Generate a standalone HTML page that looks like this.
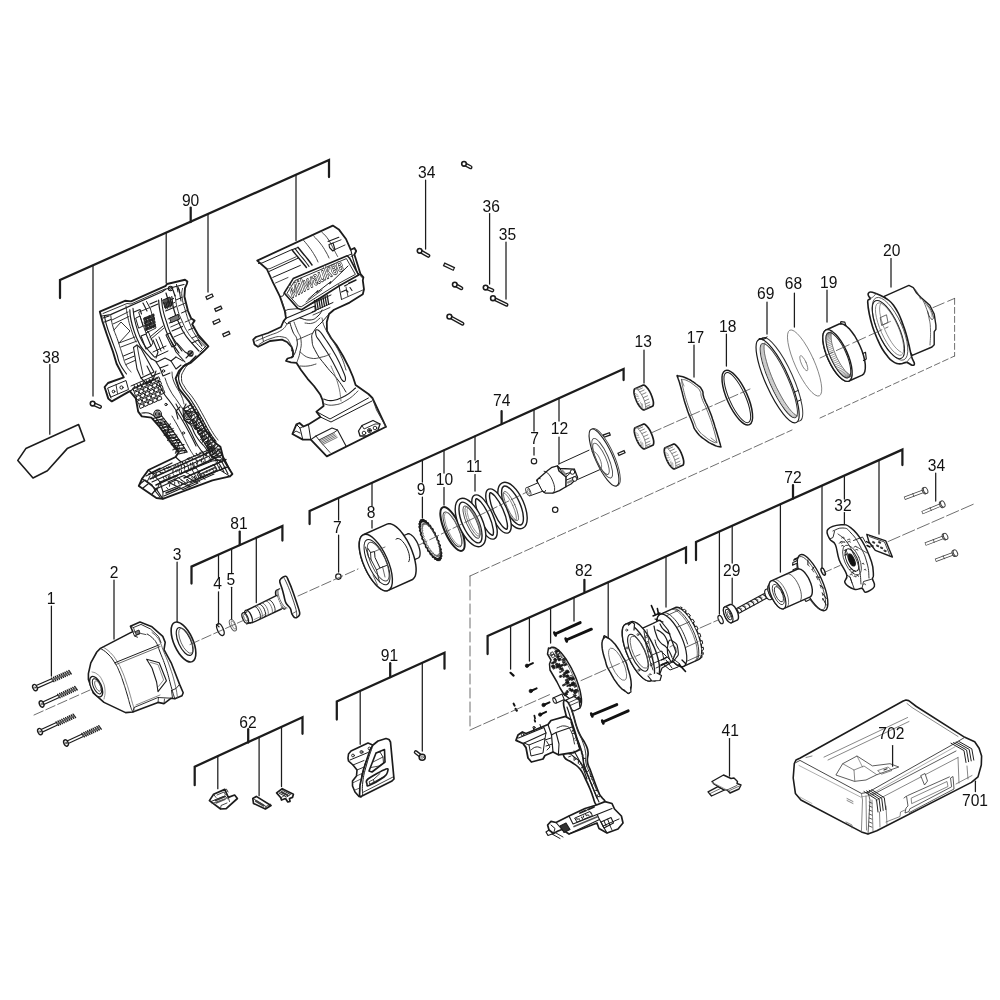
<!DOCTYPE html>
<html><head><meta charset="utf-8"><title>Exploded view</title>
<style>
html,body{margin:0;padding:0;background:#fff;}
svg{display:block;opacity:0.999;}
text{font-family:"Liberation Sans",sans-serif;fill:#111;}
</style></head><body>
<svg width="1000" height="1000" viewBox="0 0 1000 1000" stroke-linecap="round" stroke-linejoin="round">
<rect x="0" y="0" width="1000" height="1000" fill="#fff"/>
<g id="brackets">
<path d="M60 298 L60 280 L329 160 L329 177" fill="none" stroke="#1c1c1c" stroke-width="2.25" stroke-linejoin="miter"/>
<line x1="190.7" y1="207.5" x2="190.7" y2="222" stroke="#1c1c1c" stroke-width="2.25" />
<line x1="93" y1="265.3" x2="93" y2="396" stroke="#1c1c1c" stroke-width="1.25" />
<line x1="166.2" y1="232.6" x2="166.2" y2="283" stroke="#1c1c1c" stroke-width="1.25" />
<line x1="208" y1="214" x2="208" y2="292" stroke="#1c1c1c" stroke-width="1.25" />
<line x1="296" y1="174.7" x2="296" y2="240.5" stroke="#1c1c1c" stroke-width="1.25" />
<path d="M309.6 524 L309.6 511 L623.6 369 L623.6 380" fill="none" stroke="#1c1c1c" stroke-width="2.25" stroke-linejoin="miter"/>
<line x1="501.6" y1="411" x2="501.6" y2="424" stroke="#1c1c1c" stroke-width="2.25" />
<path d="M191.5 583.6 L191.5 566.6 L282.4 526.1 L282.4 540.6" fill="none" stroke="#1c1c1c" stroke-width="2.25" stroke-linejoin="miter"/>
<line x1="239.7" y1="531.5" x2="239.7" y2="545" stroke="#1c1c1c" stroke-width="2.25" />
<path d="M696 560 L696 542 L902.4 449.6 L902.4 465.1" fill="none" stroke="#1c1c1c" stroke-width="2.25" stroke-linejoin="miter"/>
<line x1="793" y1="485" x2="793" y2="498.5" stroke="#1c1c1c" stroke-width="2.25" />
<path d="M487.6 654 L487.6 636 L686 547.5 L686 563" fill="none" stroke="#1c1c1c" stroke-width="2.25" stroke-linejoin="miter"/>
<line x1="584.4" y1="579.8" x2="584.4" y2="591.5" stroke="#1c1c1c" stroke-width="2.25" />
<path d="M336.8 719.5 L336.8 701.5 L444.5 652.7 L444.5 668.7" fill="none" stroke="#1c1c1c" stroke-width="2.25" stroke-linejoin="miter"/>
<line x1="390.2" y1="663.2" x2="390.2" y2="677" stroke="#1c1c1c" stroke-width="2.25" />
<path d="M194.7 785.2 L194.7 766.7 L302.5 717.3 L302.5 733.8" fill="none" stroke="#1c1c1c" stroke-width="2.25" stroke-linejoin="miter"/>
<line x1="248.2" y1="729.2" x2="248.2" y2="742.5" stroke="#1c1c1c" stroke-width="2.25" />
</g>
<g id="leaders">
<line x1="49.8" y1="364.5" x2="49.8" y2="434.2" stroke="#1c1c1c" stroke-width="1.25" />
<line x1="425.6" y1="180" x2="425.6" y2="249" stroke="#1c1c1c" stroke-width="1.25" />
<line x1="489.6" y1="213.6" x2="489.6" y2="284" stroke="#1c1c1c" stroke-width="1.25" />
<line x1="506" y1="242" x2="506" y2="299" stroke="#1c1c1c" stroke-width="1.25" />
<line x1="644" y1="350" x2="644" y2="383" stroke="#1c1c1c" stroke-width="1.25" />
<line x1="694" y1="345" x2="694" y2="377" stroke="#1c1c1c" stroke-width="1.25" />
<line x1="726.4" y1="334" x2="726.4" y2="366" stroke="#1c1c1c" stroke-width="1.25" />
<line x1="767" y1="302" x2="767" y2="334" stroke="#1c1c1c" stroke-width="1.25" />
<line x1="794.4" y1="293" x2="794.4" y2="327" stroke="#1c1c1c" stroke-width="1.25" />
<line x1="827" y1="290" x2="827" y2="322" stroke="#1c1c1c" stroke-width="1.25" />
<line x1="891" y1="258.5" x2="891" y2="287" stroke="#1c1c1c" stroke-width="1.25" />
<line x1="935.7" y1="473" x2="935.7" y2="501" stroke="#1c1c1c" stroke-width="1.25" />
<line x1="51.4" y1="606" x2="51.4" y2="676" stroke="#1c1c1c" stroke-width="1.25" />
<line x1="114" y1="580" x2="114" y2="639" stroke="#1c1c1c" stroke-width="1.25" />
<line x1="177.1" y1="562" x2="177.1" y2="621.5" stroke="#1c1c1c" stroke-width="1.25" />
<line x1="729.5" y1="738.5" x2="729.5" y2="776" stroke="#1c1c1c" stroke-width="1.25" />
<line x1="975.4" y1="781.2" x2="975.4" y2="791.5" stroke="#1c1c1c" stroke-width="1.25" />
<line x1="338.6" y1="497.9" x2="338.6" y2="520" stroke="#1c1c1c" stroke-width="1.25" />
<line x1="338.6" y1="535" x2="338.6" y2="572" stroke="#1c1c1c" stroke-width="1.25" />
<line x1="372" y1="482.8" x2="372" y2="506" stroke="#1c1c1c" stroke-width="1.25" />
<line x1="372" y1="520.5" x2="372" y2="528" stroke="#1c1c1c" stroke-width="1.25" />
<line x1="422.4" y1="460" x2="422.4" y2="482" stroke="#1c1c1c" stroke-width="1.25" />
<line x1="422.4" y1="497" x2="422.4" y2="518" stroke="#1c1c1c" stroke-width="1.25" />
<line x1="444" y1="450.2" x2="444" y2="473" stroke="#1c1c1c" stroke-width="1.25" />
<line x1="444" y1="487.5" x2="444" y2="505" stroke="#1c1c1c" stroke-width="1.25" />
<line x1="475" y1="436.2" x2="475" y2="460" stroke="#1c1c1c" stroke-width="1.25" />
<line x1="475" y1="474.5" x2="475" y2="491" stroke="#1c1c1c" stroke-width="1.25" />
<line x1="534" y1="409.5" x2="534" y2="431" stroke="#1c1c1c" stroke-width="1.25" />
<line x1="534" y1="447.5" x2="534" y2="455" stroke="#1c1c1c" stroke-width="1.25" />
<line x1="559" y1="398.2" x2="559" y2="421" stroke="#1c1c1c" stroke-width="1.25" />
<line x1="559" y1="437" x2="559" y2="464" stroke="#1c1c1c" stroke-width="1.25" />
<line x1="218.5" y1="554.6" x2="218.5" y2="577.4" stroke="#1c1c1c" stroke-width="1.25" />
<line x1="218.5" y1="591.8" x2="218.5" y2="624" stroke="#1c1c1c" stroke-width="1.25" />
<line x1="231.6" y1="548.7" x2="231.6" y2="573" stroke="#1c1c1c" stroke-width="1.25" />
<line x1="231.6" y1="587.3" x2="231.6" y2="619.5" stroke="#1c1c1c" stroke-width="1.25" />
<line x1="256.3" y1="537.7" x2="256.3" y2="602.6" stroke="#1c1c1c" stroke-width="1.25" />
<line x1="719.4" y1="531.5" x2="719.4" y2="614" stroke="#1c1c1c" stroke-width="1.25" />
<line x1="732.2" y1="525.8" x2="732.2" y2="563" stroke="#1c1c1c" stroke-width="1.25" />
<line x1="732.2" y1="578" x2="732.2" y2="603.5" stroke="#1c1c1c" stroke-width="1.25" />
<line x1="780.4" y1="504.2" x2="780.4" y2="572" stroke="#1c1c1c" stroke-width="1.25" />
<line x1="822" y1="485.6" x2="822" y2="568" stroke="#1c1c1c" stroke-width="1.25" />
<line x1="844.4" y1="475.6" x2="844.4" y2="499" stroke="#1c1c1c" stroke-width="1.25" />
<line x1="844.4" y1="512.6" x2="844.4" y2="524" stroke="#1c1c1c" stroke-width="1.25" />
<line x1="879" y1="460.1" x2="879" y2="534" stroke="#1c1c1c" stroke-width="1.25" />
<line x1="510.6" y1="625.7" x2="510.6" y2="669" stroke="#1c1c1c" stroke-width="1.25" />
<line x1="529.4" y1="617.4" x2="529.4" y2="661" stroke="#1c1c1c" stroke-width="1.25" />
<line x1="550.6" y1="607.9" x2="550.6" y2="643" stroke="#1c1c1c" stroke-width="1.25" />
<line x1="574" y1="597.5" x2="574" y2="621" stroke="#1c1c1c" stroke-width="1.25" />
<line x1="608.2" y1="582.2" x2="608.2" y2="638" stroke="#1c1c1c" stroke-width="1.25" />
<line x1="666" y1="556.4" x2="666" y2="607" stroke="#1c1c1c" stroke-width="1.25" />
<line x1="360.2" y1="690.9" x2="360.2" y2="744.2" stroke="#1c1c1c" stroke-width="1.25" />
<line x1="422.3" y1="662.8" x2="422.3" y2="751" stroke="#1c1c1c" stroke-width="1.25" />
<line x1="217.8" y1="756.1" x2="217.8" y2="788.7" stroke="#1c1c1c" stroke-width="1.25" />
<line x1="259.1" y1="737.2" x2="259.1" y2="795.7" stroke="#1c1c1c" stroke-width="1.25" />
<line x1="281.5" y1="726.9" x2="281.5" y2="786.6" stroke="#1c1c1c" stroke-width="1.25" />
</g>
<g id="p38">
<path d="M25.8 448.6 L78.6 424.6 L84.6 440.8 L67.2 448.6 L47.4 470.8 L33 478 L17.8 460.4Z" fill="#fff" stroke="#1c1c1c" stroke-width="1.6" />
</g>
<g id="screws_top">
<line x1="464" y1="163.8" x2="470.5" y2="167.2" stroke="#1c1c1c" stroke-width="4.1" />
<line x1="464" y1="163.8" x2="470.5" y2="167.2" stroke="#fff" stroke-width="1.3" />
<circle cx="464" cy="163.8" r="2.3" fill="#fff" stroke="#1c1c1c" stroke-width="1.6"/>
<line x1="419.6" y1="250.8" x2="428.3" y2="255.8" stroke="#1c1c1c" stroke-width="4.1" />
<line x1="419.6" y1="250.8" x2="428.3" y2="255.8" stroke="#fff" stroke-width="1.3" />
<circle cx="419.6" cy="250.8" r="2.3" fill="#fff" stroke="#1c1c1c" stroke-width="1.6"/>
<line x1="443.6" y1="264.1" x2="454.4" y2="269.2" stroke="#1c1c1c" stroke-width="4.1000000000000005" stroke-linecap="butt"/>
<line x1="444.7" y1="264.6" x2="453.3" y2="268.7" stroke="#fff" stroke-width="1.5000000000000002" stroke-linecap="butt"/>
<line x1="454.8" y1="284.6" x2="461.3" y2="288.2" stroke="#1c1c1c" stroke-width="4.1" />
<line x1="454.8" y1="284.6" x2="461.3" y2="288.2" stroke="#fff" stroke-width="1.3" />
<circle cx="454.8" cy="284.6" r="2.3" fill="#fff" stroke="#1c1c1c" stroke-width="1.6"/>
<line x1="485.6" y1="287.6" x2="492.3" y2="290.3" stroke="#1c1c1c" stroke-width="4.1" />
<line x1="485.6" y1="287.6" x2="492.3" y2="290.3" stroke="#fff" stroke-width="1.3" />
<circle cx="485.6" cy="287.6" r="2.3" fill="#fff" stroke="#1c1c1c" stroke-width="1.6"/>
<line x1="493" y1="298.2" x2="506.5" y2="304.8" stroke="#1c1c1c" stroke-width="3.9" />
<line x1="493" y1="298.2" x2="506.5" y2="304.8" stroke="#fff" stroke-width="1.0999999999999999" />
<circle cx="493" cy="298.2" r="2.4" fill="#fff" stroke="#1c1c1c" stroke-width="1.6"/>
<line x1="449.4" y1="316.6" x2="462.5" y2="323.7" stroke="#1c1c1c" stroke-width="3.9" />
<line x1="449.4" y1="316.6" x2="462.5" y2="323.7" stroke="#fff" stroke-width="1.0999999999999999" />
<circle cx="449.4" cy="316.6" r="2.4" fill="#fff" stroke="#1c1c1c" stroke-width="1.6"/>
<line x1="92.6" y1="403.6" x2="100" y2="406.8" stroke="#1c1c1c" stroke-width="4.1" />
<line x1="92.6" y1="403.6" x2="100" y2="406.8" stroke="#fff" stroke-width="1.3" />
<circle cx="92.6" cy="403.6" r="2.3" fill="#fff" stroke="#1c1c1c" stroke-width="1.6"/>
<line x1="205.9" y1="298.3" x2="213.1" y2="295" stroke="#1c1c1c" stroke-width="4.1000000000000005" stroke-linecap="butt"/>
<line x1="207" y1="297.8" x2="212" y2="295.5" stroke="#fff" stroke-width="1.5000000000000002" stroke-linecap="butt"/>
<line x1="214.7" y1="310.4" x2="221.9" y2="307.1" stroke="#1c1c1c" stroke-width="4.1000000000000005" stroke-linecap="butt"/>
<line x1="215.8" y1="309.9" x2="220.8" y2="307.6" stroke="#fff" stroke-width="1.5000000000000002" stroke-linecap="butt"/>
<line x1="212.9" y1="323.3" x2="220.1" y2="320" stroke="#1c1c1c" stroke-width="4.1000000000000005" stroke-linecap="butt"/>
<line x1="214" y1="322.8" x2="219" y2="320.5" stroke="#fff" stroke-width="1.5000000000000002" stroke-linecap="butt"/>
<line x1="222.7" y1="335.7" x2="229.9" y2="332.4" stroke="#1c1c1c" stroke-width="4.1000000000000005" stroke-linecap="butt"/>
<line x1="223.8" y1="335.2" x2="228.8" y2="332.9" stroke="#fff" stroke-width="1.5000000000000002" stroke-linecap="butt"/>
</g>
<g id="p1">
<line x1="35" y1="687.6" x2="52.3" y2="680" stroke="#1c1c1c" stroke-width="4.0" stroke-linecap="butt"/>
<line x1="34.5" y1="687.8" x2="52.3" y2="680" stroke="#fff" stroke-width="1.6" stroke-linecap="butt"/>
<line x1="51.5" y1="678.1" x2="53.9" y2="681.6" stroke="#1c1c1c" stroke-width="1.35" />
<line x1="53.4" y1="677.2" x2="55.8" y2="680.8" stroke="#1c1c1c" stroke-width="1.35" />
<line x1="55.3" y1="676.4" x2="57.7" y2="679.9" stroke="#1c1c1c" stroke-width="1.35" />
<line x1="57.2" y1="675.5" x2="59.6" y2="679.1" stroke="#1c1c1c" stroke-width="1.35" />
<line x1="59.1" y1="674.7" x2="61.6" y2="678.2" stroke="#1c1c1c" stroke-width="1.35" />
<line x1="61.1" y1="673.9" x2="63.5" y2="677.4" stroke="#1c1c1c" stroke-width="1.35" />
<line x1="63" y1="673" x2="65.4" y2="676.5" stroke="#1c1c1c" stroke-width="1.35" />
<line x1="64.9" y1="672.2" x2="67.3" y2="675.7" stroke="#1c1c1c" stroke-width="1.35" />
<line x1="66.8" y1="671.3" x2="69.3" y2="674.8" stroke="#1c1c1c" stroke-width="1.35" />
<line x1="68.8" y1="670.5" x2="71.2" y2="674" stroke="#1c1c1c" stroke-width="1.35" />
<line x1="52.3" y1="680" x2="69.6" y2="672.4" stroke="#666" stroke-width="1.6" />
<ellipse cx="35" cy="687.6" rx="2.1" ry="3.3" transform="rotate(-24.2 35 687.6)" fill="#fff" stroke="#1c1c1c" stroke-width="1.4" />
<circle cx="35" cy="687.6" r="0.8" fill="none" stroke="#1c1c1c" stroke-width="0.6"/>
<line x1="41.6" y1="704" x2="58.6" y2="696.2" stroke="#1c1c1c" stroke-width="4.0" stroke-linecap="butt"/>
<line x1="41.1" y1="704.2" x2="58.6" y2="696.2" stroke="#fff" stroke-width="1.6" stroke-linecap="butt"/>
<line x1="57.7" y1="694.3" x2="60.2" y2="697.8" stroke="#1c1c1c" stroke-width="1.35" />
<line x1="59.6" y1="693.4" x2="62.1" y2="696.9" stroke="#1c1c1c" stroke-width="1.35" />
<line x1="61.5" y1="692.6" x2="64" y2="696" stroke="#1c1c1c" stroke-width="1.35" />
<line x1="63.4" y1="691.7" x2="65.9" y2="695.2" stroke="#1c1c1c" stroke-width="1.35" />
<line x1="65.3" y1="690.8" x2="67.8" y2="694.3" stroke="#1c1c1c" stroke-width="1.35" />
<line x1="67.2" y1="690" x2="69.6" y2="693.4" stroke="#1c1c1c" stroke-width="1.35" />
<line x1="69.1" y1="689.1" x2="71.5" y2="692.6" stroke="#1c1c1c" stroke-width="1.35" />
<line x1="70.9" y1="688.2" x2="73.4" y2="691.7" stroke="#1c1c1c" stroke-width="1.35" />
<line x1="72.8" y1="687.4" x2="75.3" y2="690.8" stroke="#1c1c1c" stroke-width="1.35" />
<line x1="74.7" y1="686.5" x2="77.2" y2="690" stroke="#1c1c1c" stroke-width="1.35" />
<line x1="58.6" y1="696.2" x2="75.6" y2="688.4" stroke="#666" stroke-width="1.6" />
<ellipse cx="41.6" cy="704" rx="2.1" ry="3.3" transform="rotate(-24.2 41.6 704)" fill="#fff" stroke="#1c1c1c" stroke-width="1.4" />
<circle cx="41.6" cy="704" r="0.8" fill="none" stroke="#1c1c1c" stroke-width="0.6"/>
<line x1="40" y1="731.6" x2="57" y2="723.8" stroke="#1c1c1c" stroke-width="4.0" stroke-linecap="butt"/>
<line x1="39.5" y1="731.8" x2="57" y2="723.8" stroke="#fff" stroke-width="1.6" stroke-linecap="butt"/>
<line x1="56.1" y1="721.9" x2="58.6" y2="725.4" stroke="#1c1c1c" stroke-width="1.35" />
<line x1="58" y1="721" x2="60.5" y2="724.5" stroke="#1c1c1c" stroke-width="1.35" />
<line x1="59.9" y1="720.2" x2="62.4" y2="723.6" stroke="#1c1c1c" stroke-width="1.35" />
<line x1="61.8" y1="719.3" x2="64.3" y2="722.8" stroke="#1c1c1c" stroke-width="1.35" />
<line x1="63.7" y1="718.4" x2="66.2" y2="721.9" stroke="#1c1c1c" stroke-width="1.35" />
<line x1="65.6" y1="717.6" x2="68" y2="721" stroke="#1c1c1c" stroke-width="1.35" />
<line x1="67.5" y1="716.7" x2="69.9" y2="720.2" stroke="#1c1c1c" stroke-width="1.35" />
<line x1="69.3" y1="715.8" x2="71.8" y2="719.3" stroke="#1c1c1c" stroke-width="1.35" />
<line x1="71.2" y1="715" x2="73.7" y2="718.4" stroke="#1c1c1c" stroke-width="1.35" />
<line x1="73.1" y1="714.1" x2="75.6" y2="717.6" stroke="#1c1c1c" stroke-width="1.35" />
<line x1="57" y1="723.8" x2="74" y2="716" stroke="#666" stroke-width="1.6" />
<ellipse cx="40" cy="731.6" rx="2.1" ry="3.3" transform="rotate(-24.2 40 731.6)" fill="#fff" stroke="#1c1c1c" stroke-width="1.4" />
<circle cx="40" cy="731.6" r="0.8" fill="none" stroke="#1c1c1c" stroke-width="0.6"/>
<line x1="66" y1="743" x2="82.8" y2="735.3" stroke="#1c1c1c" stroke-width="4.0" stroke-linecap="butt"/>
<line x1="65.5" y1="743.2" x2="82.8" y2="735.3" stroke="#fff" stroke-width="1.6" stroke-linecap="butt"/>
<line x1="81.9" y1="733.4" x2="84.4" y2="736.9" stroke="#1c1c1c" stroke-width="1.35" />
<line x1="83.8" y1="732.5" x2="86.3" y2="736" stroke="#1c1c1c" stroke-width="1.35" />
<line x1="85.7" y1="731.7" x2="88.1" y2="735.2" stroke="#1c1c1c" stroke-width="1.35" />
<line x1="87.5" y1="730.8" x2="90" y2="734.3" stroke="#1c1c1c" stroke-width="1.35" />
<line x1="89.4" y1="730" x2="91.9" y2="733.5" stroke="#1c1c1c" stroke-width="1.35" />
<line x1="91.3" y1="729.1" x2="93.7" y2="732.6" stroke="#1c1c1c" stroke-width="1.35" />
<line x1="93.1" y1="728.3" x2="95.6" y2="731.7" stroke="#1c1c1c" stroke-width="1.35" />
<line x1="95" y1="727.4" x2="97.5" y2="730.9" stroke="#1c1c1c" stroke-width="1.35" />
<line x1="96.9" y1="726.5" x2="99.3" y2="730" stroke="#1c1c1c" stroke-width="1.35" />
<line x1="98.7" y1="725.7" x2="101.2" y2="729.2" stroke="#1c1c1c" stroke-width="1.35" />
<line x1="82.8" y1="735.3" x2="99.6" y2="727.6" stroke="#666" stroke-width="1.6" />
<ellipse cx="66" cy="743" rx="2.1" ry="3.3" transform="rotate(-24.2 66 743)" fill="#fff" stroke="#1c1c1c" stroke-width="1.4" />
<circle cx="66" cy="743" r="0.8" fill="none" stroke="#1c1c1c" stroke-width="0.6"/>
</g>
<g id="p34r">
<line x1="904.4" y1="498.3" x2="923.7" y2="491.1" stroke="#444" stroke-width="3.4" stroke-linecap="butt"/>
<line x1="905" y1="498.1" x2="923.7" y2="491.1" stroke="#fff" stroke-width="1.9" stroke-linecap="butt"/>
<line x1="912.7" y1="493.5" x2="913.9" y2="496.5" stroke="#444" stroke-width="0.8" />
<ellipse cx="924.5" cy="490.8" rx="2" ry="3.3" transform="rotate(-24.2 924.5 490.8)" fill="#fff" stroke="#444" stroke-width="1.0" />
<ellipse cx="925.6" cy="490.4" rx="2" ry="3.3" transform="rotate(-24.2 925.6 490.4)" fill="#fff" stroke="#444" stroke-width="1.0" />
<line x1="922" y1="512.7" x2="941" y2="504.8" stroke="#444" stroke-width="3.4" stroke-linecap="butt"/>
<line x1="922.6" y1="512.5" x2="941" y2="504.8" stroke="#fff" stroke-width="1.9" stroke-linecap="butt"/>
<line x1="930.1" y1="507.6" x2="931.4" y2="510.5" stroke="#444" stroke-width="0.8" />
<ellipse cx="941.7" cy="504.5" rx="2" ry="3.3" transform="rotate(-24.2 941.7 504.5)" fill="#fff" stroke="#444" stroke-width="1.0" />
<ellipse cx="942.8" cy="504" rx="2" ry="3.3" transform="rotate(-24.2 942.8 504)" fill="#fff" stroke="#444" stroke-width="1.0" />
<line x1="925.2" y1="544.2" x2="943.7" y2="537.1" stroke="#444" stroke-width="3.4" stroke-linecap="butt"/>
<line x1="925.8" y1="544" x2="943.7" y2="537.1" stroke="#fff" stroke-width="1.9" stroke-linecap="butt"/>
<line x1="933.2" y1="539.4" x2="934.3" y2="542.4" stroke="#444" stroke-width="0.8" />
<ellipse cx="944.5" cy="536.8" rx="2" ry="3.3" transform="rotate(-24.2 944.5 536.8)" fill="#fff" stroke="#444" stroke-width="1.0" />
<ellipse cx="945.6" cy="536.4" rx="2" ry="3.3" transform="rotate(-24.2 945.6 536.4)" fill="#fff" stroke="#444" stroke-width="1.0" />
<line x1="935.4" y1="560.4" x2="953.5" y2="553.7" stroke="#444" stroke-width="3.4" stroke-linecap="butt"/>
<line x1="936" y1="560.2" x2="953.5" y2="553.7" stroke="#fff" stroke-width="1.9" stroke-linecap="butt"/>
<line x1="943.2" y1="555.8" x2="944.4" y2="558.8" stroke="#444" stroke-width="0.8" />
<ellipse cx="954.3" cy="553.4" rx="2" ry="3.3" transform="rotate(-24.2 954.3 553.4)" fill="#fff" stroke="#444" stroke-width="1.0" />
<ellipse cx="955.4" cy="553" rx="2" ry="3.3" transform="rotate(-24.2 955.4 553)" fill="#fff" stroke="#444" stroke-width="1.0" />
</g>
<g id="p2">
<path d="M88.4 673.6 L90.8 662.8 L96.8 652 L100.4 648.4 L129.2 633.4 L132.8 631.6 L130.4 626.2 L140 622 L152 626.8 L162.8 636.4 L165.2 642.4 L164 649.6 L171.2 662.8 L179.6 684.4 L183.2 692.8 L182 695.8 L174.8 698.8 L171.2 698.2 L164 703.6 L158 702.4 L132.8 712 L125.6 712.6 L104 702.4 L93.2 692.8 L88.4 679.6Z" fill="#fff" stroke="#1c1c1c" stroke-width="1.6" />
<path d="M100.4 648.4 C102.4 649.9 104.2 650.2 108 654 C111.8 657.8 111.7 658 114.8 662.8 C117.9 667.6 117.3 666.9 119.5 672 C121.7 677.1 121.2 676.1 123.2 682 C125.2 687.9 125.1 687.6 127 694 C128.9 700.4 128.9 701.2 130.4 706 C131.9 710.8 132.2 710.4 132.8 712" fill="none" stroke="#1c1c1c" stroke-width="1.0" />
<path d="M103 647 C105 648.5 106.7 648.9 110.5 652.8 C114.3 656.7 114.1 656.7 117.2 661.6 C120.3 666.5 119.7 665.8 122 671 C124.3 676.2 123.8 675.1 125.8 681 C127.8 686.9 127.7 686.6 129.6 693 C131.5 699.4 131.5 700.2 133 705 C134.5 709.8 134.8 709.4 135.4 711" fill="none" stroke="#555" stroke-width="0.7" />
<path d="M114.8 662.8 L159.2 644.8" fill="none" stroke="#1c1c1c" stroke-width="1.0" />
<path d="M115.8 664.6 L160 646.6" fill="none" stroke="#444" stroke-width="0.8" />
<path d="M132.8 631.6 L134.5 636 L137.5 637.2" fill="none" stroke="#1c1c1c" stroke-width="1.0" />
<path d="M130.4 626.2 L133.5 627.5 L141 624.4 L150.5 629 L158.5 636.5 L161 642.5" fill="none" stroke="#1c1c1c" stroke-width="0.9" />
<path d="M133.5 627.5 L135 632.5" fill="none" stroke="#1c1c1c" stroke-width="0.8" />
<path d="M135.5 631.5 L139 630 L140 633.5 L136.6 635Z" fill="#777" stroke="#1c1c1c" stroke-width="0.9" />
<path d="M134.5 636 L140.5 633.4 L146 634.6" fill="none" stroke="#1c1c1c" stroke-width="0.8" />
<path d="M147.2 634 C148.6 635.1 149.9 635.4 152.5 638 C155.1 640.6 154.8 639.9 156.8 643.6 C158.8 647.3 157.5 645.5 160 652 C162.5 658.5 163 658.7 166 668 C169 677.3 168.9 678.6 171.2 686.8 C173.5 695 173.8 695.6 174.8 698.8" fill="none" stroke="#1c1c1c" stroke-width="1.0" />
<path d="M152 632.5 C153.3 633.7 154.7 634.2 157 637 C159.3 639.8 158.8 639.3 160.5 643 C162.2 646.7 161.1 644.9 163.5 651 C165.9 657.1 166.4 657.2 169.5 666 C172.6 674.8 172.9 675.6 175 684 C177.1 692.4 176.8 693.9 177.5 697.5" fill="none" stroke="#444" stroke-width="0.8" />
<path d="M146.6 659.2 L159.2 662.8 L166.4 680.8 L158 691.6 L156.6 682 L152 668Z" fill="none" stroke="#1c1c1c" stroke-width="1.1" />
<path d="M150.5 662.4 L158 664.6 L163.6 680 L158.6 686.4" fill="none" stroke="#555" stroke-width="0.7" />
<path d="M132.8 712 L134 707.5 L158 697.5 L171.2 698.2" fill="none" stroke="#1c1c1c" stroke-width="0.9" />
<path d="M136 705 L160 695" fill="none" stroke="#555" stroke-width="0.7" />
<path d="M158 702.4 L158.5 697.5" fill="none" stroke="#1c1c1c" stroke-width="0.8" />
<path d="M164 703.6 L164.5 699" fill="none" stroke="#1c1c1c" stroke-width="0.8" />
<path d="M171.5 690.5 L176 688.5 L179.6 684.4" fill="none" stroke="#1c1c1c" stroke-width="0.9" />
<path d="M171.5 690.5 L172.5 698" fill="none" stroke="#1c1c1c" stroke-width="0.9" />
<ellipse cx="96.2" cy="686.6" rx="5.2" ry="11" transform="rotate(-24.2 96.2 686.6)" fill="#fff" stroke="#1c1c1c" stroke-width="1.3" />
<ellipse cx="97" cy="686.3" rx="3.6" ry="8.2" transform="rotate(-24.2 97 686.3)" fill="none" stroke="#1c1c1c" stroke-width="1.0" />
<ellipse cx="97.8" cy="686" rx="2.4" ry="5.6" transform="rotate(-24.2 97.8 686)" fill="none" stroke="#555" stroke-width="0.8" />
<path d="M92 672 C93.3 672.5 94.3 671.9 97 674 C99.7 676.1 99.9 675.7 102 680 C104.1 684.3 104.5 684.9 105 690 C105.5 695.1 104.3 696.6 104 699" fill="none" stroke="#666" stroke-width="0.7" />
</g>
<g id="p3">
<ellipse cx="183.5" cy="642" rx="9.5" ry="21.5" transform="rotate(-24.2 183.5 642)" fill="#fff" stroke="#1c1c1c" stroke-width="1.6" />
<ellipse cx="184.6" cy="641.5" rx="6.2" ry="15" transform="rotate(-24.2 184.6 641.5)" fill="none" stroke="#1c1c1c" stroke-width="1.2" />
<ellipse cx="186" cy="640.8" rx="5.2" ry="13.5" transform="rotate(-24.2 186 640.8)" fill="none" stroke="#555" stroke-width="0.8" />
</g>
<g id="p45">
<ellipse cx="220.4" cy="629.6" rx="2.9" ry="6.3" transform="rotate(-24.2 220.4 629.6)" fill="none" stroke="#1c1c1c" stroke-width="1.3" />
<path d="M216.4 624.6 L219 626.8" fill="none" stroke="#1c1c1c" stroke-width="1.2" />
<ellipse cx="232.9" cy="625.2" rx="2.7" ry="6.2" transform="rotate(-24.2 232.9 625.2)" fill="none" stroke="#555" stroke-width="0.9" />
<ellipse cx="233.5" cy="625" rx="1.5" ry="4.6" transform="rotate(-24.2 233.5 625)" fill="none" stroke="#777" stroke-width="0.7" />
</g>
<g id="anvil">
<path d="M280.4 579.3 C281.4 578.3 284.5 576 285.9 576.3 C287.3 576.6 287.4 578.3 288.6 580.9 C289.8 583.5 291.4 587.3 293 591.9 C294.6 596.5 297.4 604.6 298.5 608.4 C299.6 612.2 300.2 612.9 299.6 614.5 C299.1 616.1 296.5 617.9 295.2 617.8 C293.9 617.7 292.7 615.5 291.9 613.9 C291.1 612.3 291.3 610.2 290.3 608.4 C289.3 606.6 286.9 605 285.9 602.9 C284.8 600.8 284.6 598.4 284 596 C283.4 593.6 282.7 590.9 282 588.6 C281.3 586.3 280.1 583.5 279.8 582 C279.5 580.5 279.4 580.2 280.4 579.3Z" fill="#fff" stroke="#1c1c1c" stroke-width="1.6" />
<path d="M284 578 C284.5 579 285.2 579.8 286.6 583 C288 586.2 289.1 588.7 291 594 C292.9 599.3 294.9 605 296 609.5 C297.1 614 296.5 615 296.6 616.4" fill="none" stroke="#333" stroke-width="0.9" />
<path d="M291.9 613.9 L296 611.6" fill="none" stroke="#444" stroke-width="0.8" />
<path d="M284.8 609.2 L283.7 609 L282.6 608.3 L281.3 607.1 L279.9 605.4 L278.7 603.4 L277.5 601.1 L276.6 598.7 L275.9 596.4 L275.5 594.3 L275.4 592.5 L275.7 591.1 L276.3 590.3 L279.7 588.8" fill="#fff" stroke="#1c1c1c" stroke-width="1.2" />
<path d="M285.8 608.6 L284.8 608.3 L283.6 607.5 L282.4 606.2 L281.1 604.5 L279.9 602.5 L278.8 600.3 L278 598.1 L277.3 595.8 L276.9 593.8 L276.8 592.1 L277 590.7 L277.5 589.8" fill="none" stroke="#444" stroke-width="0.8" />
<path d="M287 608 L286 607.7 L284.8 606.9 L283.6 605.6 L282.3 603.9 L281.1 601.9 L280 599.7 L279.2 597.5 L278.5 595.2 L278.1 593.2 L278 591.5 L278.2 590.1 L278.7 589.2" fill="none" stroke="#444" stroke-width="0.8" />
<path d="M247.4 610 L276.5 595.2 L282 609 L252.3 622.7Z" fill="#fff" stroke="#1c1c1c" stroke-width="0.0" />
<line x1="247.4" y1="610" x2="276.8" y2="595.4" stroke="#1c1c1c" stroke-width="1.4" />
<line x1="252.3" y1="622.7" x2="281.4" y2="609" stroke="#1c1c1c" stroke-width="1.4" />
<ellipse cx="248.4" cy="616.6" rx="3" ry="6.9" transform="rotate(-24.2 248.4 616.6)" fill="#fff" stroke="#1c1c1c" stroke-width="1.3" />
<path d="M243 613.6 L247 611.8" fill="none" stroke="#1c1c1c" stroke-width="1.2" />
<path d="M246.6 624 L250.6 622.6" fill="none" stroke="#1c1c1c" stroke-width="1.2" />
<ellipse cx="245.2" cy="617.9" rx="2.5" ry="5.6" transform="rotate(-24.2 245.2 617.9)" fill="#fff" stroke="#1c1c1c" stroke-width="1.3" />
<ellipse cx="245.6" cy="617.7" rx="1.5" ry="3.8" transform="rotate(-24.2 245.6 617.7)" fill="none" stroke="#555" stroke-width="0.8" />
<path d="M254.2 606.5 L255.2 606.7 L256.3 607.3 L257.4 608.5 L258.4 610 L259.3 611.7 L260 613.5 L260.4 615.3 L260.5 616.9 L260.3 618.1 L259.8 619" fill="none" stroke="#1c1c1c" stroke-width="1.0" />
<path d="M256 605.7 L257 605.9 L258.1 606.5 L259.2 607.6 L260.3 609.1 L261.2 610.9 L261.9 612.7 L262.3 614.5 L262.4 616.1 L262.1 617.3 L261.6 618.2" fill="none" stroke="#555" stroke-width="0.8" />
<path d="M259.2 604.3 L260.2 604.4 L261.3 605.1 L262.4 606.2 L263.5 607.7 L264.4 609.4 L265 611.3 L265.5 613 L265.6 614.6 L265.3 615.9 L264.8 616.7" fill="none" stroke="#1c1c1c" stroke-width="1.0" />
<path d="M261.9 603 L262.9 603.2 L264 603.9 L265.1 605 L266.2 606.5 L267.1 608.2 L267.8 610 L268.2 611.8 L268.3 613.4 L268.1 614.6 L267.5 615.5" fill="none" stroke="#555" stroke-width="0.8" />
<path d="M266 601.2 L267 601.3 L268.1 602 L269.2 603.1 L270.3 604.6 L271.2 606.4 L271.9 608.2 L272.3 610 L272.4 611.5 L272.2 612.8 L271.6 613.6" fill="none" stroke="#555" stroke-width="0.8" />
<path d="M268.8 599.9 L269.8 600.1 L270.8 600.8 L272 601.9 L273 603.4 L273.9 605.1 L274.6 606.9 L275 608.7 L275.1 610.3 L274.9 611.6 L274.4 612.4" fill="none" stroke="#1c1c1c" stroke-width="0.9" />
<line x1="254" y1="619.6" x2="266" y2="614" stroke="#666" stroke-width="0.7" />
</g>
<circle cx="338.4" cy="576.6" r="2.7" fill="#fff" stroke="#1c1c1c" stroke-width="1.2"/>
<circle cx="534" cy="461.2" r="2.7" fill="#fff" stroke="#1c1c1c" stroke-width="1.2"/>
<circle cx="555.2" cy="509.8" r="2.7" fill="#fff" stroke="#1c1c1c" stroke-width="1.2"/>
<g id="p8">
<path d="M397.8 538.3 L407.3 534 L408.4 533.7 L409.7 534 L411 534.7 L412.5 535.9 L413.9 537.4 L415.3 539.3 L416.6 541.4 L417.8 543.7 L418.7 546.1 L419.4 548.5 L419.9 550.8 L420.1 552.9 L420 554.8 L419.7 556.3 L419 557.4 L418.2 558 L408.6 562.3" fill="#fff" stroke="#1c1c1c" stroke-width="1.3" />
<path d="M388.3 590.4 L386.8 590.8 L385 590.7 L383.2 590.2 L381.2 589.2 L379.1 587.7 L376.9 585.7 L374.7 583.4 L372.6 580.8 L370.5 577.8 L368.5 574.6 L366.6 571.1 L364.9 567.5 L363.3 563.8 L362 560.2 L360.9 556.5 L360.1 553 L359.5 549.6 L359.2 546.4 L359.2 543.5 L359.5 541 L360.1 538.8 L360.9 537 L362 535.7 L363.3 534.8 L387 524.1 L388.5 523.7 L390.3 523.8 L392.2 524.4 L394.2 525.4 L396.3 526.9 L398.4 528.8 L400.6 531.1 L402.7 533.8 L404.8 536.8 L406.9 540 L408.7 543.4 L410.5 547 L412 550.7 L413.3 554.4 L414.4 558 L415.2 561.6 L415.8 565 L416.1 568.1 L416.1 571 L415.8 573.6 L415.3 575.8 L414.4 577.5 L413.3 578.9 L412 579.8Z" fill="#fff" stroke="#1c1c1c" stroke-width="1.5" />
<path d="M396 539.2 L397 538.6 L398.2 538.5 L399.7 539 L401.2 540 L402.8 541.6 L404.4 543.6 L405.9 545.9 L407.2 548.4 L408.2 551.1 L409 553.7 L409.4 556.2 L409.5 558.5 L409.3 560.3 L408.7 561.7" fill="none" stroke="#1c1c1c" stroke-width="1.0" />
<ellipse cx="375.8" cy="562.6" rx="12" ry="30.5" transform="rotate(-24.2 375.8 562.6)" fill="#fff" stroke="#1c1c1c" stroke-width="1.4" />
<ellipse cx="377" cy="562.1" rx="9" ry="24.5" transform="rotate(-24.2 377 562.1)" fill="none" stroke="#1c1c1c" stroke-width="1.0" />
<ellipse cx="378.2" cy="561.6" rx="7.4" ry="21" transform="rotate(-24.2 378.2 561.6)" fill="none" stroke="#444" stroke-width="0.9" />
<path d="M368 548.5 L370.5 552.5 L374.5 551.5 L375 557.5 L380 568 L386.5 565.5" fill="none" stroke="#1c1c1c" stroke-width="1.0" />
<path d="M370.5 552.5 L371 559.5 L376.5 570 L380 568" fill="none" stroke="#1c1c1c" stroke-width="0.9" />
<path d="M376.5 570 L379.5 582" fill="none" stroke="#1c1c1c" stroke-width="0.9" />
<path d="M374.5 551.5 L385 547" fill="none" stroke="#444" stroke-width="0.8" />
<path d="M365.5 547 L368.5 557 L371 559.5" fill="none" stroke="#1c1c1c" stroke-width="0.9" />
<path d="M373 575 L377.5 585" fill="none" stroke="#444" stroke-width="0.8" />
<path d="M382.5 566.5 L385 577" fill="none" stroke="#444" stroke-width="0.8" />
</g>
<g id="p9">
<path d="M437 537 C437.5 538.3 436.6 537.8 437.1 539.3 C437.7 540.7 438.2 540.1 438.7 541.3 C439.2 542.6 438.1 541.7 438.6 543.1 C439 544.5 439.8 544.3 440.1 545.6 C440.5 546.8 439.3 545.5 439.6 546.9 C440 548.2 440.9 548.4 441.1 549.6 C441.3 550.7 440.1 549.1 440.3 550.3 C440.5 551.5 441.5 552.1 441.6 553.1 C441.7 554.1 440.5 552.2 440.5 553.2 C440.5 554.2 441.7 555.3 441.6 556.1 C441.5 556.9 440.5 554.9 440.3 555.6 C440.2 556.4 441.3 557.9 441.1 558.4 C440.9 559 440 556.9 439.7 557.4 C439.4 557.8 440.5 559.6 440.2 559.9 C439.8 560.2 439.1 558.1 438.6 558.3 C438.2 558.5 439.3 560.5 438.8 560.5 C438.3 560.6 437.8 558.6 437.2 558.5 C436.6 558.4 437.6 560.5 437.1 560.3 C436.5 560 436.2 558.2 435.5 557.8 C434.8 557.4 435.7 559.6 435 559.1 C434.4 558.6 434.3 557 433.6 556.4 C432.8 555.7 433.5 557.8 432.8 557.1 C432.1 556.4 432.3 555.1 431.5 554.2 C430.7 553.3 431.2 555.3 430.5 554.3 C429.8 553.4 430.2 552.6 429.4 551.5 C428.6 550.3 428.8 552.1 428.1 551 C427.4 549.9 428.1 549.5 427.3 548.2 C426.6 546.9 426.5 548.3 425.9 547.1 C425.2 545.9 426.1 545.9 425.4 544.6 C424.7 543.2 424.4 544.2 423.8 543 C423.3 541.7 424.2 542.2 423.7 540.7 C423.1 539.3 422.6 539.9 422.1 538.7 C421.6 537.4 422.7 538.3 422.2 536.9 C421.8 535.5 421 535.7 420.7 534.4 C420.3 533.2 421.5 534.5 421.2 533.1 C420.8 531.8 419.9 531.6 419.7 530.4 C419.5 529.3 420.7 530.9 420.5 529.7 C420.3 528.5 419.3 527.9 419.2 526.9 C419.1 525.9 420.3 527.8 420.3 526.8 C420.3 525.8 419.1 524.7 419.2 523.9 C419.3 523.1 420.3 525.1 420.5 524.4 C420.6 523.6 419.5 522.1 419.7 521.6 C419.9 521 420.8 523.1 421.1 522.6 C421.4 522.2 420.3 520.4 420.6 520.1 C421 519.8 421.7 521.9 422.2 521.7 C422.6 521.5 421.5 519.5 422 519.5 C422.5 519.4 423 521.4 423.6 521.5 C424.2 521.6 423.2 519.5 423.7 519.7 C424.3 520 424.6 521.8 425.3 522.2 C426 522.6 425.1 520.4 425.8 520.9 C426.4 521.4 426.5 523 427.2 523.6 C428 524.3 427.3 522.2 428 522.9 C428.7 523.6 428.5 524.9 429.3 525.8 C430.1 526.7 429.6 524.7 430.3 525.7 C431 526.6 430.6 527.4 431.4 528.5 C432.2 529.7 432 527.9 432.7 529 C433.4 530.1 432.7 530.5 433.5 531.8 C434.2 533.1 434.3 531.7 434.9 532.9 C435.6 534.1 434.7 534.1 435.4 535.4 C436.1 536.8 436.4 535.8 437 537Z" fill="#fff" stroke="#1c1c1c" stroke-width="1.7" />
<path d="M436.9 538.2 C437.4 539.2 436.4 538.7 436.9 539.9 C437.3 541.2 437.9 540.7 438.3 541.8 C438.7 542.8 437.6 541.9 438 543.1 C438.3 544.3 439.1 544.3 439.4 545.3 C439.7 546.3 438.5 545 438.8 546.1 C439 547.2 440 547.7 440.1 548.6 C440.3 549.5 439.1 547.9 439.2 548.8 C439.3 549.8 440.4 550.7 440.4 551.5 C440.5 552.2 439.4 550.4 439.3 551.2 C439.3 552 440.4 553.2 440.3 553.8 C440.3 554.5 439.2 552.4 439.1 553 C438.9 553.6 440 555.2 439.8 555.6 C439.6 556 438.7 553.9 438.4 554.3 C438.1 554.6 439.3 556.5 439 556.7 C438.6 556.9 437.9 554.8 437.5 554.9 C437.1 555 438.1 557 437.7 557 C437.3 557 436.8 555 436.3 554.9 C435.8 554.7 436.7 556.8 436.2 556.6 C435.7 556.4 435.4 554.5 434.8 554.2 C434.2 553.8 435 555.9 434.4 555.4 C433.9 555 433.8 553.4 433.2 552.8 C432.6 552.2 433.1 554.2 432.5 553.6 C432 553 432.1 551.7 431.5 550.9 C430.8 550.1 431.1 551.9 430.6 551.1 C430 550.3 430.4 549.5 429.7 548.5 C429.1 547.5 429.2 549.1 428.6 548.2 C428 547.3 428.7 546.9 428.1 545.8 C427.4 544.6 427.3 545.9 426.8 544.9 C426.2 543.9 427.1 543.9 426.5 542.7 C425.9 541.5 425.5 542.4 425.1 541.3 C424.6 540.3 425.6 540.8 425.1 539.6 C424.7 538.3 424.1 538.8 423.7 537.7 C423.3 536.7 424.4 537.6 424 536.4 C423.7 535.2 422.9 535.2 422.6 534.2 C422.3 533.2 423.5 534.5 423.2 533.4 C423 532.3 422 531.8 421.9 530.9 C421.7 530 422.9 531.6 422.8 530.7 C422.7 529.7 421.6 528.8 421.6 528 C421.5 527.3 422.6 529.1 422.7 528.3 C422.7 527.5 421.6 526.3 421.7 525.7 C421.7 525 422.8 527.1 422.9 526.5 C423.1 525.9 422 524.3 422.2 523.9 C422.4 523.5 423.3 525.6 423.6 525.2 C423.9 524.9 422.7 523 423 522.8 C423.4 522.6 424.1 524.7 424.5 524.6 C424.9 524.5 423.9 522.5 424.3 522.5 C424.7 522.5 425.2 524.5 425.7 524.6 C426.2 524.8 425.3 522.7 425.8 522.9 C426.3 523.1 426.6 525 427.2 525.3 C427.8 525.7 427 523.6 427.6 524.1 C428.1 524.5 428.2 526.1 428.8 526.7 C429.4 527.3 428.9 525.3 429.5 525.9 C430 526.5 429.9 527.8 430.5 528.6 C431.2 529.4 430.9 527.6 431.4 528.4 C432 529.2 431.6 530 432.3 531 C432.9 532 432.8 530.4 433.4 531.3 C434 532.2 433.3 532.6 433.9 533.7 C434.6 534.9 434.7 533.6 435.2 534.6 C435.8 535.6 434.9 535.6 435.5 536.8 C436.1 538 436.5 537.1 436.9 538.2Z" fill="none" stroke="#444" stroke-width="0.8" />
</g>
<g id="p10">
<ellipse cx="452.5" cy="529" rx="8" ry="23.8" transform="rotate(-24.2 452.5 529)" fill="#fff" stroke="#1c1c1c" stroke-width="2.0" />
<ellipse cx="452.4" cy="529.4" rx="5.8" ry="19" transform="rotate(-24.2 452.4 529.4)" fill="none" stroke="#333" stroke-width="0.9" />
<ellipse cx="453.4" cy="529" rx="5.4" ry="18" transform="rotate(-24.2 453.4 529)" fill="none" stroke="#777" stroke-width="0.7" />
</g>
<g id="p11">
<ellipse cx="512.5" cy="505.5" rx="9.5" ry="23" transform="rotate(-24.2 512.5 505.5)" fill="none" stroke="#1c1c1c" stroke-width="5.2" />
<ellipse cx="512.5" cy="505.5" rx="9.5" ry="23" transform="rotate(-24.2 512.5 505.5)" fill="none" stroke="#fff" stroke-width="2.4" />
<ellipse cx="511" cy="506" rx="4" ry="16" transform="rotate(-24.2 511 506)" fill="none" stroke="#555" stroke-width="0.8" />
<ellipse cx="509.5" cy="506.7" rx="3.5" ry="15" transform="rotate(-24.2 509.5 506.7)" fill="none" stroke="#777" stroke-width="0.8" />
<ellipse cx="498.5" cy="511" rx="6.6" ry="22" transform="rotate(-24.2 498.5 511)" fill="#fff" stroke="#1c1c1c" stroke-width="5.2" />
<ellipse cx="498.5" cy="511" rx="6.6" ry="22" transform="rotate(-24.2 498.5 511)" fill="none" stroke="#fff" stroke-width="2.4" />
<ellipse cx="484.5" cy="517" rx="6.6" ry="22" transform="rotate(-24.2 484.5 517)" fill="#fff" stroke="#1c1c1c" stroke-width="5.2" />
<ellipse cx="484.5" cy="517" rx="6.6" ry="22" transform="rotate(-24.2 484.5 517)" fill="none" stroke="#fff" stroke-width="2.4" />
<ellipse cx="470.5" cy="522.5" rx="10" ry="24" transform="rotate(-24.2 470.5 522.5)" fill="#fff" stroke="#1c1c1c" stroke-width="5.2" />
<ellipse cx="470.5" cy="522.5" rx="10" ry="24" transform="rotate(-24.2 470.5 522.5)" fill="none" stroke="#fff" stroke-width="2.4" />
<ellipse cx="471.5" cy="522.1" rx="5" ry="17.5" transform="rotate(-24.2 471.5 522.1)" fill="none" stroke="#444" stroke-width="0.9" />
<ellipse cx="472.7" cy="521.5" rx="4.4" ry="16" transform="rotate(-24.2 472.7 521.5)" fill="none" stroke="#666" stroke-width="0.8" />
<ellipse cx="473.9" cy="521" rx="3.8" ry="14.5" transform="rotate(-24.2 473.9 521)" fill="none" stroke="#888" stroke-width="0.8" />
</g>
<g id="p12">
<line x1="603.1" y1="436.3" x2="610.4" y2="433.7" stroke="#1c1c1c" stroke-width="3.6999999999999997" stroke-linecap="butt"/>
<line x1="604.2" y1="435.9" x2="609.3" y2="434.1" stroke="#fff" stroke-width="1.0999999999999999" stroke-linecap="butt"/>
<line x1="617.9" y1="454.6" x2="625.1" y2="451.4" stroke="#1c1c1c" stroke-width="3.6999999999999997" stroke-linecap="butt"/>
<line x1="619" y1="454.1" x2="624" y2="451.9" stroke="#fff" stroke-width="1.0999999999999999" stroke-linecap="butt"/>
<ellipse cx="605.4" cy="457" rx="8.6" ry="31" transform="rotate(-24.2 605.4 457)" fill="#fff" stroke="#444" stroke-width="0.9" />
<ellipse cx="604" cy="457.6" rx="8.6" ry="31" transform="rotate(-24.2 604 457.6)" fill="#fff" stroke="#222" stroke-width="1.1" />
<ellipse cx="602.2" cy="458.2" rx="6" ry="21.5" transform="rotate(-24.2 602.2 458.2)" fill="none" stroke="#444" stroke-width="0.9" />
<ellipse cx="601" cy="458.8" rx="4.8" ry="17" transform="rotate(-24.2 601 458.8)" fill="none" stroke="#555" stroke-width="0.9" />
<path d="M558.8 464 L589 450.2 L598.5 468.6 L577.6 478.3Z" fill="#fff" stroke="#1c1c1c" stroke-width="0.0" />
<line x1="558.8" y1="464" x2="589" y2="450.2" stroke="#1c1c1c" stroke-width="1.0" />
<line x1="577.6" y1="479.5" x2="599.5" y2="469.8" stroke="#1c1c1c" stroke-width="1.0" />
<path d="M591.9 451.4 L593.3 451.3 L594.9 452.1 L596.7 453.7 L598.4 456 L599.8 458.8 L600.9 461.7 L601.5 464.5 L601.6 466.9 L601.1 468.6 L600.1 469.6" fill="none" stroke="#555" stroke-width="0.8" />
<path d="M536.6 480.2 L547.7 470.5 L552 467.3 L557.5 465.9 L560 468.5 L574.4 469.2 L577.6 477.6 L571 484 L565.9 486.7 L559.4 490.6 L552.9 493.2 L545.5 493.2 L541 490Z" fill="#fff" stroke="#1c1c1c" stroke-width="1.3" />
<path d="M557.5 465.9 L559 471 L566 477 L565.9 486.7" fill="none" stroke="#1c1c1c" stroke-width="1.5" />
<path d="M566 477 L574.4 469.2" fill="none" stroke="#1c1c1c" stroke-width="1.0" />
<path d="M560 468.5 L563 474.5 L570.5 472.5" fill="none" stroke="#1c1c1c" stroke-width="1.0" />
<path d="M566.5 480 L576 476" fill="none" stroke="#1c1c1c" stroke-width="1.0" />
<path d="M562 470.5 L566 475" fill="none" stroke="#888" stroke-width="2.2" />
<path d="M568 482.5 L573 480" fill="none" stroke="#888" stroke-width="2.2" />
<circle cx="572.5" cy="472" r="2.3" fill="#fff" stroke="#1c1c1c" stroke-width="1"/>
<circle cx="574.8" cy="479" r="2.3" fill="#fff" stroke="#1c1c1c" stroke-width="1"/>
<path d="M544.1 471.3 L545.7 471.6 L547.5 472.9 L549.4 475 L551.3 477.9 L552.8 481.2 L554 484.5 L554.6 487.6 L554.6 490.2 L554 491.9 L552.9 492.7" fill="none" stroke="#1c1c1c" stroke-width="0.9" />
<path d="M545.5 490.5 L544.8 491.9 L543.6 492.1 L542 491.1 L540.3 489.1 L538.8 486.4 L537.7 483.5 L537.4 480.9 L537.7 479.1 L538.7 478.3 L540.2 478.7" fill="none" stroke="#1c1c1c" stroke-width="1.0" />
<path d="M526.9 487.6 L538 482.8 L542.5 491.3 L530 495.8Z" fill="#fff" stroke="#1c1c1c" stroke-width="1.0" />
<ellipse cx="528.3" cy="491.6" rx="2.1" ry="4.3" transform="rotate(-24.2 528.3 491.6)" fill="#fff" stroke="#444" stroke-width="0.9" />
<ellipse cx="528.5" cy="491.5" rx="1" ry="2.4" transform="rotate(-24.2 528.5 491.5)" fill="none" stroke="#666" stroke-width="0.7" />
</g>
<g id="p13">
<path d="M644.5 409.8 L643.5 409.9 L642.2 409.2 L640.8 407.8 L639.2 405.9 L637.7 403.5 L636.4 400.8 L635.3 398 L634.5 395.3 L634 392.9 L634 390.9 L634.3 389.4 L635 388.7 L642.9 385.2 L643.9 385.1 L645.2 385.8 L646.6 387.2 L648.2 389.1 L649.7 391.5 L651 394.2 L652.1 397 L652.9 399.7 L653.4 402.1 L653.4 404.1 L653.1 405.6 L652.4 406.3Z" fill="#fff" stroke="#1c1c1c" stroke-width="1.7" />
<path d="M635 388.7 L636.1 388.7 L637.3 389.3 L638.8 390.7 L640.3 392.7 L641.8 395.1 L643.2 397.7 L644.3 400.5 L645.1 403.2 L645.5 405.7 L645.6 407.7 L645.2 409.1 L644.5 409.8" fill="none" stroke="#666" stroke-width="0.8" />
<line x1="636.5" y1="388.8" x2="640.8" y2="386.9" stroke="#777" stroke-width="0.9" />
<line x1="638.1" y1="389.9" x2="642.4" y2="388" stroke="#777" stroke-width="0.9" />
<line x1="639.8" y1="392" x2="644.1" y2="390" stroke="#777" stroke-width="0.9" />
<line x1="641.6" y1="394.6" x2="645.9" y2="392.7" stroke="#777" stroke-width="0.9" />
<line x1="643.2" y1="397.7" x2="647.5" y2="395.8" stroke="#777" stroke-width="0.9" />
<line x1="644.4" y1="401" x2="648.7" y2="399.1" stroke="#777" stroke-width="0.9" />
<line x1="645.3" y1="404.1" x2="649.6" y2="402.2" stroke="#777" stroke-width="0.9" />
<line x1="645.6" y1="406.7" x2="649.9" y2="404.8" stroke="#777" stroke-width="0.9" />
<line x1="645.4" y1="408.7" x2="649.7" y2="406.7" stroke="#777" stroke-width="0.9" />
<line x1="642.8" y1="408.7" x2="642.4" y2="404.1" stroke="#888" stroke-width="0.7" />
<line x1="641.1" y1="407.4" x2="641.6" y2="403.4" stroke="#888" stroke-width="0.7" />
<line x1="639.3" y1="405.2" x2="640.7" y2="402.1" stroke="#888" stroke-width="0.7" />
<line x1="637.5" y1="402.3" x2="639.8" y2="400.4" stroke="#888" stroke-width="0.7" />
<line x1="636" y1="399" x2="639" y2="398.6" stroke="#888" stroke-width="0.7" />
<line x1="635" y1="395.7" x2="638.4" y2="396.8" stroke="#888" stroke-width="0.7" />
<line x1="634.5" y1="392.8" x2="638" y2="395.3" stroke="#888" stroke-width="0.7" />
<path d="M644.8 448.8 L643.8 448.9 L642.5 448.2 L641.1 446.8 L639.5 444.9 L638 442.5 L636.7 439.8 L635.6 437 L634.8 434.3 L634.3 431.9 L634.3 429.9 L634.6 428.4 L635.3 427.7 L643.2 424.2 L644.2 424.1 L645.5 424.8 L646.9 426.2 L648.5 428.1 L650 430.5 L651.3 433.2 L652.4 436 L653.2 438.7 L653.7 441.1 L653.7 443.1 L653.4 444.6 L652.7 445.3Z" fill="#fff" stroke="#1c1c1c" stroke-width="1.7" />
<path d="M635.3 427.7 L636.4 427.7 L637.6 428.3 L639.1 429.7 L640.6 431.7 L642.1 434.1 L643.5 436.7 L644.6 439.5 L645.4 442.2 L645.8 444.7 L645.9 446.7 L645.5 448.1 L644.8 448.8" fill="none" stroke="#666" stroke-width="0.8" />
<line x1="636.8" y1="427.8" x2="641.1" y2="425.9" stroke="#777" stroke-width="0.9" />
<line x1="638.4" y1="428.9" x2="642.7" y2="427" stroke="#777" stroke-width="0.9" />
<line x1="640.1" y1="431" x2="644.4" y2="429" stroke="#777" stroke-width="0.9" />
<line x1="641.9" y1="433.6" x2="646.2" y2="431.7" stroke="#777" stroke-width="0.9" />
<line x1="643.5" y1="436.7" x2="647.8" y2="434.8" stroke="#777" stroke-width="0.9" />
<line x1="644.7" y1="440" x2="649" y2="438.1" stroke="#777" stroke-width="0.9" />
<line x1="645.6" y1="443.1" x2="649.9" y2="441.2" stroke="#777" stroke-width="0.9" />
<line x1="645.9" y1="445.7" x2="650.2" y2="443.8" stroke="#777" stroke-width="0.9" />
<line x1="645.7" y1="447.7" x2="650" y2="445.7" stroke="#777" stroke-width="0.9" />
<line x1="643.1" y1="447.7" x2="642.7" y2="443.1" stroke="#888" stroke-width="0.7" />
<line x1="641.4" y1="446.4" x2="641.9" y2="442.4" stroke="#888" stroke-width="0.7" />
<line x1="639.6" y1="444.2" x2="641" y2="441.1" stroke="#888" stroke-width="0.7" />
<line x1="637.8" y1="441.3" x2="640.1" y2="439.4" stroke="#888" stroke-width="0.7" />
<line x1="636.3" y1="438" x2="639.3" y2="437.6" stroke="#888" stroke-width="0.7" />
<line x1="635.3" y1="434.7" x2="638.7" y2="435.8" stroke="#888" stroke-width="0.7" />
<line x1="634.8" y1="431.8" x2="638.3" y2="434.3" stroke="#888" stroke-width="0.7" />
<path d="M674.8 468.8 L673.8 468.9 L672.5 468.2 L671.1 466.8 L669.5 464.9 L668 462.5 L666.7 459.8 L665.6 457 L664.8 454.3 L664.3 451.9 L664.3 449.9 L664.6 448.4 L665.3 447.7 L673.2 444.2 L674.2 444.1 L675.5 444.8 L676.9 446.2 L678.5 448.1 L680 450.5 L681.3 453.2 L682.4 456 L683.2 458.7 L683.7 461.1 L683.7 463.1 L683.4 464.6 L682.7 465.3Z" fill="#fff" stroke="#1c1c1c" stroke-width="1.7" />
<path d="M665.3 447.7 L666.4 447.7 L667.6 448.3 L669.1 449.7 L670.6 451.7 L672.1 454.1 L673.5 456.7 L674.6 459.5 L675.4 462.2 L675.8 464.7 L675.9 466.7 L675.5 468.1 L674.8 468.8" fill="none" stroke="#666" stroke-width="0.8" />
<line x1="666.8" y1="447.8" x2="671.1" y2="445.9" stroke="#777" stroke-width="0.9" />
<line x1="668.4" y1="448.9" x2="672.7" y2="447" stroke="#777" stroke-width="0.9" />
<line x1="670.1" y1="451" x2="674.4" y2="449" stroke="#777" stroke-width="0.9" />
<line x1="671.9" y1="453.6" x2="676.2" y2="451.7" stroke="#777" stroke-width="0.9" />
<line x1="673.5" y1="456.7" x2="677.8" y2="454.8" stroke="#777" stroke-width="0.9" />
<line x1="674.7" y1="460" x2="679" y2="458.1" stroke="#777" stroke-width="0.9" />
<line x1="675.6" y1="463.1" x2="679.9" y2="461.2" stroke="#777" stroke-width="0.9" />
<line x1="675.9" y1="465.7" x2="680.2" y2="463.8" stroke="#777" stroke-width="0.9" />
<line x1="675.7" y1="467.7" x2="680" y2="465.7" stroke="#777" stroke-width="0.9" />
<line x1="673.1" y1="467.7" x2="672.7" y2="463.1" stroke="#888" stroke-width="0.7" />
<line x1="671.4" y1="466.4" x2="671.9" y2="462.4" stroke="#888" stroke-width="0.7" />
<line x1="669.6" y1="464.2" x2="671" y2="461.1" stroke="#888" stroke-width="0.7" />
<line x1="667.8" y1="461.3" x2="670.1" y2="459.4" stroke="#888" stroke-width="0.7" />
<line x1="666.3" y1="458" x2="669.3" y2="457.6" stroke="#888" stroke-width="0.7" />
<line x1="665.3" y1="454.7" x2="668.7" y2="455.8" stroke="#888" stroke-width="0.7" />
<line x1="664.8" y1="451.8" x2="668.3" y2="454.3" stroke="#888" stroke-width="0.7" />
</g>
<g id="p17">
<path d="M677 375.6 L677.9 375.8 L678.7 375.9 L679.6 376.1 L680.5 376.2 L681.6 376.4 L682.8 376.8 L684.3 377.3 L686 378 L687.7 378.8 L689.1 379.4 L690.3 380 L691.3 380.6 L692.3 381.3 L693.4 382 L694.6 382.9 L696 384 L697.4 385 L698.4 385.8 L699.2 386.3 L699.8 386.8 L700.3 387.3 L700.8 387.9 L701.3 388.8 L702 390 L702.6 391.2 L702.9 392 L703 392.6 L703 393.2 L703 393.9 L703.1 394.8 L703.4 396.1 L704 398 L704.7 399.9 L705.4 401.5 L706 402.8 L706.6 404 L707.3 405.4 L708 407 L708.9 409.2 L710 412 L711.1 414.8 L711.9 417.1 L712.5 419 L713.1 420.7 L713.7 422.5 L714.3 424.4 L715 426.9 L716 430 L717 433.2 L717.8 436 L718.5 438.3 L719.1 440.3 L719.6 442.1 L720.1 443.7 L720.5 445.4 L721 447 L720.3 446.8 L719.8 446.8 L719.2 446.7 L718.5 446.6 L717.7 446.4 L716.7 446.1 L715.5 445.7 L714 445 L712.5 444.3 L711.2 443.7 L710.1 443.1 L709.1 442.6 L708.1 442 L707 441.2 L705.6 440.2 L704 439 L702.4 437.8 L701.2 436.8 L700.2 436 L699.4 435.3 L698.7 434.5 L697.9 433.6 L697.1 432.5 L696 431 L695 429.6 L694.4 428.6 L694 427.9 L693.8 427.3 L693.6 426.6 L693.3 425.6 L692.8 424.1 L692 422 L691.1 419.8 L690.4 418 L689.7 416.4 L689.1 414.9 L688.5 413.3 L687.8 411.4 L687 409 L686 406 L685 402.9 L684.2 400.3 L683.6 398.1 L683.1 396.1 L682.6 394.2 L682.2 392.4 L681.6 390.3 L681 388 L680.4 385.9 L680 384.6 L679.8 383.7 L679.7 383.2 L679.6 382.9 L679.5 382.6 L679.3 382 L679 381 L678.6 379.9 L678.3 379 L678 378.2 L677.8 377.6 L677.6 377.1 L677.4 376.6 L677.2 376.1 L677 375.6Z" fill="#fff" stroke="#1c1c1c" stroke-width="1.5" />
<path d="M681.5 379.6 L682 379.7 L682.5 379.6 L682.9 379.6 L683.5 379.6 L684.1 379.6 L684.8 379.8 L685.8 380.1 L687 380.6 L688.2 381.2 L689.3 381.7 L690.2 382.2 L691 382.8 L691.9 383.4 L692.8 384.1 L693.8 384.8 L695 385.8 L696.1 386.7 L697 387.3 L697.6 387.8 L698.1 388.2 L698.5 388.6 L698.9 389.1 L699.4 389.9 L700 391 L700.5 392.1 L700.8 392.8 L700.9 393.4 L700.9 393.9 L700.9 394.6 L701 395.5 L701.4 396.8 L702 398.6 L702.7 400.5 L703.4 402.1 L704 403.4 L704.6 404.7 L705.3 406.1 L706.1 407.8 L706.9 409.9 L708 412.6 L709 415.3 L709.8 417.5 L710.5 419.2 L711.1 420.8 L711.6 422.4 L712.1 424.2 L712.8 426.3 L713.6 429 L714.4 431.7 L715 434 L715.5 435.9 L715.9 437.4 L716.2 438.8 L716.4 440.1 L716.7 441.3 L717 442.6 L716.7 442.6 L716.4 442.6 L716.1 442.7 L715.8 442.7 L715.4 442.7 L714.8 442.6 L714 442.3 L713 441.8 L711.9 441.3 L711 440.8 L710.1 440.3 L709.3 439.8 L708.4 439.3 L707.5 438.6 L706.4 437.7 L705 436.6 L703.7 435.5 L702.6 434.7 L701.8 434.1 L701.1 433.4 L700.4 432.8 L699.8 432 L699 431 L698 429.6 L697.1 428.3 L696.5 427.4 L696.1 426.8 L695.9 426.2 L695.7 425.5 L695.3 424.5 L694.8 423.1 L694 421 L693.1 418.8 L692.4 417.1 L691.7 415.5 L691.1 414.1 L690.5 412.5 L689.8 410.6 L689 408.3 L688 405.4 L687 402.4 L686.2 399.9 L685.6 397.8 L685 396 L684.6 394.2 L684.1 392.4 L683.6 390.4 L683 388 L682.5 385.8 L682.1 384.1 L681.9 382.9 L681.8 382.1 L681.7 381.4 L681.7 380.9 L681.6 380.3 L681.5 379.6Z" fill="none" stroke="#444" stroke-width="0.8" />
<path d="M681.5 379.6 L684 386" fill="none" stroke="#555" stroke-width="0.7" />
<path d="M717 442.6 L711 438" fill="none" stroke="#555" stroke-width="0.7" />
</g>
<g id="p18">
<ellipse cx="737.3" cy="397.6" rx="10.2" ry="29.6" transform="rotate(-24.2 737.3 397.6)" fill="#fff" stroke="#1c1c1c" stroke-width="1.5" />
<ellipse cx="737.3" cy="397.6" rx="8" ry="27.2" transform="rotate(-24.2 737.3 397.6)" fill="none" stroke="#1c1c1c" stroke-width="1.0" />
</g>
<g id="p69">
<ellipse cx="781.2" cy="379.4" rx="11.8" ry="45.5" transform="rotate(-24.2 781.2 379.4)" fill="#fff" stroke="#333" stroke-width="1.0" />
<ellipse cx="777.6" cy="381" rx="11.8" ry="45.5" transform="rotate(-24.2 777.6 381)" fill="#fff" stroke="#1c1c1c" stroke-width="1.2" />
<ellipse cx="778.8" cy="380.6" rx="9.2" ry="40.5" transform="rotate(-24.2 778.8 380.6)" fill="none" stroke="#333" stroke-width="1.0" />
<path d="M794.6 417.2 L792.9 416.5 L790.9 415 L788.7 412.8 L786.3 410 L783.8 406.6 L781.2 402.7 L778.6 398.3 L776 393.5 L773.4 388.5 L771 383.3 L768.8 378.1 L766.8 372.9 L765 367.8 L763.6 363 L762.4 358.5 L761.6 354.5 L761.2 351 L761.1 348.1 L761.4 345.8 L762.1 344.1" fill="none" stroke="#888" stroke-width="0.5" />
<path d="M795.5 416.8 L793.8 416.1 L791.8 414.6 L789.6 412.4 L787.2 409.6 L784.7 406.2 L782.1 402.3 L779.5 397.9 L776.9 393.1 L774.3 388.1 L771.9 382.9 L769.7 377.7 L767.7 372.5 L765.9 367.4 L764.5 362.6 L763.3 358.1 L762.5 354.1 L762.1 350.6 L762 347.7 L762.3 345.4 L763 343.7" fill="none" stroke="#888" stroke-width="0.5" />
<path d="M796.4 416.4 L794.7 415.7 L792.7 414.2 L790.5 412 L788.1 409.2 L785.6 405.8 L783 401.9 L780.4 397.5 L777.8 392.7 L775.2 387.7 L772.8 382.5 L770.6 377.3 L768.6 372.1 L766.8 367 L765.4 362.2 L764.2 357.7 L763.4 353.7 L763 350.2 L762.9 347.3 L763.2 345 L763.9 343.3" fill="none" stroke="#888" stroke-width="0.5" />
<path d="M797.3 416 L795.6 415.3 L793.6 413.8 L791.4 411.6 L789 408.8 L786.5 405.4 L783.9 401.5 L781.3 397.1 L778.7 392.3 L776.1 387.3 L773.7 382.1 L771.5 376.9 L769.5 371.7 L767.7 366.6 L766.3 361.8 L765.1 357.3 L764.3 353.3 L763.9 349.8 L763.8 346.9 L764.1 344.6 L764.8 342.9" fill="none" stroke="#888" stroke-width="0.5" />
<path d="M797.5 415.8 L795.8 415.1 L793.8 413.6 L791.6 411.4 L789.2 408.6 L786.7 405.2 L784.1 401.3 L781.5 396.9 L778.9 392.1 L776.3 387.1 L773.9 381.9 L771.7 376.7 L769.7 371.5 L767.9 366.4 L766.5 361.6 L765.3 357.1 L764.5 353.1 L764.1 349.6 L764 346.7 L764.3 344.4 L765 342.7" fill="none" stroke="#555" stroke-width="0.8" />
<path d="M758.6 339.7 L762.2 338.1" fill="none" stroke="#1c1c1c" stroke-width="1" />
<path d="M762.6 339.8 L766.3 338.1" fill="none" stroke="#1c1c1c" stroke-width="1" />
<path d="M794.6 392.1 L798.2 390.4" fill="none" stroke="#1c1c1c" stroke-width="1" />
<path d="M797.3 401.5 L800.9 399.8" fill="none" stroke="#1c1c1c" stroke-width="1" />
<path d="M759.1 338.5 L763.4 338.6 L767.1 336.9" fill="none" stroke="#1c1c1c" stroke-width="1.0" />
</g>
<g id="p68">
<ellipse cx="804.6" cy="363" rx="9.6" ry="36" transform="rotate(-24.2 804.6 363)" fill="#fff" stroke="#777" stroke-width="0.8" />
<ellipse cx="803.8" cy="363.2" rx="2.4" ry="8.2" transform="rotate(-24.2 803.8 363.2)" fill="none" stroke="#777" stroke-width="0.8" />
</g>
<g id="p19">
<path d="M849 381 L847 381.3 L844.6 380.7 L842 379 L839.2 376.5 L836.3 373.1 L833.5 369.1 L830.8 364.5 L828.4 359.6 L826.3 354.5 L824.7 349.5 L823.5 344.7 L822.9 340.3 L822.9 336.5 L823.4 333.5 L824.5 331.3 L826 330 L839.2 324 L841.2 323.7 L843.6 324.4 L846.2 326 L849.1 328.6 L851.9 332 L854.8 336 L857.4 340.6 L859.8 345.5 L861.9 350.5 L863.5 355.5 L864.7 360.3 L865.3 364.7 L865.3 368.5 L864.8 371.6 L863.8 373.8 L862.2 375.1Z" fill="#fff" stroke="#1c1c1c" stroke-width="1.5" />
<ellipse cx="837.5" cy="355.5" rx="10" ry="28" transform="rotate(-24.2 837.5 355.5)" fill="#fff" stroke="#1c1c1c" stroke-width="1.4" />
<ellipse cx="838.3" cy="355.2" rx="8" ry="24.6" transform="rotate(-24.2 838.3 355.2)" fill="none" stroke="#1c1c1c" stroke-width="1.0" />
<line x1="847.7" y1="377.8" x2="852.7" y2="375.6" stroke="#444" stroke-width="0.55" />
<line x1="847" y1="377.9" x2="852" y2="375.6" stroke="#444" stroke-width="0.55" />
<line x1="846.2" y1="377.7" x2="851.2" y2="375.5" stroke="#444" stroke-width="0.55" />
<line x1="845.4" y1="377.5" x2="850.4" y2="375.2" stroke="#444" stroke-width="0.55" />
<line x1="844.5" y1="377" x2="849.5" y2="374.8" stroke="#444" stroke-width="0.55" />
<line x1="843.6" y1="376.4" x2="848.6" y2="374.2" stroke="#444" stroke-width="0.55" />
<line x1="842.6" y1="375.7" x2="847.6" y2="373.4" stroke="#444" stroke-width="0.55" />
<line x1="841.6" y1="374.8" x2="846.6" y2="372.5" stroke="#444" stroke-width="0.55" />
<line x1="840.6" y1="373.8" x2="845.6" y2="371.5" stroke="#444" stroke-width="0.55" />
<line x1="839.6" y1="372.6" x2="844.6" y2="370.3" stroke="#444" stroke-width="0.55" />
<line x1="838.5" y1="371.3" x2="843.6" y2="369.1" stroke="#444" stroke-width="0.55" />
<line x1="837.5" y1="369.9" x2="842.5" y2="367.7" stroke="#444" stroke-width="0.55" />
<line x1="836.5" y1="368.4" x2="841.5" y2="366.2" stroke="#444" stroke-width="0.55" />
<line x1="835.4" y1="366.9" x2="840.5" y2="364.6" stroke="#444" stroke-width="0.55" />
<line x1="834.4" y1="365.2" x2="839.5" y2="362.9" stroke="#444" stroke-width="0.55" />
<line x1="833.5" y1="363.4" x2="838.5" y2="361.2" stroke="#444" stroke-width="0.55" />
<line x1="832.5" y1="361.6" x2="837.5" y2="359.4" stroke="#444" stroke-width="0.55" />
<line x1="831.6" y1="359.8" x2="836.6" y2="357.5" stroke="#444" stroke-width="0.55" />
<line x1="830.8" y1="357.9" x2="835.8" y2="355.7" stroke="#444" stroke-width="0.55" />
<line x1="830" y1="356" x2="835" y2="353.8" stroke="#444" stroke-width="0.55" />
<line x1="829.2" y1="354.1" x2="834.2" y2="351.9" stroke="#444" stroke-width="0.55" />
<line x1="828.5" y1="352.2" x2="833.5" y2="350" stroke="#444" stroke-width="0.55" />
<line x1="827.9" y1="350.4" x2="832.9" y2="348.1" stroke="#444" stroke-width="0.55" />
<line x1="827.4" y1="348.5" x2="832.4" y2="346.3" stroke="#444" stroke-width="0.55" />
<line x1="826.9" y1="346.7" x2="831.9" y2="344.5" stroke="#444" stroke-width="0.55" />
<line x1="826.5" y1="345" x2="831.6" y2="342.8" stroke="#444" stroke-width="0.55" />
<line x1="826.2" y1="343.4" x2="831.3" y2="341.1" stroke="#444" stroke-width="0.55" />
<line x1="826" y1="341.8" x2="831" y2="339.5" stroke="#444" stroke-width="0.55" />
<line x1="825.9" y1="340.3" x2="830.9" y2="338" stroke="#444" stroke-width="0.55" />
<line x1="825.9" y1="338.9" x2="830.9" y2="336.7" stroke="#444" stroke-width="0.55" />
<line x1="825.9" y1="337.7" x2="830.9" y2="335.4" stroke="#444" stroke-width="0.55" />
<line x1="826" y1="336.5" x2="831" y2="334.3" stroke="#444" stroke-width="0.55" />
<line x1="826.2" y1="335.5" x2="831.3" y2="333.3" stroke="#444" stroke-width="0.55" />
<line x1="826.6" y1="334.6" x2="831.6" y2="332.4" stroke="#444" stroke-width="0.55" />
<line x1="826.9" y1="333.9" x2="832" y2="331.7" stroke="#444" stroke-width="0.55" />
<line x1="827.4" y1="333.3" x2="832.4" y2="331.1" stroke="#444" stroke-width="0.55" />
<path d="M852.2 375.5 L850.6 375 L848.8 374 L846.8 372.4 L844.8 370.3 L842.8 367.6 L840.7 364.6 L838.8 361.2 L836.9 357.6 L835.3 353.9 L833.8 350.2 L832.7 346.5 L831.8 343 L831.3 339.7 L831.1 336.9 L831.2 334.4 L831.7 332.5" fill="none" stroke="#555" stroke-width="0.7" />
<path d="M840.3 323.7 L840.9 321.7 L844.8 322.1 L845.8 325.5" fill="none" stroke="#1c1c1c" stroke-width="1.2" />
<path d="M862.9 353.5 L865.5 352.3 L866.3 359 L863.5 360.5" fill="none" stroke="#1c1c1c" stroke-width="1.2" />
</g>
<g id="p20">
<path d="M884.2 296.4 L908.9 285.4 L913.3 287.6 L916.6 293.1 L921 297.5 L929.8 305.2 L934.2 314 L935.9 325 L935.9 329.4 L934.2 331.6 L934.2 344.8 L932 347 L912.2 355.3 L905 345 L895 315Z" fill="#fff" stroke="#1c1c1c" stroke-width="1.4" />
<path d="M921 297.5 C922.2 299.8 923.4 300.5 925.5 306 C927.6 311.5 927.7 311.6 929 318 C930.3 324.4 930.2 322.8 930.5 330 C930.8 337.2 930.1 341 930 345" fill="none" stroke="#444" stroke-width="0.8" />
<path d="M913.3 287.6 C914.3 288.8 915.1 289 917 292 C918.9 295 919.6 297.1 920.5 299" fill="none" stroke="#444" stroke-width="0.8" />
<path d="M924 301.5 C925.3 303 926.7 303.7 929 307 C931.3 310.3 931.4 310.8 932.5 314 C933.6 317.2 933.7 318.1 933 319 C932.3 319.9 931.5 319.6 930 317.5 C928.5 315.4 928.2 312.7 927.5 311" fill="none" stroke="#333" stroke-width="0.9" />
<path d="M926.5 305 C927.6 306.6 929 307.8 930.5 311 C932 314.2 931.6 315.4 932 317" fill="none" stroke="#777" stroke-width="0.6" />
<path d="M868.2 293.7 C868.6 292.9 868.8 292 870.4 292 C872 292 873.4 292.6 876 293.6 C878.6 294.6 881 295.6 883.6 297 C886.2 298.4 887 298.9 889 300.5 C891 302.1 891.6 302.6 893.5 305.2 C895.4 307.8 896.7 310 898.5 313.5 C900.3 317 900.8 318.8 902.3 322.8 C903.8 326.8 904.7 329.1 906 333.5 C907.3 337.9 907.8 340.1 908.9 344.8 C910 349.5 910.6 353.2 911.7 356.9 C912.8 360.6 914.3 361.8 914.4 363.5 C914.5 365.2 913.7 365.4 912.2 365.2 C910.7 365 908.8 362.7 906.7 362.4 C904.6 362.1 903.5 363.6 901.5 363.8 C899.5 364 898.7 364.1 896.8 363.5 C894.9 362.9 893.8 362.1 892 360.8 C890.2 359.5 890 359.4 888 356.9 C886 354.4 884.2 352.2 882 348.5 C879.8 344.8 878.9 342.6 877 338.2 C875.1 333.8 874 331.3 872.5 326.5 C871 321.7 870.3 318.9 869.3 314 C868.3 309.1 867.8 304.8 867.7 301.9 C867.6 299 868.5 300.2 869 299.5 C869.5 298.8 870.5 299.3 870.4 298.6 C870.3 297.9 869 297 868.6 296 C868.2 295 867.8 294.5 868.2 293.7Z" fill="#fff" stroke="#1c1c1c" stroke-width="1.6" />
<ellipse cx="890" cy="328.8" rx="12.2" ry="34" transform="rotate(-24.2 890 328.8)" fill="none" stroke="#444" stroke-width="0.8" />
<ellipse cx="888.4" cy="329.6" rx="10.6" ry="31.5" transform="rotate(-24.2 888.4 329.6)" fill="none" stroke="#1c1c1c" stroke-width="1.1" />
<ellipse cx="889.6" cy="329.1" rx="8.8" ry="28.5" transform="rotate(-24.2 889.6 329.1)" fill="none" stroke="#666" stroke-width="0.7" />
<path d="M901.2 352.2 L899.1 350.9 L896.7 348.8 L894.2 346 L891.7 342.6 L889.3 338.7 L887 334.4 L884.9 329.9 L883.1 325.3 L881.6 320.8 L880.5 316.5 L879.8 312.6 L879.6 309.1 L879.8 306.3 L880.4 304.1" fill="none" stroke="#666" stroke-width="0.7" />
<path d="M880.5 317.5 L886.5 314.8 L888 322.5 L882 325.2Z" fill="none" stroke="#444" stroke-width="0.8" />
<path d="M882 325.2 L890.5 321.4" fill="none" stroke="#555" stroke-width="0.7" />
<path d="M906.7 362.4 L909.5 358.5 L911.7 356.9" fill="none" stroke="#444" stroke-width="0.8" />
<path d="M870.4 298.6 L873.5 296.6 L876 293.6" fill="none" stroke="#444" stroke-width="0.8" />
</g>
<g id="housingL">
<path d="M99.8 311.6 L125 300.8 L131 301.4 L165.8 285.8 L167 284 L185 279.8 L187.4 281.6 L186.8 284 L185 288.2 L184.4 296.6 L188 311 L191 318.2 L194.6 320.6 L192.2 324.2 L198.2 335 L208.4 346.4 L203 351.8 L191 362.6 L183.8 366.2 L179 371 L175.6 378.5 L179 388.8 L188.6 400.8 L198.2 416.4 L206.6 432 L215 442.8 L220.4 446.8 L222 453 L223.6 459.6 L228 467 L232.4 474 L230 476.4 L212.4 480.4 L162.8 498.8 L156.4 498 L138.8 486 L142 478.8 L148.4 470 L175.6 457 L178.8 452 L171.8 444 L159.8 427.2 L151.4 417.6 L141.8 416.4 L138.2 411.6 L135.8 398.4 L129.8 391.2 L111.8 401.4 L108.2 398.4 L104.6 387 L108 383 L123.8 377.4 L116.6 363.8 L113 351.8 L107 335 L102.2 320.6Z" fill="#fff" stroke="#1c1c1c" stroke-width="1.9" />
<path d="M102 316 L110.6 314.6 L162.2 291.8 L166 289 L184 284.5" fill="none" stroke="#1c1c1c" stroke-width="1.2" />
<path d="M103 313.5 L127 303.5 L131 304 L165 289" fill="none" stroke="#333" stroke-width="1" />
<path d="M104.5 316 C105 318.4 104.8 319.1 106.5 325 C108.2 330.9 108.3 330.5 111 338 C113.7 345.5 114.1 346.1 116.5 353 C118.9 359.9 117.3 358.4 120 364 C122.7 369.6 124.8 371.3 126.5 374" fill="none" stroke="#1c1c1c" stroke-width="1.1" />
<path d="M110.6 314.6 C111.2 317.9 111 320 113 327 C115 334 115.5 333.5 118 341 C120.5 348.5 120.4 348.6 122.5 355 C124.6 361.4 123.7 360.5 126 365 C128.3 369.5 129.7 370.1 131 372" fill="none" stroke="#333" stroke-width="1" />
<path d="M129.8 309.8 C130.1 312.5 129.7 313.9 131 320 C132.3 326.1 132.6 326.7 134.6 332.6 C136.6 338.5 136.3 337.5 138.5 342 C140.7 346.5 139.6 344.9 143 349.4 C146.4 353.9 149.2 356.4 151.4 359" fill="none" stroke="#1c1c1c" stroke-width="1.2" />
<path d="M133 308.4 C133.4 311.2 133.2 312.8 134.5 319 C135.8 325.2 136 325.6 138 331.5 C140 337.4 139.7 336.6 142 341 C144.3 345.4 143.2 343.7 146.5 348 C149.8 352.3 152.4 354.6 154.5 357" fill="none" stroke="#1c1c1c" stroke-width="1.1" />
<path d="M158.6 300.2 C159 303.1 158.7 304.9 160 311 C161.3 317.1 161.5 317.1 163.4 323 C165.3 328.9 164.8 327.9 167 333 C169.2 338.1 168.6 336.9 171.8 342.2 C175 347.5 177.1 350.1 179 353" fill="none" stroke="#1c1c1c" stroke-width="1.2" />
<path d="M161.5 298.5 C161.9 301.6 161.7 303.7 163 310 C164.3 316.3 164.6 316.1 166.5 322 C168.4 327.9 167.7 326.9 170 332 C172.3 337.1 171.8 335.9 175 341 C178.2 346.1 180.1 348.3 182 351" fill="none" stroke="#1c1c1c" stroke-width="1.1" />
<path d="M171.8 296.6 C172.4 300.2 172.1 303 174 310 C175.9 317 176.3 316.9 179 323 C181.7 329.1 180.8 327.9 184 333 C187.2 338.1 187 337.4 191 342.2 C195 347 196.9 348.7 199 351" fill="none" stroke="#1c1c1c" stroke-width="1.2" />
<path d="M175 295 C175.7 298.7 175.5 301.8 177.5 309 C179.5 316.2 179.8 315.9 182.5 322 C185.2 328.1 184.4 327.1 187.5 332 C190.6 336.9 190.1 336 194 340.5 C197.9 345 199.9 346.7 202 349" fill="none" stroke="#333" stroke-width="1" />
<path d="M182.5 288.5 C182.4 290.8 181.2 291 182 297 C182.8 303 183.4 303.8 185.5 311 C187.6 318.2 187.2 317.3 190 324 C192.8 330.7 191.9 329.9 196 336 C200.1 342.1 203 344.1 205.5 347" fill="none" stroke="#333" stroke-width="1" />
<path d="M112 320 L128 312" fill="none" stroke="#333" stroke-width="1" />
<path d="M113 324 L129 316.5" fill="none" stroke="#333" stroke-width="1" />
<path d="M114 330 L121 322 L130 331 L119 343" fill="none" stroke="#333" stroke-width="1" />
<path d="M119 343 L135 337" fill="none" stroke="#333" stroke-width="1" />
<path d="M121 347 L137 341" fill="none" stroke="#333" stroke-width="1" />
<path d="M123.5 356 L133 352" fill="none" stroke="#1c1c1c" stroke-width="1" />
<path d="M125 360 L134.5 356" fill="none" stroke="#1c1c1c" stroke-width="1" />
<path d="M126 364.5 L136 360" fill="none" stroke="#333" stroke-width="1" />
<path d="M133.5 347.5 L137 345 L141 348.5 L154 372 L141 378 L137 369Z" fill="#fff" stroke="#1c1c1c" stroke-width="1.1" />
<path d="M137 345 L139 356 L143 375" fill="none" stroke="#333" stroke-width="1" />
<path d="M144 318 L146.6 316.9 L146.9 319.3 L144.3 320.4Z" fill="#222" stroke="#1c1c1c" stroke-width="1" />
<path d="M147.6 316.5 L150.2 315.4 L150.5 317.8 L147.9 318.9Z" fill="#222" stroke="#1c1c1c" stroke-width="1" />
<path d="M151.2 315 L153.8 313.9 L154.1 316.3 L151.5 317.4Z" fill="#222" stroke="#1c1c1c" stroke-width="1" />
<path d="M144.5 321.4 L147.1 320.3 L147.4 322.7 L144.8 323.8Z" fill="#222" stroke="#1c1c1c" stroke-width="1" />
<path d="M148.1 319.9 L150.7 318.8 L151 321.2 L148.4 322.3Z" fill="#222" stroke="#1c1c1c" stroke-width="1" />
<path d="M151.7 318.4 L154.3 317.3 L154.6 319.7 L152 320.8Z" fill="#222" stroke="#1c1c1c" stroke-width="1" />
<path d="M145 324.8 L147.6 323.7 L147.9 326.1 L145.3 327.2Z" fill="#222" stroke="#1c1c1c" stroke-width="1" />
<path d="M148.6 323.3 L151.2 322.2 L151.5 324.6 L148.9 325.7Z" fill="#222" stroke="#1c1c1c" stroke-width="1" />
<path d="M152.2 321.8 L154.8 320.7 L155.1 323.1 L152.5 324.2Z" fill="#222" stroke="#1c1c1c" stroke-width="1" />
<path d="M145.5 328.2 L148.1 327.1 L148.4 329.5 L145.8 330.6Z" fill="#222" stroke="#1c1c1c" stroke-width="1" />
<path d="M149.1 326.7 L151.7 325.6 L152 328 L149.4 329.1Z" fill="#222" stroke="#1c1c1c" stroke-width="1" />
<path d="M152.7 325.2 L155.3 324.1 L155.6 326.5 L153 327.6Z" fill="#222" stroke="#1c1c1c" stroke-width="1" />
<path d="M139 312 L150 307.5 L156 328 L146 333 L142 322Z" fill="none" stroke="#333" stroke-width="1" />
<path d="M136 318 L140 316 L143 326 L139 328Z" fill="none" stroke="#1c1c1c" stroke-width="1" />
<path d="M141 336 L146 334 L151 346 L146 349Z" fill="none" stroke="#1c1c1c" stroke-width="1.1" />
<path d="M146 334 L148 331 L153 343 L151 346" fill="none" stroke="#1c1c1c" stroke-width="1" />
<path d="M150 337 L163 326" fill="none" stroke="#1c1c1c" stroke-width="1" />
<path d="M151 339 L164 328" fill="none" stroke="#333" stroke-width="1" />
<path d="M153 340 L158 352 L156 358" fill="none" stroke="#1c1c1c" stroke-width="1.1" />
<path d="M156 339 L161 351" fill="none" stroke="#1c1c1c" stroke-width="1" />
<path d="M159 337 L164 349" fill="none" stroke="#1c1c1c" stroke-width="1" />
<path d="M153 352 L166 346" fill="none" stroke="#1c1c1c" stroke-width="1" />
<path d="M155 357 L168 351" fill="none" stroke="#1c1c1c" stroke-width="1" />
<path d="M163 303 L173.5 298.4" fill="none" stroke="#1c1c1c" stroke-width="1.1" />
<path d="M164.3 307 L174.8 302.4" fill="none" stroke="#333" stroke-width="1" />
<path d="M165.6 311 L176.1 306.4" fill="none" stroke="#1c1c1c" stroke-width="1.1" />
<path d="M168.1 319 L178.6 314.4" fill="none" stroke="#333" stroke-width="1" />
<path d="M169.4 323 L179.9 318.4" fill="none" stroke="#1c1c1c" stroke-width="1.1" />
<path d="M170.7 327 L181.2 322.4" fill="none" stroke="#333" stroke-width="1" />
<path d="M172 331 L182.5 326.4" fill="none" stroke="#1c1c1c" stroke-width="1.1" />
<path d="M173.9 337 L184.4 332.4" fill="none" stroke="#333" stroke-width="1" />
<path d="M163 300 L170 297 L172 305 L165.5 308Z" fill="#555" stroke="#1c1c1c" stroke-width="1" />
<path d="M170 318 L178 314.5 L179.5 319 L171.5 322.5Z" fill="#777" stroke="#1c1c1c" stroke-width="1" />
<path d="M176 300 L182.2 297.3" fill="none" stroke="#1c1c1c" stroke-width="1" />
<path d="M178.5 306 L184.7 303.3" fill="none" stroke="#333" stroke-width="1" />
<path d="M181.5 313 L187.7 310.3" fill="none" stroke="#1c1c1c" stroke-width="1" />
<path d="M185.2 322 L191.4 319.3" fill="none" stroke="#333" stroke-width="1" />
<path d="M188.6 330 L194.8 327.3" fill="none" stroke="#1c1c1c" stroke-width="1" />
<path d="M192 338 L198.2 335.3" fill="none" stroke="#333" stroke-width="1" />
<path d="M179 289 L181 301" fill="none" stroke="#1c1c1c" stroke-width="1" />
<path d="M176.5 284.5 L178 292" fill="none" stroke="#1c1c1c" stroke-width="1" />
<circle cx="170.5" cy="288.5" r="2.2" fill="none" stroke="#1c1c1c" stroke-width="1.1"/>
<circle cx="170.5" cy="288.5" r="1" fill="none" stroke="#333" stroke-width="1"/>
<path d="M166 335 L170 333 L176 345 L172 347Z" fill="none" stroke="#1c1c1c" stroke-width="1.1" />
<path d="M171 341 L176 352 L185 362" fill="none" stroke="#1c1c1c" stroke-width="1.1" />
<path d="M177 343 L185 352 L192 356" fill="none" stroke="#1c1c1c" stroke-width="1.1" />
<circle cx="190.5" cy="353.5" r="2.6" fill="none" stroke="#1c1c1c" stroke-width="1.1"/>
<circle cx="190.5" cy="353.5" r="1.2" fill="none" stroke="#333" stroke-width="1"/>
<path d="M198 337 L206 345.5" fill="none" stroke="#333" stroke-width="1" />
<path d="M200 352 L206 346" fill="none" stroke="#333" stroke-width="1" />
<path d="M152 359 L157 362 L165 358 L171 361 L176 357" fill="none" stroke="#1c1c1c" stroke-width="1.1" />
<path d="M141 378 L147 384 L153 380 L156 371" fill="none" stroke="#1c1c1c" stroke-width="1.1" />
<path d="M171 361 L176 369 L181 365" fill="none" stroke="#1c1c1c" stroke-width="1.1" />
<path d="M176 357 L183 361" fill="none" stroke="#1c1c1c" stroke-width="1" />
<path d="M186 364 C184.7 365.6 183 366.1 181 370 C179 373.9 178.3 373.7 178.6 378.5 C178.9 383.3 178.7 382.3 182 388 C185.3 393.7 186.1 392.5 191 400 C195.9 407.5 195.7 407.6 200.5 416 C205.3 424.4 204.9 424.7 209 431.5 C213.1 438.3 214.1 438.8 216 441.5" fill="none" stroke="#1c1c1c" stroke-width="1.2" />
<path d="M189 363.5 C187.7 365.2 186 366 184 370 C182 374 181.2 373.8 181.5 378.5 C181.8 383.2 181.7 381.9 185 387.5 C188.3 393.1 189.2 392.2 194 399.5 C198.8 406.8 198.3 406.7 203 415 C207.7 423.3 207.5 423.8 211.5 430.5 C215.5 437.2 216.3 437.5 218 440" fill="none" stroke="#333" stroke-width="1" />
<path d="M108 388 L126 380.5 L128.5 389.5 L111 397Z" fill="none" stroke="#1c1c1c" stroke-width="1" />
<circle cx="121.5" cy="387.5" r="1.6" fill="none" stroke="#1c1c1c" stroke-width="1"/>
<circle cx="113.5" cy="391.5" r="1.3" fill="none" stroke="#1c1c1c" stroke-width="1"/>
<path d="M109 393 L111 398" fill="none" stroke="#1c1c1c" stroke-width="1" />
<path d="M116 384.5 L117.5 393.5" fill="none" stroke="#333" stroke-width="1" />
<path d="M133 388 L136.3 386.6 L137.5 389.7 L134.2 391.2Z" fill="none" stroke="#1c1c1c" stroke-width="1" />
<path d="M134.6 392.3 L137.9 390.9 L139.1 394 L135.8 395.5Z" fill="none" stroke="#1c1c1c" stroke-width="1" />
<path d="M136.2 396.6 L139.5 395.2 L140.7 398.3 L137.4 399.8Z" fill="none" stroke="#1c1c1c" stroke-width="1" />
<path d="M137.8 400.9 L141.1 399.4 L142.3 402.6 L139 404.1Z" fill="none" stroke="#1c1c1c" stroke-width="1" />
<path d="M139.4 405.2 L142.7 403.8 L143.9 406.9 L140.6 408.4Z" fill="none" stroke="#1c1c1c" stroke-width="1" />
<path d="M137.5 386.1 L140.8 384.6 L142 387.8 L138.7 389.2Z" fill="none" stroke="#1c1c1c" stroke-width="1" />
<path d="M139.1 390.4 L142.4 388.9 L143.6 392.1 L140.3 393.6Z" fill="none" stroke="#1c1c1c" stroke-width="1" />
<path d="M140.7 394.7 L144 393.2 L145.2 396.4 L141.9 397.9Z" fill="none" stroke="#1c1c1c" stroke-width="1" />
<path d="M142.3 398.9 L145.6 397.5 L146.8 400.6 L143.5 402.1Z" fill="none" stroke="#1c1c1c" stroke-width="1" />
<path d="M143.9 403.2 L147.2 401.8 L148.4 404.9 L145.1 406.4Z" fill="none" stroke="#1c1c1c" stroke-width="1" />
<path d="M142 384.1 L145.3 382.7 L146.5 385.8 L143.2 387.3Z" fill="none" stroke="#1c1c1c" stroke-width="1" />
<path d="M143.6 388.4 L146.9 387 L148.1 390.1 L144.8 391.6Z" fill="none" stroke="#1c1c1c" stroke-width="1" />
<path d="M145.2 392.7 L148.5 391.3 L149.7 394.4 L146.4 395.9Z" fill="none" stroke="#1c1c1c" stroke-width="1" />
<path d="M146.8 397 L150.1 395.6 L151.3 398.7 L148 400.2Z" fill="none" stroke="#1c1c1c" stroke-width="1" />
<path d="M148.4 401.3 L151.7 399.9 L152.9 403 L149.6 404.5Z" fill="none" stroke="#1c1c1c" stroke-width="1" />
<path d="M146.5 382.1 L149.8 380.7 L151 383.8 L147.7 385.3Z" fill="none" stroke="#1c1c1c" stroke-width="1" />
<path d="M148.1 386.4 L151.4 385 L152.6 388.1 L149.3 389.6Z" fill="none" stroke="#1c1c1c" stroke-width="1" />
<path d="M149.7 390.8 L153 389.3 L154.2 392.4 L150.9 393.9Z" fill="none" stroke="#1c1c1c" stroke-width="1" />
<path d="M151.3 395 L154.6 393.6 L155.8 396.7 L152.5 398.2Z" fill="none" stroke="#1c1c1c" stroke-width="1" />
<path d="M152.9 399.3 L156.2 397.9 L157.4 401 L154.1 402.5Z" fill="none" stroke="#1c1c1c" stroke-width="1" />
<path d="M151 380.2 L154.3 378.8 L155.5 381.9 L152.2 383.4Z" fill="none" stroke="#1c1c1c" stroke-width="1" />
<path d="M152.6 384.5 L155.9 383.1 L157.1 386.2 L153.8 387.7Z" fill="none" stroke="#1c1c1c" stroke-width="1" />
<path d="M154.2 388.8 L157.5 387.4 L158.7 390.5 L155.4 392Z" fill="none" stroke="#1c1c1c" stroke-width="1" />
<path d="M155.8 393.1 L159.1 391.6 L160.3 394.8 L157 396.3Z" fill="none" stroke="#1c1c1c" stroke-width="1" />
<path d="M157.4 397.4 L160.7 395.9 L161.9 399.1 L158.6 400.6Z" fill="none" stroke="#1c1c1c" stroke-width="1" />
<path d="M155.5 378.2 L158.8 376.8 L160 379.9 L156.7 381.4Z" fill="none" stroke="#1c1c1c" stroke-width="1" />
<path d="M157.1 382.6 L160.4 381.1 L161.6 384.2 L158.3 385.8Z" fill="none" stroke="#1c1c1c" stroke-width="1" />
<path d="M158.7 386.9 L162 385.4 L163.2 388.6 L159.9 390.1Z" fill="none" stroke="#1c1c1c" stroke-width="1" />
<path d="M160.3 391.1 L163.6 389.7 L164.8 392.8 L161.5 394.3Z" fill="none" stroke="#1c1c1c" stroke-width="1" />
<path d="M129.8 391.2 L134 388.5 L158 378" fill="none" stroke="#1c1c1c" stroke-width="1.1" />
<path d="M131 386 L155 375.5" fill="none" stroke="#1c1c1c" stroke-width="1" />
<path d="M134 385.2 L134.8 387.8" fill="none" stroke="#1c1c1c" stroke-width="1" />
<path d="M137 383.9 L137.8 386.5" fill="none" stroke="#1c1c1c" stroke-width="1" />
<path d="M140 382.6 L140.8 385.2" fill="none" stroke="#1c1c1c" stroke-width="1" />
<path d="M143 381.3 L143.8 383.9" fill="none" stroke="#1c1c1c" stroke-width="1" />
<path d="M146 380 L146.8 382.6" fill="none" stroke="#1c1c1c" stroke-width="1" />
<path d="M149 378.7 L149.8 381.3" fill="none" stroke="#1c1c1c" stroke-width="1" />
<path d="M152 377.4 L152.8 380" fill="none" stroke="#1c1c1c" stroke-width="1" />
<path d="M141.8 413 C144.3 413.3 146.4 411.6 151 414 C155.6 416.4 153.9 415.6 159 422 C164.1 428.4 164.9 430.5 170 438 C175.1 445.5 175.9 446.8 178 450" fill="none" stroke="#1c1c1c" stroke-width="1.1" />
<path d="M158 380 C159.3 383.2 159.5 385.9 163 392 C166.5 398.1 166.2 396.1 171 403 C175.8 409.9 175.9 409.7 181 418 C186.1 426.3 186 426.5 190 434 C194 441.5 194.4 442.8 196 446" fill="none" stroke="#1c1c1c" stroke-width="1.1" />
<path d="M165 378 C166.3 381.2 166.5 383.6 170 390 C173.5 396.4 173.7 395.6 178 402 C182.3 408.4 183.9 410.8 186 414" fill="none" stroke="#333" stroke-width="1" />
<path d="M172 372 C172.5 374.7 171.6 375.9 174 382 C176.4 388.1 178.3 389.1 181 395 C183.7 400.9 183.2 401.6 184 404" fill="none" stroke="#333" stroke-width="1" />
<circle cx="157.6" cy="414" r="3.8" fill="none" stroke="#1c1c1c" stroke-width="1.2"/>
<circle cx="157.6" cy="414" r="2.3" fill="none" stroke="#1c1c1c" stroke-width="1"/>
<circle cx="157.6" cy="414" r="1" fill="none" stroke="#333" stroke-width="1"/>
<circle cx="188" cy="415.8" r="3.9" fill="none" stroke="#1c1c1c" stroke-width="1.2"/>
<circle cx="188" cy="415.8" r="2.4" fill="none" stroke="#1c1c1c" stroke-width="1"/>
<circle cx="188" cy="415.8" r="1" fill="none" stroke="#333" stroke-width="1"/>
<circle cx="166" cy="404.5" r="1.2" fill="none" stroke="#1c1c1c" stroke-width="1"/>
<circle cx="183.5" cy="433" r="1.1" fill="none" stroke="#1c1c1c" stroke-width="1"/>
<line x1="162" y1="419.8" x2="160.2" y2="421.3" stroke="#333" stroke-width="1" />
<line x1="165.2" y1="421.2" x2="164.4" y2="422.9" stroke="#1c1c1c" stroke-width="1" />
<line x1="165.6" y1="423.1" x2="162.6" y2="424.9" stroke="#333" stroke-width="1" />
<line x1="166.4" y1="426.4" x2="163.5" y2="427" stroke="#1c1c1c" stroke-width="1" />
<line x1="166.1" y1="429" x2="164.3" y2="431" stroke="#333" stroke-width="1" />
<line x1="170.2" y1="429.3" x2="167.8" y2="431.1" stroke="#1c1c1c" stroke-width="1" />
<line x1="171.3" y1="430.7" x2="168.5" y2="432.4" stroke="#333" stroke-width="1" />
<line x1="169.9" y1="435.1" x2="168.1" y2="437.8" stroke="#1c1c1c" stroke-width="1" />
<line x1="171.2" y1="436.5" x2="169.8" y2="439" stroke="#333" stroke-width="1" />
<line x1="175.3" y1="437.6" x2="173.3" y2="437.8" stroke="#1c1c1c" stroke-width="1" />
<line x1="175.4" y1="440.4" x2="172.7" y2="441.4" stroke="#333" stroke-width="1" />
<line x1="176.5" y1="441.8" x2="174.7" y2="443.2" stroke="#1c1c1c" stroke-width="1" />
<line x1="176" y1="445" x2="174.2" y2="447.6" stroke="#333" stroke-width="1" />
<line x1="177.1" y1="447.5" x2="174.1" y2="448.2" stroke="#1c1c1c" stroke-width="1" />
<line x1="178.5" y1="449.5" x2="175.7" y2="451.4" stroke="#333" stroke-width="1" />
<line x1="182.3" y1="449.6" x2="179.7" y2="451.5" stroke="#1c1c1c" stroke-width="1" />
<line x1="190.7" y1="420.7" x2="189.1" y2="423.5" stroke="#333" stroke-width="1" />
<line x1="191.8" y1="423.4" x2="190.5" y2="424.2" stroke="#1c1c1c" stroke-width="1" />
<line x1="194.4" y1="425.1" x2="191.2" y2="426.1" stroke="#333" stroke-width="1" />
<line x1="196.7" y1="425.7" x2="194.9" y2="427.4" stroke="#1c1c1c" stroke-width="1" />
<line x1="198" y1="427.2" x2="197.1" y2="429.4" stroke="#333" stroke-width="1" />
<line x1="200.4" y1="430.1" x2="197.4" y2="431" stroke="#1c1c1c" stroke-width="1" />
<line x1="201.9" y1="432" x2="201.4" y2="433.8" stroke="#333" stroke-width="1" />
<line x1="202.8" y1="433.8" x2="200.9" y2="436.6" stroke="#1c1c1c" stroke-width="1" />
<line x1="202.1" y1="437.7" x2="200.4" y2="439.6" stroke="#333" stroke-width="1" />
<line x1="203.7" y1="439.7" x2="202.3" y2="442.4" stroke="#1c1c1c" stroke-width="1" />
<line x1="207.9" y1="441.2" x2="205.5" y2="441.6" stroke="#333" stroke-width="1" />
<line x1="209.5" y1="441.8" x2="208" y2="443.2" stroke="#1c1c1c" stroke-width="1" />
<line x1="209" y1="445.1" x2="206.9" y2="445.9" stroke="#333" stroke-width="1" />
<line x1="211.9" y1="447.8" x2="210.2" y2="449" stroke="#1c1c1c" stroke-width="1" />
<line x1="214.7" y1="448.8" x2="211.2" y2="449.6" stroke="#333" stroke-width="1" />
<line x1="213.8" y1="452.8" x2="213.1" y2="454.4" stroke="#1c1c1c" stroke-width="1" />
<line x1="215.8" y1="453.8" x2="213.8" y2="453.6" stroke="#333" stroke-width="1" />
<line x1="216" y1="456.5" x2="215" y2="458.3" stroke="#1c1c1c" stroke-width="1" />
<path d="M162 420 C163.3 421.3 163.3 419.3 166 424 C168.7 428.7 166.7 428.7 170 434 C173.3 439.3 172.7 434.7 176 440 C179.3 445.3 178.7 446.7 180 450" fill="none" stroke="#1c1c1c" stroke-width="1" />
<path d="M184 420 C185.6 421.1 186.8 419.7 190 424 C193.2 428.3 192.3 430.1 196 436 C199.7 441.9 199.7 440.7 204 446 C208.3 451.3 207.2 451.7 212 456 C216.8 460.3 219.3 460.4 222 462" fill="none" stroke="#1c1c1c" stroke-width="1.1" />
<path d="M186 404 L183 410 L184 420 L190 424" fill="none" stroke="#1c1c1c" stroke-width="1.1" />
<circle cx="196" cy="428" r="1.2" fill="none" stroke="#1c1c1c" stroke-width="1"/>
<circle cx="203" cy="440" r="1.2" fill="none" stroke="#1c1c1c" stroke-width="1"/>
<circle cx="193" cy="421" r="1" fill="none" stroke="#1c1c1c" stroke-width="1"/>
<path d="M175.6 457 L181 462 L214 447.5" fill="none" stroke="#1c1c1c" stroke-width="1.1" />
<path d="M148.4 470 L153 474 L181 462" fill="none" stroke="#1c1c1c" stroke-width="1.1" />
<path d="M153 474 L160 482 L212 461 L223.6 459.6" fill="none" stroke="#1c1c1c" stroke-width="1.1" />
<path d="M160 482 L163 492 L212.4 473 L228 467" fill="none" stroke="#1c1c1c" stroke-width="1.1" />
<path d="M142 478.8 L147 482 L157 490 L162.8 498.8" fill="none" stroke="#1c1c1c" stroke-width="1.2" />
<path d="M147 482 L150 476" fill="none" stroke="#1c1c1c" stroke-width="1" />
<path d="M157 490 L160 482" fill="none" stroke="#1c1c1c" stroke-width="1" />
<path d="M163 492 L162.8 498.8" fill="none" stroke="#1c1c1c" stroke-width="1" />
<path d="M186 472 L196 468 L205 479.5" fill="none" stroke="#1c1c1c" stroke-width="1" />
<path d="M176 476 L196 468" fill="none" stroke="#1c1c1c" stroke-width="0.0" />
<path d="M176 476 L190 486" fill="none" stroke="#333" stroke-width="1" />
<path d="M186 472 L200 482" fill="none" stroke="#333" stroke-width="1" />
<path d="M192 469.5 L197 478.5 L209 474" fill="none" stroke="#333" stroke-width="1" />
<line x1="163.2" y1="476.9" x2="164.5" y2="480.3" stroke="#333" stroke-width="1" />
<line x1="165.6" y1="476" x2="166.4" y2="478" stroke="#1c1c1c" stroke-width="1" />
<line x1="168.3" y1="475.9" x2="168.5" y2="478" stroke="#333" stroke-width="1" />
<line x1="169.9" y1="475.4" x2="169.8" y2="478.9" stroke="#1c1c1c" stroke-width="1" />
<line x1="173.6" y1="474.7" x2="175.1" y2="477.4" stroke="#333" stroke-width="1" />
<line x1="173" y1="470.2" x2="172.9" y2="473.3" stroke="#1c1c1c" stroke-width="1" />
<line x1="175.7" y1="470.2" x2="176.3" y2="471.9" stroke="#333" stroke-width="1" />
<line x1="179.3" y1="471.7" x2="180.8" y2="474.2" stroke="#1c1c1c" stroke-width="1" />
<line x1="181.3" y1="470" x2="181.7" y2="472.8" stroke="#333" stroke-width="1" />
<line x1="184.8" y1="470.2" x2="186.7" y2="473.2" stroke="#1c1c1c" stroke-width="1" />
<line x1="184.8" y1="466.5" x2="184.5" y2="469.1" stroke="#333" stroke-width="1" />
<line x1="187.9" y1="466" x2="188.9" y2="469.4" stroke="#1c1c1c" stroke-width="1" />
<line x1="191.1" y1="466.9" x2="191" y2="468.8" stroke="#333" stroke-width="1" />
<line x1="192.7" y1="464.4" x2="193.8" y2="468.1" stroke="#1c1c1c" stroke-width="1" />
<line x1="194" y1="464.6" x2="194.7" y2="468" stroke="#333" stroke-width="1" />
<line x1="195.8" y1="462.5" x2="197.9" y2="465.7" stroke="#1c1c1c" stroke-width="1" />
<line x1="197.9" y1="461.2" x2="197.4" y2="463.5" stroke="#333" stroke-width="1" />
<line x1="200.9" y1="459.6" x2="201.9" y2="462.4" stroke="#1c1c1c" stroke-width="1" />
<line x1="203.3" y1="461.4" x2="204.4" y2="463.1" stroke="#333" stroke-width="1" />
<line x1="204.9" y1="459.2" x2="205.1" y2="461.5" stroke="#1c1c1c" stroke-width="1" />
<line x1="208.9" y1="459.4" x2="210.9" y2="461.2" stroke="#333" stroke-width="1" />
<line x1="209.4" y1="457.2" x2="211.1" y2="460.3" stroke="#1c1c1c" stroke-width="1" />
<line x1="166.5" y1="487.5" x2="168.3" y2="489.2" stroke="#333" stroke-width="1" />
<line x1="169.7" y1="484.6" x2="169.5" y2="486.3" stroke="#1c1c1c" stroke-width="1" />
<line x1="174.7" y1="482.2" x2="174.7" y2="484.4" stroke="#333" stroke-width="1" />
<line x1="178" y1="481.9" x2="179.2" y2="484.1" stroke="#1c1c1c" stroke-width="1" />
<line x1="181" y1="480.1" x2="182.6" y2="481" stroke="#333" stroke-width="1" />
<line x1="187.4" y1="479.3" x2="189.1" y2="481.4" stroke="#1c1c1c" stroke-width="1" />
<line x1="191.7" y1="477.6" x2="193.2" y2="478.7" stroke="#333" stroke-width="1" />
<line x1="194.4" y1="476.3" x2="195" y2="478.3" stroke="#1c1c1c" stroke-width="1" />
<line x1="197.6" y1="473.8" x2="197.2" y2="475.9" stroke="#333" stroke-width="1" />
<line x1="203.1" y1="472.9" x2="204.6" y2="475.2" stroke="#1c1c1c" stroke-width="1" />
<path d="M214 447.5 L218 456 L223.6 459.6" fill="none" stroke="#1c1c1c" stroke-width="1" />
<path d="M216 462 L220 470 L230 476.4" fill="none" stroke="#1c1c1c" stroke-width="1" />
<line x1="150" y1="479" x2="214" y2="450" stroke="#1c1c1c" stroke-width="1.5" />
<line x1="152" y1="482" x2="216" y2="453" stroke="#1c1c1c" stroke-width="1.1" />
<line x1="156" y1="485" x2="178" y2="475" stroke="#1c1c1c" stroke-width="1.6" />
<line x1="180" y1="474" x2="222" y2="455" stroke="#1c1c1c" stroke-width="1.8" />
<line x1="158" y1="488" x2="176" y2="480" stroke="#1c1c1c" stroke-width="1.2" />
<line x1="184" y1="478" x2="226" y2="459.5" stroke="#1c1c1c" stroke-width="1.4" />
<line x1="166" y1="493" x2="178" y2="488" stroke="#1c1c1c" stroke-width="1.5" />
<line x1="190" y1="483" x2="226" y2="467" stroke="#1c1c1c" stroke-width="1.2" />
<line x1="164" y1="496" x2="214" y2="474" stroke="#1c1c1c" stroke-width="1.1" />
<line x1="146" y1="476" x2="172" y2="463" stroke="#1c1c1c" stroke-width="1.2" />
<line x1="149" y1="474" x2="160" y2="468.5" stroke="#1c1c1c" stroke-width="1.8" />
<path d="M168 482 L183 489.5 L198 483 L184 475.5Z" fill="none" stroke="#1c1c1c" stroke-width="1.1" />
<path d="M174 479 L190 487" fill="none" stroke="#1c1c1c" stroke-width="1.1" />
<path d="M198 472 L214 464.5 L217 470 L201 477.5Z" fill="none" stroke="#1c1c1c" stroke-width="1.2" />
<path d="M200 474.5 L215 467.5" fill="none" stroke="#444" stroke-width="1.8" />
<path d="M140 484 L145 480 L152 485 L156 492 L160 497" fill="none" stroke="#1c1c1c" stroke-width="1.2" />
<path d="M143 488 L148 484" fill="none" stroke="#1c1c1c" stroke-width="1.2" />
<path d="M152 494 L157 488" fill="none" stroke="#1c1c1c" stroke-width="1.2" />
<path d="M218 449 L224 458 L230 470" fill="none" stroke="#1c1c1c" stroke-width="1.2" />
<path d="M222 462 L228 474" fill="none" stroke="#1c1c1c" stroke-width="1.1" />
<path d="M213 456 L220 465 L224 472" fill="none" stroke="#1c1c1c" stroke-width="1.1" />
<line x1="152.8" y1="475.8" x2="153.3" y2="478.6" stroke="#333" stroke-width="1.1" />
<line x1="155.3" y1="474.3" x2="155.2" y2="476.9" stroke="#1c1c1c" stroke-width="1.1" />
<line x1="156.1" y1="472.7" x2="156.5" y2="475.3" stroke="#333" stroke-width="1.1" />
<line x1="159" y1="471.2" x2="161.3" y2="473" stroke="#1c1c1c" stroke-width="1.1" />
<line x1="162.1" y1="472.3" x2="163.5" y2="473.2" stroke="#333" stroke-width="1.1" />
<line x1="163.9" y1="468.4" x2="165" y2="470.5" stroke="#1c1c1c" stroke-width="1.1" />
<line x1="166.4" y1="467.5" x2="168.3" y2="468.9" stroke="#333" stroke-width="1.1" />
<line x1="168.4" y1="466.9" x2="170.2" y2="467.7" stroke="#1c1c1c" stroke-width="1.1" />
<line x1="171.4" y1="468.1" x2="172.9" y2="469.1" stroke="#333" stroke-width="1.1" />
<line x1="174.1" y1="466.6" x2="174.3" y2="468" stroke="#1c1c1c" stroke-width="1.1" />
<line x1="175.1" y1="465.5" x2="177.1" y2="466.7" stroke="#333" stroke-width="1.1" />
<line x1="177.9" y1="464.4" x2="178.3" y2="467.1" stroke="#1c1c1c" stroke-width="1.1" />
<line x1="180.7" y1="463.8" x2="181.2" y2="465.9" stroke="#333" stroke-width="1.1" />
<line x1="182.4" y1="462.4" x2="183.3" y2="463.7" stroke="#1c1c1c" stroke-width="1.1" />
<line x1="184.8" y1="460.5" x2="185.8" y2="461.6" stroke="#333" stroke-width="1.1" />
<line x1="187.3" y1="458.5" x2="189.1" y2="459.6" stroke="#1c1c1c" stroke-width="1.1" />
<line x1="189" y1="457.5" x2="190.3" y2="458.4" stroke="#333" stroke-width="1.1" />
<line x1="191.3" y1="457.2" x2="192.4" y2="458.6" stroke="#1c1c1c" stroke-width="1.1" />
<line x1="193.9" y1="455.4" x2="195.8" y2="456.1" stroke="#333" stroke-width="1.1" />
<line x1="196.1" y1="453.4" x2="197.5" y2="455.2" stroke="#1c1c1c" stroke-width="1.1" />
<line x1="198.7" y1="454.9" x2="200.1" y2="457.3" stroke="#333" stroke-width="1.1" />
<line x1="200.2" y1="452.2" x2="199.9" y2="454.2" stroke="#1c1c1c" stroke-width="1.1" />
<line x1="202.1" y1="451.4" x2="203.3" y2="453.7" stroke="#333" stroke-width="1.1" />
<line x1="206.4" y1="452.1" x2="206.2" y2="455" stroke="#1c1c1c" stroke-width="1.1" />
<line x1="207.7" y1="448.4" x2="209.7" y2="450.3" stroke="#333" stroke-width="1.1" />
<line x1="210.1" y1="448.5" x2="209.5" y2="450.3" stroke="#1c1c1c" stroke-width="1.1" />
<line x1="177.1" y1="469.5" x2="177.8" y2="471" stroke="#333" stroke-width="1.1" />
<line x1="179.6" y1="469" x2="179.2" y2="470.7" stroke="#1c1c1c" stroke-width="1.1" />
<line x1="181.4" y1="466.1" x2="181.3" y2="467.7" stroke="#333" stroke-width="1.1" />
<line x1="184" y1="465.1" x2="184.7" y2="466.3" stroke="#1c1c1c" stroke-width="1.1" />
<line x1="186.6" y1="463.2" x2="187.2" y2="464.3" stroke="#333" stroke-width="1.1" />
<line x1="190.4" y1="463.4" x2="190.9" y2="465.3" stroke="#1c1c1c" stroke-width="1.1" />
<line x1="192.6" y1="462.3" x2="193.1" y2="464.2" stroke="#333" stroke-width="1.1" />
<line x1="195.8" y1="459.6" x2="197.6" y2="461.1" stroke="#1c1c1c" stroke-width="1.1" />
<line x1="199.5" y1="459.8" x2="200.2" y2="461" stroke="#333" stroke-width="1.1" />
<line x1="202" y1="458.3" x2="201.6" y2="460.1" stroke="#1c1c1c" stroke-width="1.1" />
<line x1="203.8" y1="455.5" x2="203.2" y2="457.8" stroke="#333" stroke-width="1.1" />
<line x1="206.7" y1="455.2" x2="207.1" y2="456.3" stroke="#1c1c1c" stroke-width="1.1" />
<line x1="209.4" y1="453.7" x2="211.3" y2="455.1" stroke="#333" stroke-width="1.1" />
<line x1="212.7" y1="451.8" x2="212.7" y2="452.9" stroke="#1c1c1c" stroke-width="1.1" />
<line x1="214.6" y1="452.3" x2="214.1" y2="453.9" stroke="#333" stroke-width="1.1" />
<line x1="217.3" y1="450.2" x2="218" y2="451.9" stroke="#1c1c1c" stroke-width="1.1" />
<line x1="180" y1="485.7" x2="179.9" y2="488.5" stroke="#333" stroke-width="1" />
<line x1="181.8" y1="483.1" x2="181.6" y2="485.3" stroke="#1c1c1c" stroke-width="1" />
<line x1="184.2" y1="482.1" x2="184.7" y2="483.5" stroke="#333" stroke-width="1" />
<line x1="186.6" y1="479.8" x2="187.3" y2="481.9" stroke="#1c1c1c" stroke-width="1" />
<line x1="191.5" y1="479.7" x2="191" y2="481.9" stroke="#333" stroke-width="1" />
<line x1="195" y1="477.7" x2="196.2" y2="479.5" stroke="#1c1c1c" stroke-width="1" />
<line x1="198.2" y1="475.4" x2="198.8" y2="477.7" stroke="#333" stroke-width="1" />
<line x1="200.9" y1="475.2" x2="200.5" y2="477.2" stroke="#1c1c1c" stroke-width="1" />
<line x1="204" y1="474" x2="204.7" y2="476" stroke="#333" stroke-width="1" />
<line x1="206.7" y1="470.9" x2="206.9" y2="472.5" stroke="#1c1c1c" stroke-width="1" />
<line x1="210.2" y1="469.4" x2="209.7" y2="471.1" stroke="#333" stroke-width="1" />
<line x1="212" y1="468.9" x2="213.7" y2="470.3" stroke="#1c1c1c" stroke-width="1" />
<line x1="215.8" y1="467.4" x2="216" y2="469.2" stroke="#333" stroke-width="1" />
<line x1="220" y1="466.1" x2="219.6" y2="468.1" stroke="#1c1c1c" stroke-width="1" />
<line x1="161.8" y1="423.8" x2="158.9" y2="424.9" stroke="#333" stroke-width="1.1" />
<line x1="163.1" y1="425.7" x2="162" y2="428.1" stroke="#1c1c1c" stroke-width="1.1" />
<line x1="163.7" y1="427.4" x2="161.9" y2="428.1" stroke="#333" stroke-width="1.1" />
<line x1="166.1" y1="430.3" x2="163.8" y2="431.5" stroke="#1c1c1c" stroke-width="1.1" />
<line x1="166.8" y1="432.2" x2="165.1" y2="433" stroke="#333" stroke-width="1.1" />
<line x1="166.7" y1="434.5" x2="164.1" y2="435.1" stroke="#1c1c1c" stroke-width="1.1" />
<line x1="169.8" y1="435.8" x2="167.3" y2="436.4" stroke="#333" stroke-width="1.1" />
<line x1="169.3" y1="438.5" x2="167.6" y2="440.5" stroke="#1c1c1c" stroke-width="1.1" />
<line x1="171.5" y1="440.5" x2="169.1" y2="441.7" stroke="#333" stroke-width="1.1" />
<line x1="172" y1="442.8" x2="171.3" y2="444.8" stroke="#1c1c1c" stroke-width="1.1" />
<line x1="175.2" y1="443.1" x2="173.5" y2="443.7" stroke="#333" stroke-width="1.1" />
<line x1="175.4" y1="445.3" x2="173.8" y2="446.9" stroke="#1c1c1c" stroke-width="1.1" />
<line x1="175.2" y1="448.9" x2="172.7" y2="449.9" stroke="#333" stroke-width="1.1" />
<line x1="177.6" y1="450.9" x2="175.3" y2="453.2" stroke="#1c1c1c" stroke-width="1.1" />
<line x1="170.4" y1="423.8" x2="169.2" y2="425.8" stroke="#333" stroke-width="1.1" />
<line x1="170.9" y1="427.1" x2="168.9" y2="427.9" stroke="#1c1c1c" stroke-width="1.1" />
<line x1="173.2" y1="428.3" x2="171.5" y2="429.7" stroke="#333" stroke-width="1.1" />
<line x1="173.8" y1="430.7" x2="171.8" y2="431.8" stroke="#1c1c1c" stroke-width="1.1" />
<line x1="174.3" y1="435" x2="171.6" y2="435.3" stroke="#333" stroke-width="1.1" />
<line x1="176.8" y1="435" x2="175.7" y2="436.4" stroke="#1c1c1c" stroke-width="1.1" />
<line x1="178.3" y1="438.8" x2="176.6" y2="440.1" stroke="#333" stroke-width="1.1" />
<line x1="179.2" y1="440" x2="177.8" y2="440.6" stroke="#1c1c1c" stroke-width="1.1" />
<line x1="180.3" y1="442.5" x2="177.5" y2="442.8" stroke="#333" stroke-width="1.1" />
<line x1="184" y1="444.6" x2="182" y2="444.6" stroke="#1c1c1c" stroke-width="1.1" />
<line x1="183.9" y1="448.5" x2="181.3" y2="449.1" stroke="#333" stroke-width="1.1" />
<line x1="185.3" y1="450.6" x2="184.4" y2="452.7" stroke="#1c1c1c" stroke-width="1.1" />
<line x1="193.2" y1="419.9" x2="191.9" y2="420.7" stroke="#333" stroke-width="1.1" />
<line x1="194.8" y1="422.5" x2="193.2" y2="423.7" stroke="#1c1c1c" stroke-width="1.1" />
<line x1="196.6" y1="422.8" x2="195.7" y2="424.8" stroke="#333" stroke-width="1.1" />
<line x1="197.4" y1="425.8" x2="195.2" y2="426.2" stroke="#1c1c1c" stroke-width="1.1" />
<line x1="198.8" y1="428" x2="196.5" y2="428.2" stroke="#333" stroke-width="1.1" />
<line x1="200.7" y1="428.7" x2="198.9" y2="430.5" stroke="#1c1c1c" stroke-width="1.1" />
<line x1="201.8" y1="430.6" x2="199.5" y2="430.7" stroke="#333" stroke-width="1.1" />
<line x1="201.8" y1="432.7" x2="199.3" y2="433.7" stroke="#1c1c1c" stroke-width="1.1" />
<line x1="204.9" y1="434.4" x2="204.3" y2="436.2" stroke="#333" stroke-width="1.1" />
<line x1="204.8" y1="436.7" x2="202.2" y2="437.1" stroke="#1c1c1c" stroke-width="1.1" />
<line x1="206.6" y1="438.2" x2="204.1" y2="439.4" stroke="#333" stroke-width="1.1" />
<line x1="208" y1="439.7" x2="207.4" y2="441.4" stroke="#1c1c1c" stroke-width="1.1" />
<line x1="211.3" y1="440.4" x2="209.3" y2="441.4" stroke="#333" stroke-width="1.1" />
<line x1="210.7" y1="442.6" x2="208.5" y2="444.4" stroke="#1c1c1c" stroke-width="1.1" />
<line x1="212.2" y1="444.1" x2="211" y2="446.7" stroke="#333" stroke-width="1.1" />
<line x1="215.2" y1="445.5" x2="213.2" y2="447.5" stroke="#1c1c1c" stroke-width="1.1" />
<line x1="197.2" y1="427.9" x2="195.5" y2="428.6" stroke="#333" stroke-width="1.1" />
<line x1="199.3" y1="430.5" x2="198.2" y2="431" stroke="#1c1c1c" stroke-width="1.1" />
<line x1="201.3" y1="431.7" x2="201" y2="433.7" stroke="#333" stroke-width="1.1" />
<line x1="202.6" y1="435.6" x2="201.5" y2="438" stroke="#1c1c1c" stroke-width="1.1" />
<line x1="205.3" y1="437.6" x2="203.6" y2="438.4" stroke="#333" stroke-width="1.1" />
<line x1="208" y1="440.3" x2="207.1" y2="441.7" stroke="#1c1c1c" stroke-width="1.1" />
<line x1="208.3" y1="443.1" x2="206.1" y2="443.7" stroke="#333" stroke-width="1.1" />
<line x1="209.6" y1="446.5" x2="208.4" y2="446.8" stroke="#1c1c1c" stroke-width="1.1" />
<line x1="212.1" y1="447.3" x2="210.2" y2="447.8" stroke="#333" stroke-width="1.1" />
<line x1="213.2" y1="451" x2="212" y2="453.2" stroke="#1c1c1c" stroke-width="1.1" />
<line x1="214.9" y1="452.6" x2="213.4" y2="454.1" stroke="#333" stroke-width="1.1" />
<line x1="218.3" y1="454.9" x2="216.1" y2="455.5" stroke="#1c1c1c" stroke-width="1.1" />
<line x1="220.1" y1="457.1" x2="217.8" y2="457.1" stroke="#333" stroke-width="1.1" />
<line x1="220.5" y1="460" x2="219.7" y2="461.5" stroke="#1c1c1c" stroke-width="1.1" />
<path d="M190 421 L194 419.2 L196 422.4 L192 424.2Z" fill="none" stroke="#1c1c1c" stroke-width="1" />
<path d="M193.7 426.3 L197.7 424.5 L199.7 427.7 L195.7 429.5Z" fill="none" stroke="#1c1c1c" stroke-width="1" />
<path d="M197.4 431.6 L201.4 429.8 L203.4 433 L199.4 434.8Z" fill="none" stroke="#1c1c1c" stroke-width="1" />
<path d="M201.1 436.9 L205.1 435.1 L207.1 438.3 L203.1 440.1Z" fill="none" stroke="#1c1c1c" stroke-width="1" />
<path d="M204.8 442.2 L208.8 440.4 L210.8 443.6 L206.8 445.4Z" fill="none" stroke="#1c1c1c" stroke-width="1" />
<path d="M208.5 447.5 L212.5 445.7 L214.5 448.9 L210.5 450.7Z" fill="none" stroke="#1c1c1c" stroke-width="1" />
<path d="M176 404 C177.6 406.9 178.3 408.1 182 415 C185.7 421.9 185.7 421.7 190 430 C194.3 438.3 193.7 439.1 198 446 C202.3 452.9 203.9 453.3 206 456" fill="none" stroke="#1c1c1c" stroke-width="1.1" />
<path d="M172 416 C174.1 419.7 175.7 422 180 430 C184.3 438 184.3 439.1 188 446 C191.7 452.9 192.4 453.3 194 456" fill="none" stroke="#333" stroke-width="1" />
<path d="M180 407 L176 411 L178 419" fill="none" stroke="#1c1c1c" stroke-width="1.1" />
<path d="M103 318 L109 316" fill="none" stroke="#1c1c1c" stroke-width="1.2" />
<path d="M104.5 322 L111 319.5" fill="none" stroke="#1c1c1c" stroke-width="1.1" />
<path d="M126 306 C126.5 309.2 126.4 311.1 128 318 C129.6 324.9 129.9 325.6 132 332 C134.1 338.4 134.9 339.3 136 342" fill="none" stroke="#333" stroke-width="1" />
<path d="M134 312 L140 309.5 L141.5 314" fill="none" stroke="#1c1c1c" stroke-width="1.1" />
<path d="M150 304 L157 301" fill="none" stroke="#1c1c1c" stroke-width="1.1" />
<path d="M151 307 L158 304" fill="none" stroke="#1c1c1c" stroke-width="1.1" />
<path d="M143 303 L147 311" fill="none" stroke="#1c1c1c" stroke-width="1.1" />
<path d="M146.5 301.5 L150 308" fill="none" stroke="#1c1c1c" stroke-width="1" />
<path d="M166 293 L169 303" fill="none" stroke="#1c1c1c" stroke-width="1.2" />
<path d="M173 290 L175 296" fill="none" stroke="#1c1c1c" stroke-width="1.2" />
<path d="M178 287 L180 293" fill="none" stroke="#1c1c1c" stroke-width="1.1" />
<path d="M164.5 303 L166 309" fill="none" stroke="#1c1c1c" stroke-width="1" />
<path d="M166 302.4 L167.5 308.4" fill="none" stroke="#1c1c1c" stroke-width="1" />
<path d="M167.5 301.7 L169 307.7" fill="none" stroke="#1c1c1c" stroke-width="1" />
<path d="M169 301.1 L170.5 307.1" fill="none" stroke="#1c1c1c" stroke-width="1" />
<path d="M170.5 300.4 L172 306.4" fill="none" stroke="#1c1c1c" stroke-width="1" />
<path d="M156 362 L160 368 L168 365" fill="none" stroke="#1c1c1c" stroke-width="1.1" />
<path d="M160 368 L163 376 L170 373" fill="none" stroke="#1c1c1c" stroke-width="1.1" />
<path d="M147 366 L152 376 L160 373" fill="none" stroke="#1c1c1c" stroke-width="1.1" />
<circle cx="163.5" cy="371" r="1.2" fill="none" stroke="#1c1c1c" stroke-width="1"/>
<circle cx="150" cy="381" r="1.2" fill="none" stroke="#1c1c1c" stroke-width="1"/>
<path d="M183 366 L190 362 L196 356" fill="none" stroke="#1c1c1c" stroke-width="1.2" />
<path d="M186 358 L192 352" fill="none" stroke="#1c1c1c" stroke-width="1.1" />
<path d="M192 343 L198 340 L202 346" fill="none" stroke="#1c1c1c" stroke-width="1.1" />
<path d="M161 415 L168 424 L180 441 L187 452" fill="none" stroke="#1c1c1c" stroke-width="1.2" />
<line x1="153" y1="418.5" x2="161.8" y2="416.1" stroke="#1c1c1c" stroke-width="1.1" />
<line x1="155" y1="420.9" x2="163.8" y2="418.6" stroke="#1c1c1c" stroke-width="1.1" />
<line x1="156.9" y1="423.4" x2="165.8" y2="421.2" stroke="#1c1c1c" stroke-width="1.1" />
<line x1="158.9" y1="425.8" x2="167.8" y2="423.7" stroke="#1c1c1c" stroke-width="1.1" />
<line x1="160.8" y1="428.3" x2="169.7" y2="426.4" stroke="#1c1c1c" stroke-width="1.1" />
<line x1="162.6" y1="430.9" x2="171.5" y2="429" stroke="#1c1c1c" stroke-width="1.1" />
<line x1="164.4" y1="433.5" x2="173.4" y2="431.6" stroke="#1c1c1c" stroke-width="1.1" />
<line x1="166.2" y1="436" x2="175.3" y2="434.3" stroke="#1c1c1c" stroke-width="1.1" />
<line x1="168" y1="438.6" x2="177.1" y2="436.9" stroke="#1c1c1c" stroke-width="1.1" />
<line x1="169.8" y1="441.2" x2="179" y2="439.6" stroke="#1c1c1c" stroke-width="1.1" />
<line x1="171.6" y1="443.7" x2="180.8" y2="442.2" stroke="#1c1c1c" stroke-width="1.1" />
<line x1="173.4" y1="446.3" x2="182.5" y2="445" stroke="#1c1c1c" stroke-width="1.1" />
<line x1="175.2" y1="448.9" x2="184.3" y2="447.7" stroke="#1c1c1c" stroke-width="1.1" />
<line x1="177" y1="451.4" x2="186" y2="450.4" stroke="#1c1c1c" stroke-width="1.1" />
<line x1="178.8" y1="454" x2="187" y2="452" stroke="#1c1c1c" stroke-width="1.1" />
<path d="M155.8 421.9 L169.3 425.8 L166.2 436 L179.7 440.6 L176.3 450.4" fill="none" stroke="#1c1c1c" stroke-width="1" />
<path d="M183 408 L192 421 L201 437 L208 449 L212 458" fill="none" stroke="#1c1c1c" stroke-width="1.2" />
<line x1="192" y1="404" x2="183.7" y2="409" stroke="#1c1c1c" stroke-width="1.1" />
<line x1="193.9" y1="406.7" x2="185.6" y2="411.8" stroke="#1c1c1c" stroke-width="1.1" />
<line x1="195.8" y1="409.4" x2="187.5" y2="414.6" stroke="#1c1c1c" stroke-width="1.1" />
<line x1="197.7" y1="412.1" x2="189.5" y2="417.4" stroke="#1c1c1c" stroke-width="1.1" />
<line x1="199.6" y1="414.8" x2="191.4" y2="420.2" stroke="#1c1c1c" stroke-width="1.1" />
<line x1="201.4" y1="417.6" x2="193.2" y2="423.1" stroke="#1c1c1c" stroke-width="1.1" />
<line x1="203" y1="420.5" x2="194.8" y2="426" stroke="#1c1c1c" stroke-width="1.1" />
<line x1="204.6" y1="423.4" x2="196.5" y2="429" stroke="#1c1c1c" stroke-width="1.1" />
<line x1="206.1" y1="426.3" x2="198.2" y2="432" stroke="#1c1c1c" stroke-width="1.1" />
<line x1="207.7" y1="429.2" x2="199.8" y2="434.9" stroke="#1c1c1c" stroke-width="1.1" />
<line x1="209.4" y1="432.1" x2="201.5" y2="437.9" stroke="#1c1c1c" stroke-width="1.1" />
<line x1="211.2" y1="434.8" x2="203.2" y2="440.9" stroke="#1c1c1c" stroke-width="1.1" />
<line x1="213" y1="437.6" x2="205" y2="443.8" stroke="#1c1c1c" stroke-width="1.1" />
<line x1="214.9" y1="440.3" x2="206.7" y2="446.7" stroke="#1c1c1c" stroke-width="1.1" />
<line x1="216.6" y1="443.1" x2="208.3" y2="449.7" stroke="#1c1c1c" stroke-width="1.1" />
<line x1="218" y1="446.1" x2="209.7" y2="452.8" stroke="#1c1c1c" stroke-width="1.1" />
<line x1="219.5" y1="449" x2="211.1" y2="455.9" stroke="#1c1c1c" stroke-width="1.1" />
<line x1="221" y1="452" x2="212" y2="458" stroke="#1c1c1c" stroke-width="1.1" />
<path d="M184.6 410.4 L198.5 413.2 L195.6 427.4 L209.7 432.6 L207.1 447.5 L219.7 449.5" fill="none" stroke="#1c1c1c" stroke-width="1" />
<path d="M187.5 406 L195.7 417.7 L202.7 430.1 L210 442.3 L216.5 455" fill="none" stroke="#333" stroke-width="1" />
</g>
<g id="housingR">
<path d="M257.2 260.6 L332.8 225.6 L338.8 229.4 L346 239 L350.8 249.8 L354.4 248 L356.2 251 L354.4 254.6 L360.4 273.8 L363.4 277.4 L362.8 280.4 L364 289.4 L362.8 294.2 L349.6 302.6 L334 309.8 L329 314 L326.8 322 L327 331 L331 338 L336.4 345 L343 356 L349 367.6 L353 377 L355.6 385 L368.4 394 L372.4 398 L386 426.8 L326.8 456.4 L310.8 439.6 L302.8 439.6 L292.4 434 L296.4 424.4 L299.5 423 L303.5 426.5 L308.4 424.4 L320.4 417 L316.4 411.6 L323.6 406 L322.5 400 L320.4 394.8 L314 386 L307.6 378.8 L301 370 L296.4 362.8 L291 362.3 L286 361 L287.5 358.5 L291 357.5 L293 356.4 L293 351 L291.6 346.8 L287 342 L282 339.6 L270 341 L258 346.8 L254.5 344.5 L253.2 339.6 L256 337 L268 333 L281 327 L283.6 321 L286 318.2 L284.8 311 L280 296.6 L272.8 282.2 L266.8 269Z" fill="#fff" stroke="#1c1c1c" stroke-width="1.8" />
<path d="M258.5 263.5 L262 263 L291 250" fill="none" stroke="#1c1c1c" stroke-width="1" />
<path d="M269.2 271.4 L298 258.2" fill="none" stroke="#1c1c1c" stroke-width="1" />
<path d="M272.8 277.4 L300.4 265.4" fill="none" stroke="#1c1c1c" stroke-width="1" />
<path d="M266.8 269 L270 268.6 L296 256.8" fill="none" stroke="#333" stroke-width="0.9" />
<path d="M275.5 283 L288 277.5" fill="none" stroke="#333" stroke-width="0.9" />
<path d="M292 249.8 C293.3 251.5 294.3 252.7 297 256 C299.7 259.3 299.5 258.9 302 262 C304.5 265.1 305.2 266 306.4 267.5" fill="none" stroke="#1c1c1c" stroke-width="1.5" />
<path d="M295 248.6 C296.3 250.3 297.3 251.7 300 255 C302.7 258.3 302.6 258 305 261 C307.4 264 307.9 265 309 266.4" fill="none" stroke="#1c1c1c" stroke-width="1.1" />
<path d="M298 247.4 C299.3 249 300.3 250.3 303 253.5 C305.7 256.7 305.6 256.4 308 259.5 C310.4 262.6 310.9 263.5 312 265" fill="none" stroke="#1c1c1c" stroke-width="1.5" />
<path d="M292 249.8 L298 247.4" fill="none" stroke="#1c1c1c" stroke-width="1.1" />
<path d="M302.8 239.5 C304.5 241.5 305.7 242.6 309 247 C312.3 251.4 312.6 252 315 256 C317.4 260 317.2 260.4 318 262" fill="none" stroke="#333" stroke-width="0.9" />
<path d="M312.5 235 C314.5 237.1 316.4 238.5 320 243 C323.6 247.5 323.6 248 326 252 C328.4 256 328.2 256.4 329 258" fill="none" stroke="#333" stroke-width="0.9" />
<path d="M320.8 231.2 C322.7 233.3 324.5 234 328 239 C331.5 244 331.4 245.1 334 249.8 C336.6 254.5 336.6 254.7 337.6 256.5" fill="none" stroke="#333" stroke-width="0.9" />
<path d="M328 241.4 L338.8 237.2" fill="none" stroke="#1c1c1c" stroke-width="1.1" />
<path d="M329 244.5 L333 243 L335 249.5 L332.8 251 L329.5 247.5Z" fill="none" stroke="#1c1c1c" stroke-width="1.1" />
<path d="M333 243 L341 239.8" fill="none" stroke="#1c1c1c" stroke-width="0.9" />
<path d="M335 249.5 L345 245" fill="none" stroke="#1c1c1c" stroke-width="0.9" />
<path d="M350.8 249.8 L353 259 L357 272 L358.6 275" fill="none" stroke="#1c1c1c" stroke-width="1.1" />
<path d="M347.2 255.8 L351.5 254" fill="none" stroke="#1c1c1c" stroke-width="1" />
<path d="M354.4 254.6 L351 256.5" fill="none" stroke="#1c1c1c" stroke-width="0.9" />
<path d="M357 272 L362.5 278" fill="none" stroke="#1c1c1c" stroke-width="0.9" />
<path d="M284.2 293 L293.2 278.6 L347.2 255.8 L349.6 258.2 L358.6 275 L339.4 285.8 L301.6 309.8 L298 308.6Z" fill="#fff" stroke="#1c1c1c" stroke-width="1.6" />
<path d="M287.2 293 L294.8 280.6 L346.4 258.6 L355.4 274.4 L338.4 283.6 L301.2 306.8 L298.8 306.2Z" fill="none" stroke="#1c1c1c" stroke-width="0.9" />
<defs><filter id="gs" x="-10%" y="-50%" width="120%" height="200%"><feColorMatrix type="saturate" values="0"/></filter></defs>
<g filter="url(#gs)"><text x="0" y="0" transform="translate(292.2,298.2) rotate(-28.6) skewX(-4)" font-size="18.5" font-weight="bold" font-style="italic" textLength="60" lengthAdjust="spacingAndGlyphs" text-rendering="geometricPrecision" style="fill:#fff;stroke:#1c1c1c;stroke-width:0.8px;text-anchor:start">Milwaukee</text></g>
<path d="M308 299.5 L318 290.5 L316.5 292.8 L331 281.5 L329.5 284 L348 266" fill="none" stroke="#1c1c1c" stroke-width="1" />
<path d="M306 302 L322 290" fill="none" stroke="#333" stroke-width="0.9" />
<path d="M339.4 285.8 L341 297 L334 309.8" fill="none" stroke="#1c1c1c" stroke-width="0.0" />
<path d="M338.8 284.6 L341.5 299.5" fill="none" stroke="#1c1c1c" stroke-width="1" />
<path d="M341.5 299.5 L362.8 290" fill="none" stroke="#333" stroke-width="0.9" />
<path d="M346 287 L348 296.5" fill="none" stroke="#333" stroke-width="0.9" />
<path d="M341.5 292 L346 290 L348 292" fill="none" stroke="#1c1c1c" stroke-width="1.1" />
<path d="M348.5 283.5 L356 280" fill="none" stroke="#1c1c1c" stroke-width="1.4" />
<path d="M350 287.5 L352 290.5" fill="none" stroke="#1c1c1c" stroke-width="1.1" />
<path d="M344.5 286 L347.5 284.5" fill="none" stroke="#1c1c1c" stroke-width="1.1" />
<path d="M356 276.5 L360.4 273.8" fill="none" stroke="#1c1c1c" stroke-width="0.9" />
<path d="M314.5 300.5 L316.1 310" fill="none" stroke="#1c1c1c" stroke-width="1.3" />
<path d="M316.6 299.6 L318.2 309.1" fill="none" stroke="#1c1c1c" stroke-width="1.3" />
<path d="M318.7 298.6 L320.3 308.1" fill="none" stroke="#1c1c1c" stroke-width="1.3" />
<path d="M320.8 297.6 L322.4 307.1" fill="none" stroke="#1c1c1c" stroke-width="1.3" />
<path d="M322.9 296.7 L324.5 306.2" fill="none" stroke="#1c1c1c" stroke-width="1.3" />
<path d="M325 295.8 L326.6 305.2" fill="none" stroke="#1c1c1c" stroke-width="1.3" />
<path d="M327.1 294.8 L328.7 304.3" fill="none" stroke="#1c1c1c" stroke-width="1.3" />
<path d="M310 304.5 L331 295" fill="none" stroke="#1c1c1c" stroke-width="1" />
<path d="M312 312 L333 302.5" fill="none" stroke="#1c1c1c" stroke-width="1" />
<path d="M313 315 L330 307.5" fill="none" stroke="#333" stroke-width="0.9" />
<path d="M286 318.2 L314.8 306 L315.4 311 L288.4 322.4" fill="none" stroke="#1c1c1c" stroke-width="1.1" />
<path d="M284.8 311 L288 309.5 L298 308.6" fill="none" stroke="#1c1c1c" stroke-width="0.9" />
<path d="M280 296.6 L283 296 L284.2 293" fill="none" stroke="#1c1c1c" stroke-width="0.9" />
<path d="M281.5 300 L286 313" fill="none" stroke="#333" stroke-width="0.9" />
<path d="M283.6 321 L287 324 L290 323" fill="none" stroke="#1c1c1c" stroke-width="0.9" />
<path d="M256 341 C259.2 339.7 261.3 338.8 268 336 C274.7 333.2 275.9 333.7 281 330.5 C286.1 327.3 285.4 325.7 287 324" fill="none" stroke="#333" stroke-width="0.9" />
<path d="M259 344.5 C261.9 343 263.6 340.8 270 338.8 C276.4 336.8 277.7 335.9 283 337 C288.3 338.1 287.7 339.3 290 343 C292.3 346.7 291.1 348.9 291.5 351" fill="none" stroke="#333" stroke-width="0.9" />
<path d="M262 335 L263.5 341.5" fill="none" stroke="#333" stroke-width="0.9" />
<path d="M290 323 C290.8 325.4 291.1 327.5 293 332 C294.9 336.5 296.2 335.2 297 340 C297.8 344.8 297.3 345.2 296 350 C294.7 354.8 293.1 355.9 292 358" fill="none" stroke="#1c1c1c" stroke-width="1" />
<path d="M294 322 C294.9 324.4 295.6 326.2 297.5 331 C299.4 335.8 300.3 334.4 301 340 C301.7 345.6 301.1 346.1 300 352 C298.9 357.9 297.8 359.3 297 362" fill="none" stroke="#333" stroke-width="0.9" />
<path d="M300 318 C302.7 318.5 305.2 320.5 310 320 C314.8 319.5 314.8 318.7 318 316 C321.2 313.3 320.9 311.6 322 310" fill="none" stroke="#1c1c1c" stroke-width="1" />
<path d="M305 323 C307.1 323 309 324.3 313 323 C317 321.7 318.1 319.3 320 318" fill="none" stroke="#333" stroke-width="0.9" />
<path d="M329 314 C327.1 316.1 326 317.5 322 322 C318 326.5 316.7 326.2 314 331 C311.3 335.8 311.5 334.4 312 340 C312.5 345.6 312.3 345.1 316 352 C319.7 358.9 320.1 358.5 326 366 C331.9 373.5 332.7 373.1 338 380 C343.3 386.9 343.9 388.8 346 392" fill="none" stroke="#1c1c1c" stroke-width="1" />
<path d="M297 340 C299.4 338.9 301.7 337.9 306 336 C310.3 334.1 311.1 333.8 313 333" fill="none" stroke="#333" stroke-width="0.9" />
<path d="M300 352 C302.7 353.6 304.1 356.7 310 358 C315.9 359.3 316.7 358.1 322 357 C327.3 355.9 327.9 354.8 330 354" fill="none" stroke="#333" stroke-width="0.9" />
<path d="M300 366 C302.1 366 303.7 366.5 308 366 C312.3 365.5 313.9 364.5 316 364" fill="none" stroke="#333" stroke-width="0.9" />
<path d="M318 330 C320.7 331.3 321.2 333.1 326 340 C330.8 346.9 331.5 347.7 336 356 C340.5 364.3 340.5 364.9 343 371 C345.5 377.1 345.6 376.5 345.5 379 C345.4 381.5 344.5 382.4 342.5 380.5 C340.5 378.6 341.3 378.3 338 372 C334.7 365.7 334.5 364.7 330 357 C325.5 349.3 324.7 348.9 321 343 C317.3 337.1 316.8 338.5 316 335 C315.2 331.5 315.3 328.7 318 330Z" fill="none" stroke="#1c1c1c" stroke-width="1.1" />
<path d="M322 318 C322.8 320.7 322.1 321.9 325 328 C327.9 334.1 328.7 333.5 333 341 C337.3 348.5 337.5 348.3 341 356 C344.5 363.7 344.7 366.3 346 370" fill="none" stroke="#333" stroke-width="0.9" />
<path d="M323.6 399 C326.1 399.4 327.3 401.3 333 400.5 C338.7 399.7 339 399.3 345 396 C351 392.7 352.8 390.1 355.6 388" fill="none" stroke="#1c1c1c" stroke-width="1.1" />
<path d="M323 403.5 C325.9 403.9 327.6 405.9 334 405 C340.4 404.1 340.6 403.7 347 400 C353.4 396.3 355.1 393.4 358 391" fill="none" stroke="#333" stroke-width="0.9" />
<path d="M331 366 C332.9 370.8 335.3 374.7 338 384 C340.7 393.3 340.2 396.5 341 401" fill="none" stroke="#666" stroke-width="0.9" />
<path d="M316.4 411.6 L330 419 L368.4 398" fill="none" stroke="#1c1c1c" stroke-width="1" />
<path d="M320.4 417 L331 422 L372 401" fill="none" stroke="#1c1c1c" stroke-width="1" />
<path d="M331 422 L336 427 L375 407" fill="none" stroke="#1c1c1c" stroke-width="0.0" />
<path d="M308.4 424.4 L310.8 439.6" fill="none" stroke="#1c1c1c" stroke-width="1" />
<path d="M296.4 424.4 L300 428 L302.8 439.6" fill="none" stroke="#1c1c1c" stroke-width="1" />
<path d="M300 428 L303.5 426.5" fill="none" stroke="#1c1c1c" stroke-width="0.9" />
<path d="M292.4 434 L296 431 L300 433" fill="none" stroke="#1c1c1c" stroke-width="0.9" />
<path d="M372.4 398 L376.5 410 L386 426.8" fill="none" stroke="#333" stroke-width="0.9" />
<path d="M310.8 439.6 L316 436 L332 428 L337.5 430 L346 446" fill="none" stroke="#1c1c1c" stroke-width="1.1" />
<path d="M316 436 L319 440 L334 432.5 L337.5 430" fill="none" stroke="#1c1c1c" stroke-width="0.9" />
<path d="M319 440 L330 452.5" fill="none" stroke="#333" stroke-width="0.9" />
<path d="M320 441 L334.5 433.8" fill="none" stroke="#666" stroke-width="0.9" />
<path d="M320.9 442.2 L335.4 435" fill="none" stroke="#666" stroke-width="0.9" />
<path d="M321.8 443.4 L336.3 436.2" fill="none" stroke="#666" stroke-width="0.9" />
<path d="M322.7 444.6 L337.2 437.4" fill="none" stroke="#666" stroke-width="0.9" />
<path d="M358.5 431 L362 425.5 L373 420.5 L380 424 L378 430 L366 436 L360 436Z" fill="#fff" stroke="#1c1c1c" stroke-width="1.3" />
<path d="M362 425.5 L364 429 L375 424 L380 424" fill="none" stroke="#1c1c1c" stroke-width="0.9" />
<circle cx="364" cy="433" r="1.8" fill="none" stroke="#1c1c1c" stroke-width="0.9"/>
<circle cx="369.5" cy="430.5" r="2" fill="none" stroke="#1c1c1c" stroke-width="1"/>
<circle cx="369.5" cy="430.5" r="0.9" fill="#1c1c1c" stroke="#1c1c1c" stroke-width="1"/>
<circle cx="375" cy="428" r="1.8" fill="none" stroke="#1c1c1c" stroke-width="0.9"/>
</g>
<g id="g82">
<line x1="555" y1="634" x2="580.2" y2="622.6" stroke="#111" stroke-width="2.9" />
<line x1="555.7" y1="635.5" x2="554.3" y2="632.5" stroke="#111" stroke-width="2.6" />
<line x1="566.2" y1="640" x2="591.4" y2="629.2" stroke="#111" stroke-width="2.9" />
<line x1="566.8" y1="641.5" x2="565.6" y2="638.5" stroke="#111" stroke-width="2.6" />
<line x1="591.8" y1="715" x2="616.8" y2="704.6" stroke="#111" stroke-width="2.9" />
<line x1="592.4" y1="716.5" x2="591.2" y2="713.5" stroke="#111" stroke-width="2.6" />
<line x1="602.8" y1="722" x2="628.2" y2="710.8" stroke="#111" stroke-width="2.9" />
<line x1="603.4" y1="723.5" x2="602.2" y2="720.5" stroke="#111" stroke-width="2.6" />
<line x1="527" y1="665.8" x2="532.9" y2="663.1" stroke="#111" stroke-width="2.0" />
<circle cx="527" cy="665.8" r="1.7" fill="#111" stroke="#111" stroke-width="0.8"/>
<line x1="530.8" y1="691" x2="536.6" y2="688.3" stroke="#111" stroke-width="2.0" />
<circle cx="530.8" cy="691" r="1.7" fill="#111" stroke="#111" stroke-width="0.8"/>
<line x1="543.6" y1="705" x2="549.5" y2="702.3" stroke="#111" stroke-width="2.0" />
<circle cx="543.6" cy="705" r="1.7" fill="#111" stroke="#111" stroke-width="0.8"/>
<line x1="540.2" y1="714.6" x2="546.1" y2="711.9" stroke="#111" stroke-width="2.0" />
<circle cx="540.2" cy="714.6" r="1.7" fill="#111" stroke="#111" stroke-width="0.8"/>
<line x1="510.5" y1="672.8" x2="513.6" y2="675.6" stroke="#111" stroke-width="2.2" />
<line x1="513.6" y1="703.6" x2="514.6" y2="705.6" stroke="#111" stroke-width="2.0" />
<line x1="515.6" y1="709" x2="516.8" y2="710.6" stroke="#111" stroke-width="2.2" />
<line x1="534.4" y1="715.6" x2="535" y2="718.4" stroke="#111" stroke-width="1.8" />
<line x1="534.6" y1="720" x2="535.2" y2="721.6" stroke="#111" stroke-width="1.8" />
<path d="M625.2 660.7 C626.4 663.1 626 662 626.8 664.4 C627.6 666.9 627 665.7 627.7 668 C628.3 670.3 628.1 669.2 628.8 671.5 C629.5 673.8 629.2 672.7 629.8 674.9 C630.3 677 630.1 676 630.5 678.1 C630.9 680.1 630.7 679.1 631 681 C631.2 682.9 631.1 682 631.2 683.7 C631.3 685.4 631.3 684.6 631.2 686.1 C631.1 687.5 631.2 686.9 630.9 688 C630.7 689.2 630.8 688.7 630.4 689.6 C630 690.6 630 689.7 629.7 690.8 C629.3 691.9 629.8 692.1 629.3 692.9 C628.8 693.6 629.1 693.6 628.1 693.1 C627 692.7 627.3 692.3 626.2 691.5 C625 690.8 625.7 691.5 624.6 690.9 C623.6 690.3 624.1 690.6 623 689.7 C621.8 688.9 622.4 689.4 621.2 688.2 C620 687 620.6 687.7 619.3 686.2 C618.1 684.8 618.7 685.6 617.4 683.9 C616.2 682.2 616.8 683.1 615.5 681.2 C614.3 679.4 614.9 680.3 613.6 678.3 C612.4 676.3 613 677.3 611.8 675.1 C610.6 672.9 611.3 674 610 671.8 C608.8 669.6 609.2 670.8 608 668.5 C606.8 666.1 607.2 667.2 606.4 664.8 C605.6 662.3 606.2 663.5 605.5 661.2 C604.9 658.9 605.1 660 604.4 657.7 C603.7 655.4 604 656.5 603.4 654.3 C602.9 652.2 603.1 653.2 602.7 651.1 C602.3 649.1 602.5 650.1 602.2 648.2 C602 646.3 602.1 647.2 602 645.5 C601.9 643.8 601.9 644.6 602 643.1 C602.1 641.7 602 642.3 602.3 641.2 C602.5 640 602.4 640.5 602.8 639.6 C603.2 638.6 603.2 639.5 603.5 638.4 C603.9 637.3 603.4 637.1 603.9 636.3 C604.4 635.6 604.1 635.6 605.1 636.1 C606.2 636.5 605.9 636.9 607 637.7 C608.2 638.4 607.5 637.7 608.6 638.3 C609.6 638.9 609.1 638.6 610.2 639.5 C611.4 640.3 610.8 639.8 612 641 C613.2 642.2 612.6 641.5 613.9 643 C615.1 644.4 614.5 643.6 615.8 645.3 C617 647 616.4 646.1 617.7 648 C618.9 649.8 618.3 648.9 619.6 650.9 C620.8 652.9 620.2 651.9 621.4 654.1 C622.6 656.3 621.9 655.2 623.2 657.4 C624.4 659.6 624 658.4 625.2 660.7Z" fill="#fff" stroke="#1c1c1c" stroke-width="1.5" />
<ellipse cx="617.6" cy="664.2" rx="6" ry="17.5" transform="rotate(-24.2 617.6 664.2)" fill="none" stroke="#666" stroke-width="0.8" />
<path d="M603.5 638.5 L606 636.5 L609 638.5" fill="none" stroke="#1c1c1c" stroke-width="1.2" />
<path d="M624 690 L628 693.5 L631 692 L630.5 687" fill="#fff" stroke="#1c1c1c" stroke-width="1.2" />
<path d="M683.5 666.4 L681.9 666.7 L680 666.4 L677.9 665.5 L675.7 663.9 L673.4 661.8 L671.1 659.1 L668.7 656 L666.5 652.4 L664.3 648.6 L662.4 644.6 L660.7 640.5 L659.3 636.4 L658.1 632.4 L657.3 628.5 L656.9 625 L656.8 621.9 L657.1 619.2 L657.8 617 L658.8 615.4 L660.1 614.4 L675.2 607.6 L676.8 607.3 L678.6 607.6 L680.7 608.6 L682.9 610.1 L685.2 612.3 L687.6 614.9 L689.9 618.1 L692.2 621.6 L694.3 625.4 L696.2 629.4 L698 633.5 L699.4 637.7 L700.5 641.7 L701.3 645.5 L701.8 649 L701.8 652.2 L701.5 654.9 L700.9 657.1 L699.9 658.7 L698.5 659.6Z" fill="#fff" stroke="#1c1c1c" stroke-width="1.5" />
<path d="M679.1 607.8 L680.7 607 L682.3 607.8 L680.7 608.6" fill="#fff" stroke="#1c1c1c" stroke-width="1.0" />
<path d="M682.9 610.1 L684.6 609.4 L686.4 611 L684.7 611.7" fill="#fff" stroke="#1c1c1c" stroke-width="1.0" />
<path d="M687.1 614.3 L688.7 613.6 L690.5 615.9 L688.9 616.6" fill="#fff" stroke="#1c1c1c" stroke-width="1.0" />
<path d="M691.2 620 L692.8 619.2 L694.5 622.1 L692.9 622.8" fill="#fff" stroke="#1c1c1c" stroke-width="1.0" />
<path d="M695 626.7 L696.6 626 L698.1 629.1 L696.4 629.9" fill="#fff" stroke="#1c1c1c" stroke-width="1.0" />
<path d="M698.1 634 L699.8 633.3 L700.9 636.5 L699.3 637.2" fill="#fff" stroke="#1c1c1c" stroke-width="1.0" />
<path d="M700.4 641.2 L702.1 640.5 L702.7 643.5 L701.1 644.3" fill="#fff" stroke="#1c1c1c" stroke-width="1.0" />
<path d="M701.6 647.9 L703.3 647.2 L703.5 649.7 L701.8 650.5" fill="#fff" stroke="#1c1c1c" stroke-width="1.0" />
<path d="M701.7 653.4 L703.4 652.7 L703.1 654.7 L701.4 655.4" fill="#fff" stroke="#1c1c1c" stroke-width="1.0" />
<path d="M700.7 657.5 L702.3 656.7 L701.5 657.9 L699.9 658.7" fill="#fff" stroke="#1c1c1c" stroke-width="1.0" />
<path d="M672.5 608.8 L674.1 608.6 L676 609 L678 610.1 L680.2 611.7 L682.5 613.8 L684.8 616.5 L687.1 619.6 L689.3 623.1 L691.3 626.8 L693.2 630.7 L694.9 634.7 L696.3 638.8 L697.5 642.7 L698.3 646.5 L698.7 650 L698.8 653.1 L698.6 655.8 L698 658 L697.1 659.7 L695.9 660.8" fill="none" stroke="#1c1c1c" stroke-width="0.9" />
<path d="M671 609.5 L672.6 609.3 L674.5 609.7 L676.5 610.8 L678.7 612.4 L681 614.5 L683.3 617.2 L685.6 620.3 L687.8 623.8 L689.8 627.5 L691.7 631.4 L693.4 635.4 L694.8 639.5 L696 643.4 L696.8 647.2 L697.2 650.7 L697.3 653.8 L697.1 656.5 L696.5 658.7 L695.6 660.4 L694.4 661.5" fill="none" stroke="#333" stroke-width="0.7" />
<path d="M663.5 613 L664.4 612.8 L665.5 612.8 L666.6 613.1 L667.9 613.6 L669.1 614.3 L670.5 615.3 L671.8 616.4 L673.2 617.8 L674.6 619.3 L676.1 621.1 L677.5 622.9 L678.8 625 L680.2 627.1 L681.5 629.4 L682.7 631.7 L683.9 634.2 L684.9 636.6 L685.9 639.1 L686.8 641.6 L687.6 644" fill="none" stroke="#1c1c1c" stroke-width="0.9" />
<line x1="666.4" y1="615.8" x2="679.1" y2="610" stroke="#333" stroke-width="0.8" />
<line x1="676.6" y1="627.5" x2="689.4" y2="621.8" stroke="#333" stroke-width="0.8" />
<line x1="685.3" y1="647.6" x2="698" y2="641.8" stroke="#333" stroke-width="0.8" />
<line x1="686.5" y1="661.4" x2="699.3" y2="655.6" stroke="#333" stroke-width="0.8" />
<ellipse cx="671.8" cy="640.4" rx="10.3" ry="28.5" transform="rotate(-24.2 671.8 640.4)" fill="#fff" stroke="#1c1c1c" stroke-width="1.2" />
<path d="M639.4 629.6 L652.6 623.6 L660 620 L668 630 L676 652 L672 662 L662 668 L659.8 674 L655 681.2 L650 680Z" fill="#fff" stroke="#1c1c1c" stroke-width="1.2" />
<path d="M651.1 680.7 L649.4 681 L647.4 680.7 L645.2 679.6 L642.8 677.9 L640.3 675.6 L637.8 672.7 L635.2 669.3 L632.8 665.4 L630.5 661.3 L628.4 656.9 L626.5 652.4 L624.9 648 L623.7 643.6 L622.8 639.4 L622.3 635.6 L622.2 632.2 L622.5 629.3 L623.2 626.9 L624.3 625.2 L625.7 624.1 L630.7 621.9 L632.4 621.5 L634.4 621.9 L636.6 622.9 L639 624.6 L641.5 627 L644.1 629.9 L646.6 633.3 L649 637.1 L651.3 641.3 L653.4 645.6 L655.3 650.1 L656.9 654.6 L658.1 659 L659 663.1 L659.5 667 L659.6 670.4 L659.3 673.3 L658.6 675.6 L657.5 677.4 L656.1 678.4Z" fill="#fff" stroke="#1c1c1c" stroke-width="1.4" />
<ellipse cx="638.4" cy="652.4" rx="11" ry="31" transform="rotate(-24.2 638.4 652.4)" fill="#fff" stroke="#1c1c1c" stroke-width="1.3" />
<ellipse cx="638" cy="652.8" rx="7" ry="20" transform="rotate(-24.2 638 652.8)" fill="none" stroke="#1c1c1c" stroke-width="1.1" />
<ellipse cx="639.2" cy="652.2" rx="6" ry="17.4" transform="rotate(-24.2 639.2 652.2)" fill="none" stroke="#555" stroke-width="0.8" />
<circle cx="649.7" cy="656.9" r="1" fill="none" stroke="#1c1c1c" stroke-width="0.7"/>
<circle cx="650.1" cy="674.7" r="1" fill="none" stroke="#1c1c1c" stroke-width="0.7"/>
<circle cx="638.8" cy="670.2" r="1" fill="none" stroke="#1c1c1c" stroke-width="0.7"/>
<circle cx="627.1" cy="647.9" r="1" fill="none" stroke="#1c1c1c" stroke-width="0.7"/>
<circle cx="626.7" cy="630.1" r="1" fill="none" stroke="#1c1c1c" stroke-width="0.7"/>
<circle cx="638" cy="634.6" r="1" fill="none" stroke="#1c1c1c" stroke-width="0.7"/>
<path d="M628.5 625 L632 622 L634.5 624 L634 630" fill="#fff" stroke="#1c1c1c" stroke-width="1.2" />
<path d="M648 676 L652 681 L660 680.5 L661.5 675.5 L657 673" fill="#fff" stroke="#1c1c1c" stroke-width="1.2" />
<path d="M644 631 L646 645 L650 661 L653 670" fill="none" stroke="#1c1c1c" stroke-width="0.9" />
<path d="M647 629.5 L649 643 L653 658" fill="none" stroke="#333" stroke-width="0.8" />
<path d="M645.5 636 L647.1 635.3 L647.4 637.2 L645.8 637.9Z" fill="none" stroke="#1c1c1c" stroke-width="0.7" />
<path d="M646.5 642 L648.1 641.3 L648.4 643.2 L646.8 643.9Z" fill="none" stroke="#1c1c1c" stroke-width="0.7" />
<path d="M648 650 L649.6 649.3 L649.9 651.2 L648.3 651.9Z" fill="none" stroke="#1c1c1c" stroke-width="0.7" />
<path d="M650.5 664 L652.1 663.3 L652.4 665.2 L650.8 665.9Z" fill="none" stroke="#1c1c1c" stroke-width="0.7" />
<path d="M654 626 C654.7 628.7 654 628.7 656 634 C658 639.3 656.3 637.3 660 642 C663.7 646.7 663 643 667 648 C671 653 670.3 654 672 657" fill="none" stroke="#1c1c1c" stroke-width="1.2" />
<path d="M657 630 C658.7 631 659 630.3 662 633 C665 635.7 664 634.3 666 638 C668 641.7 667.3 642 668 644" fill="none" stroke="#1c1c1c" stroke-width="1.2" />
<path d="M655 640 C656 642.7 655 643.3 658 648 C661 652.7 660 650 664 654 C668 658 668 658 670 660" fill="none" stroke="#1c1c1c" stroke-width="1.0" />
<path d="M660 624 C661.3 626 660.7 626.7 664 630 C667.3 633.3 668 632.7 670 634" fill="none" stroke="#1c1c1c" stroke-width="1.2" />
<path d="M668 644 C669.3 638 670.7 640 674 642 C677.3 644 677.3 644.7 678 650 C678.7 655.3 678.7 654.7 676 658 C673.3 661.3 672.7 664.7 670 660 C667.3 655.3 666.7 650 668 644Z" fill="none" stroke="#1c1c1c" stroke-width="1.1" />
<path d="M670 647 C671.3 646.7 672 644.7 674 646 C676 647.3 676 647.7 676 651 C676 654.3 674.7 654.3 674 656" fill="none" stroke="#333" stroke-width="0.8" />
<path d="M652 655 L662 651 L664 660" fill="none" stroke="#1c1c1c" stroke-width="0.9" />
<path d="M654 663 L668 657" fill="none" stroke="#1c1c1c" stroke-width="0.9" />
<path d="M656 668 L672 661" fill="none" stroke="#1c1c1c" stroke-width="0.9" />
<path d="M663 664 L670 670 L678 667" fill="none" stroke="#1c1c1c" stroke-width="1.0" />
<path d="M666 660 L672 668" fill="none" stroke="#1c1c1c" stroke-width="1.0" />
<path d="M672 658 L680 664" fill="none" stroke="#1c1c1c" stroke-width="0.9" />
<line x1="651.4" y1="605.6" x2="655.2" y2="614.5" stroke="#111" stroke-width="1.6" />
<line x1="657.4" y1="608.6" x2="658.6" y2="614.5" stroke="#111" stroke-width="1.6" />
<line x1="653" y1="616" x2="660" y2="613" stroke="#111" stroke-width="1.4" />
<line x1="655" y1="619" x2="663" y2="622" stroke="#111" stroke-width="1.2" />
<line x1="661" y1="665" x2="668" y2="662" stroke="#111" stroke-width="1.6" />
<line x1="661.5" y1="660" x2="666" y2="657.5" stroke="#111" stroke-width="1.4" />
<line x1="679" y1="664.4" x2="685.5" y2="671.5" stroke="#111" stroke-width="1.6" />
<line x1="682" y1="660" x2="686" y2="664" stroke="#111" stroke-width="1.2" />
</g>
<g id="pcb">
<path d="M549.9 648.6 L550.7 647.8 L551.8 647.3 L553 647.2 L554.3 647.5 L555.8 648.2 L557.4 649.3 L559.1 650.7 L560.9 652.5 L562.7 654.7 L564.6 657.1 L566.5 659.8 L568.3 662.8 L570.1 665.9 L571.9 669.2 L573.5 672.6 L575.1 676 L576.5 679.5 L577.7 683 L578.8 686.4 L579.8 689.7 L580.5 692.9 L581 695.8 L581.4 698.6 L581.5 701 L581.4 703.2 L581.1 705.1 L580.6 706.6 L579.9 707.7 L579 708.4 L577.9 708.8 L578 707 L574 703 L570 699 L564 694.5 L560 688 L557 682 L553.5 676 L550 670 L549.5 664 L551 660 L547.5 654 L548.5 648Z" fill="#fff" stroke="#1c1c1c" stroke-width="1.5" />
<path d="M548.9 648.6 L549.7 648.1 L550.6 647.9 L551.6 647.9 L552.6 648.2 L553.8 648.7 L555.1 649.4 L556.4 650.4 L557.7 651.7 L559.2 653.1 L560.6 654.7 L562.1 656.6 L563.6 658.6 L565.1 660.8 L566.5 663.1 L568 665.6 L569.4 668.2 L570.7 670.8 L572 673.5 L573.3 676.3 L574.4 679.1 L575.5 681.8 L576.4 684.6 L577.3 687.3 L578 689.9 L578.7 692.5 L579.2 694.9 L579.5 697.2 L579.8 699.3 L579.9 701.3 L579.9 703.1" fill="none" stroke="#333" stroke-width="0.7" />
<path d="M557.8 658.5 L560 657.5 L560.7 659.1 L558.5 660.1Z" fill="#111" stroke="#1c1c1c" stroke-width="0.8" />
<path d="M574.6 702.4 L577.4 701.1 L578 702.3 L575.1 703.6Z" fill="#333" stroke="#1c1c1c" stroke-width="0.8" />
<path d="M551.7 665.7 L553.5 664.9 L554.3 666.6 L552.5 667.4Z" fill="#111" stroke="#1c1c1c" stroke-width="0.8" />
<path d="M558 657.1 L560.8 655.9 L561.6 657.8 L558.9 659.1Z" fill="#fff" stroke="#1c1c1c" stroke-width="0.8" />
<path d="M577.8 701.5 L580.4 700.3 L581.3 702.1 L578.6 703.3Z" fill="#111" stroke="#1c1c1c" stroke-width="0.8" />
<path d="M574.6 700.4 L576.9 699.3 L577.8 701.2 L575.4 702.2Z" fill="#111" stroke="#1c1c1c" stroke-width="0.8" />
<path d="M555 650.9 L556.3 650.3 L557.2 652.4 L556 653Z" fill="#111" stroke="#1c1c1c" stroke-width="0.8" />
<path d="M562.9 674.2 L564.7 673.4 L565.4 675 L563.7 675.8Z" fill="#111" stroke="#1c1c1c" stroke-width="0.8" />
<path d="M567 685.6 L569.6 684.4 L570 685.4 L567.4 686.6Z" fill="#111" stroke="#1c1c1c" stroke-width="0.8" />
<path d="M561.9 659.3 L564.6 658.1 L565.6 660.1 L562.8 661.4Z" fill="#333" stroke="#1c1c1c" stroke-width="0.8" />
<path d="M565.5 679.7 L567.3 678.9 L568 680.3 L566.1 681.1Z" fill="#111" stroke="#1c1c1c" stroke-width="0.8" />
<path d="M571.5 697.5 L573.2 696.7 L573.9 698.2 L572.2 699Z" fill="#fff" stroke="#1c1c1c" stroke-width="0.8" />
<path d="M559 667.5 L560.6 666.8 L561.6 668.9 L560 669.6Z" fill="#111" stroke="#1c1c1c" stroke-width="0.8" />
<path d="M574.1 685.7 L576.1 684.8 L576.8 686.4 L574.8 687.3Z" fill="#333" stroke="#1c1c1c" stroke-width="0.8" />
<path d="M566 681.9 L568.2 681 L568.8 682.3 L566.6 683.3Z" fill="#333" stroke="#1c1c1c" stroke-width="0.8" />
<path d="M556.3 655.9 L558.6 654.9 L559.5 657 L557.3 658Z" fill="#111" stroke="#1c1c1c" stroke-width="0.8" />
<path d="M561 668.4 L562.6 667.7 L563.1 668.7 L561.4 669.5Z" fill="#111" stroke="#1c1c1c" stroke-width="0.8" />
<path d="M569.7 700.5 L571.5 699.6 L572 700.8 L570.2 701.6Z" fill="#111" stroke="#1c1c1c" stroke-width="0.8" />
<path d="M572 684 L574.9 682.7 L575.6 684.2 L572.7 685.5Z" fill="#111" stroke="#1c1c1c" stroke-width="0.8" />
<path d="M575.2 700.4 L577.9 699.2 L578.7 700.8 L576 702Z" fill="#fff" stroke="#1c1c1c" stroke-width="0.8" />
<path d="M572.3 683.3 L573.8 682.6 L574.6 684.4 L573 685.1Z" fill="#fff" stroke="#1c1c1c" stroke-width="0.8" />
<path d="M573.7 691.3 L575.6 690.4 L576.6 692.6 L574.6 693.5Z" fill="#111" stroke="#1c1c1c" stroke-width="0.8" />
<path d="M573.5 694.4 L574.6 693.9 L575.2 695.2 L574.1 695.7Z" fill="#fff" stroke="#1c1c1c" stroke-width="0.8" />
<path d="M551.6 655.3 L554.3 654.1 L555.4 656.4 L552.6 657.7Z" fill="#fff" stroke="#1c1c1c" stroke-width="0.8" />
<path d="M571.6 682.6 L573.6 681.7 L574.6 684 L572.6 684.9Z" fill="#111" stroke="#1c1c1c" stroke-width="0.8" />
<path d="M574.6 690.3 L576.8 689.3 L577.5 690.8 L575.3 691.8Z" fill="#333" stroke="#1c1c1c" stroke-width="0.8" />
<path d="M572.6 697.9 L573.9 697.3 L574.7 699.1 L573.4 699.7Z" fill="#111" stroke="#1c1c1c" stroke-width="0.8" />
<path d="M564.2 693.3 L566.5 692.2 L567.6 694.5 L565.2 695.6Z" fill="#111" stroke="#1c1c1c" stroke-width="0.8" />
<path d="M556 665.5 L557.5 664.8 L558.6 667.1 L557 667.8Z" fill="#fff" stroke="#1c1c1c" stroke-width="0.8" />
<path d="M556.7 664.7 L559.6 663.4 L560.6 665.7 L557.7 667Z" fill="#111" stroke="#1c1c1c" stroke-width="0.8" />
<path d="M553.9 658.8 L555.4 658.1 L556.2 660 L554.8 660.6Z" fill="#111" stroke="#1c1c1c" stroke-width="0.8" />
<path d="M556.1 666.5 L558.9 665.2 L559.6 666.7 L556.8 668Z" fill="#111" stroke="#1c1c1c" stroke-width="0.8" />
<path d="M562.7 684.8 L565.3 683.6 L565.9 684.8 L563.2 686Z" fill="#333" stroke="#1c1c1c" stroke-width="0.8" />
<path d="M570.6 689.7 L572.6 688.8 L573.5 690.8 L571.5 691.7Z" fill="#111" stroke="#1c1c1c" stroke-width="0.8" />
<path d="M564.7 694.5 L566.6 693.6 L567.1 694.6 L565.1 695.5Z" fill="#333" stroke="#1c1c1c" stroke-width="0.8" />
<path d="M558.2 658.9 L559.8 658.2 L560.7 660.2 L559.1 660.9Z" fill="#111" stroke="#1c1c1c" stroke-width="0.8" />
<path d="M566.3 690.9 L567.7 690.3 L568.6 692.3 L567.2 692.9Z" fill="#111" stroke="#1c1c1c" stroke-width="0.8" />
<path d="M574.3 691.8 L576.3 690.9 L577 692.7 L575.1 693.6Z" fill="#333" stroke="#1c1c1c" stroke-width="0.8" />
<path d="M565.9 682.1 L568.3 681 L569.4 683.3 L566.9 684.4Z" fill="#111" stroke="#1c1c1c" stroke-width="0.8" />
<path d="M560 665.4 L562.5 664.3 L563 665.5 L560.5 666.6Z" fill="#333" stroke="#1c1c1c" stroke-width="0.8" />
<path d="M576.2 690.8 L577.9 690 L578.5 691.4 L576.8 692.2Z" fill="#fff" stroke="#1c1c1c" stroke-width="0.8" />
<path d="M557 653.1 L559.5 652 L560.2 653.6 L557.7 654.7Z" fill="#333" stroke="#1c1c1c" stroke-width="0.8" />
<path d="M575.9 699.2 L578.3 698.1 L579 699.7 L576.6 700.8Z" fill="#333" stroke="#1c1c1c" stroke-width="0.8" />
<path d="M559.8 671.6 L561.3 670.9 L561.7 671.9 L560.2 672.6Z" fill="#fff" stroke="#1c1c1c" stroke-width="0.8" />
<path d="M550.2 654.2 L552.4 653.2 L553.1 654.7 L550.9 655.7Z" fill="#fff" stroke="#1c1c1c" stroke-width="0.8" />
<path d="M559.5 675.9 L561.2 675.1 L562 676.7 L560.2 677.5Z" fill="#111" stroke="#1c1c1c" stroke-width="0.8" />
<path d="M561.7 669.7 L563.1 669.1 L563.9 670.6 L562.4 671.3Z" fill="#333" stroke="#1c1c1c" stroke-width="0.8" />
<path d="M571.4 683.8 L573.8 682.7 L574.6 684.6 L572.3 685.7Z" fill="#111" stroke="#1c1c1c" stroke-width="0.8" />
<path d="M563 675.9 L564.6 675.1 L565.3 676.6 L563.7 677.4Z" fill="#333" stroke="#1c1c1c" stroke-width="0.8" />
<path d="M579.8 698.5 L580.9 698 L581.5 699.3 L580.4 699.8Z" fill="#111" stroke="#1c1c1c" stroke-width="0.8" />
<path d="M574.7 695.3 L575.9 694.7 L576.4 695.9 L575.2 696.4Z" fill="#333" stroke="#1c1c1c" stroke-width="0.8" />
<path d="M563.8 664.4 L566.3 663.3 L567 664.8 L564.5 665.9Z" fill="#111" stroke="#1c1c1c" stroke-width="0.8" />
<path d="M563.9 672.5 L565.7 671.7 L566.5 673.5 L564.7 674.3Z" fill="#111" stroke="#1c1c1c" stroke-width="0.8" />
<path d="M562.9 662.2 L564.6 661.4 L565.2 662.7 L563.5 663.4Z" fill="#111" stroke="#1c1c1c" stroke-width="0.8" />
<path d="M572.9 697.6 L574.4 696.9 L575.2 698.8 L573.7 699.5Z" fill="#fff" stroke="#1c1c1c" stroke-width="0.8" />
<path d="M554.2 659.6 L556.1 658.8 L556.8 660.4 L554.9 661.2Z" fill="#111" stroke="#1c1c1c" stroke-width="0.8" />
<path d="M569.3 684.8 L571.5 683.8 L572 684.9 L569.8 685.9Z" fill="#111" stroke="#1c1c1c" stroke-width="0.8" />
<path d="M556.1 651.1 L558.9 649.8 L559.7 651.8 L556.9 653Z" fill="#111" stroke="#1c1c1c" stroke-width="0.8" />
<path d="M554.4 654.4 L556.2 653.6 L556.9 655.1 L555.1 655.9Z" fill="#fff" stroke="#1c1c1c" stroke-width="0.8" />
<path d="M551.8 665.9 L553.9 664.9 L554.4 666 L552.3 666.9Z" fill="#111" stroke="#1c1c1c" stroke-width="0.8" />
<path d="M554.8 661.4 L555.9 660.9 L556.4 662.1 L555.3 662.6Z" fill="#333" stroke="#1c1c1c" stroke-width="0.8" />
<path d="M573.9 690.4 L575.9 689.5 L576.4 690.4 L574.3 691.4Z" fill="#111" stroke="#1c1c1c" stroke-width="0.8" />
<path d="M565.8 670.6 L567.4 669.9 L568.1 671.7 L566.6 672.4Z" fill="#333" stroke="#1c1c1c" stroke-width="0.8" />
<path d="M577.7 697 L578.8 696.5 L579.6 698.3 L578.5 698.8Z" fill="#111" stroke="#1c1c1c" stroke-width="0.8" />
<path d="M565.7 671.8 L568.6 670.5 L569.4 672.4 L566.5 673.7Z" fill="#111" stroke="#1c1c1c" stroke-width="0.8" />
<path d="M556.7 652.4 L558.9 651.4 L559.7 653.2 L557.5 654.2Z" fill="#fff" stroke="#1c1c1c" stroke-width="0.8" />
<path d="M569.6 685.3 L571 684.7 L571.5 685.8 L570.1 686.4Z" fill="#111" stroke="#1c1c1c" stroke-width="0.8" />
<path d="M560.2 665.7 L562.9 664.5 L563.3 665.5 L560.6 666.7Z" fill="#111" stroke="#1c1c1c" stroke-width="0.8" />
<path d="M551.6 662.6 L554.2 661.4 L554.8 662.9 L552.2 664Z" fill="#111" stroke="#1c1c1c" stroke-width="0.8" />
<path d="M565.4 675.7 L567.7 674.7 L568.2 675.8 L565.9 676.8Z" fill="#111" stroke="#1c1c1c" stroke-width="0.8" />
<path d="M555.6 663.7 L557.2 663 L557.7 664.2 L556.2 664.9Z" fill="#111" stroke="#1c1c1c" stroke-width="0.8" />
<path d="M569 688.6 L570.3 688 L571.2 690.1 L570 690.7Z" fill="#111" stroke="#1c1c1c" stroke-width="0.8" />
<path d="M566.1 675.9 L568.3 674.9 L569.1 676.7 L566.9 677.7Z" fill="#111" stroke="#1c1c1c" stroke-width="0.8" />
<path d="M550.8 652.6 L552.8 651.8 L553.7 653.9 L551.8 654.8Z" fill="#fff" stroke="#1c1c1c" stroke-width="0.8" />
<path d="M575.2 690.7 L577.5 689.7 L578.1 690.9 L575.7 692Z" fill="#333" stroke="#1c1c1c" stroke-width="0.8" />
<path d="M568.8 676.5 L571.7 675.2 L572.4 676.7 L569.5 678Z" fill="#fff" stroke="#1c1c1c" stroke-width="0.8" />
<path d="M577 698.1 L578.1 697.6 L578.7 699 L577.6 699.5Z" fill="#333" stroke="#1c1c1c" stroke-width="0.8" />
<path d="M552.6 667.1 L554.4 666.3 L555.3 668.3 L553.5 669.1Z" fill="#111" stroke="#1c1c1c" stroke-width="0.8" />
<path d="M573.9 699.1 L576.6 697.8 L577.2 699.1 L574.5 700.3Z" fill="#333" stroke="#1c1c1c" stroke-width="0.8" />
<path d="M567.8 678.3 L570.3 677.2 L571.3 679.4 L568.8 680.5Z" fill="#111" stroke="#1c1c1c" stroke-width="0.8" />
<path d="M570.1 699.5 L572.3 698.5 L572.9 699.9 L570.7 700.9Z" fill="#111" stroke="#1c1c1c" stroke-width="0.8" />
<path d="M570.7 678.1 L573.5 676.9 L574.5 679.2 L571.8 680.5Z" fill="#111" stroke="#1c1c1c" stroke-width="0.8" />
<path d="M577.5 700.8 L579.9 699.7 L580.5 700.9 L578 702Z" fill="#333" stroke="#1c1c1c" stroke-width="0.8" />
<path d="M553 698 L562 694 L564.2 699.4 L556 703.2Z" fill="#fff" stroke="#1c1c1c" stroke-width="1.1" />
<ellipse cx="554.6" cy="700.6" rx="1.4" ry="2.8" transform="rotate(-24.2 554.6 700.6)" fill="#fff" stroke="#1c1c1c" stroke-width="1.0" />
<path d="M566 700 L574 696.5 L579 700 L580 708 L574 711 L568 708Z" fill="#fff" stroke="#1c1c1c" stroke-width="1.2" />
<path d="M568 703 L577 699" fill="none" stroke="#1c1c1c" stroke-width="0.8" />
<path d="M569 706 L578 702" fill="none" stroke="#1c1c1c" stroke-width="0.8" />
</g>
<g id="switch">
<path d="M563.5 703 C563.6 699.3 564.8 700.2 566.5 701 C568.2 701.8 568.3 702.5 570 706 C571.7 709.5 571.3 708.7 573 714 C574.7 719.3 574.5 720.4 576.4 726 C578.3 731.6 577.6 730.2 580 735 C582.4 739.8 583.3 739.5 585.4 744 C587.5 748.5 587.4 747.2 588 752 C588.6 756.8 586.7 756.7 587.5 762 C588.3 767.3 588.2 764.3 591 772 C593.8 779.7 595.2 784.1 598 790.8 C600.8 797.5 599.6 794.1 601.5 797 C603.4 799.9 604.6 799.2 605 801.6 C605.4 804 605.3 805.1 603 806 C600.7 806.9 599.2 807.4 596.5 805 C593.8 802.6 594.5 800.8 593 797 C591.5 793.2 592.8 795.6 590.8 790.8 C588.8 786 588.4 784.8 585.5 779 C582.6 773.2 583.6 773.4 580 769 C576.4 764.6 576.1 765.6 572 762.5 C567.9 759.4 566.4 760.6 564.5 757.5 C562.6 754.4 563.3 753.5 565 751 C566.7 748.5 569.1 751.5 571 748 C572.9 744.5 572.5 743.6 572 738 C571.5 732.4 570.6 733.1 569 727 C567.4 720.9 567.5 721.4 566 715 C564.5 708.6 563.4 706.7 563.5 703Z" fill="#fff" stroke="#1c1c1c" stroke-width="1.7" />
<path d="M567 707 C567.9 709.9 568.8 711.9 570.5 718 C572.2 724.1 571.5 723.6 573.5 730 C575.5 736.4 575.7 735.6 578 742 C580.3 748.4 580.4 748.1 582 754 C583.6 759.9 582.1 757.6 584 764 C585.9 770.4 586.1 770.3 589 778 C591.9 785.7 592.3 786.6 595 793 C597.7 799.4 597.9 799.6 599 802" fill="none" stroke="#1c1c1c" stroke-width="1.1" />
<path d="M569.5 704 C570.6 707.2 571.5 709.6 573.5 716 C575.5 722.4 574.7 721.6 577 728 C579.3 734.4 579.7 733.6 582 740 C584.3 746.4 584.4 745.9 585.5 752 C586.6 758.1 584.7 756.9 586 763 C587.3 769.1 587.6 767.5 590.5 775 C593.4 782.5 595.3 786.7 597 791" fill="none" stroke="#333" stroke-width="1" />
<path d="M568 752 C569.6 753.3 570.5 754.1 574 757 C577.5 759.9 577.8 759 581 763 C584.2 767 584.7 769.6 586 772" fill="none" stroke="#1c1c1c" stroke-width="1.1" />
<line x1="567.3" y1="750.6" x2="566.6" y2="752.2" stroke="#333" stroke-width="1" />
<line x1="569.7" y1="752.8" x2="569.3" y2="754.3" stroke="#1c1c1c" stroke-width="1" />
<line x1="570.8" y1="756.1" x2="568.6" y2="756.9" stroke="#333" stroke-width="1" />
<line x1="574.1" y1="758" x2="574.1" y2="760.2" stroke="#1c1c1c" stroke-width="1" />
<line x1="576.5" y1="758.5" x2="574.8" y2="760.1" stroke="#333" stroke-width="1" />
<line x1="578.4" y1="761.3" x2="578.3" y2="763.4" stroke="#1c1c1c" stroke-width="1" />
<line x1="580.8" y1="763.1" x2="579.7" y2="764.6" stroke="#333" stroke-width="1" />
<line x1="582.9" y1="767.3" x2="581.2" y2="767.9" stroke="#1c1c1c" stroke-width="1" />
<path d="M516 740.4 L518 735 L522.4 732 L526 733.5 L548 724.5 L551 720.5 L565.6 716.4 L571 719.7 L575 732 L580 749.4 L574 752.5 L558.4 754.8 L553 752 L545 755.5 L543 759 L531.4 762 L528 758 L526 747.6 L523 743.5Z" fill="#fff" stroke="#1c1c1c" stroke-width="1.8" />
<path d="M548 724.5 L551.5 735 L553 752" fill="none" stroke="#1c1c1c" stroke-width="1.2" />
<path d="M551 720.5 L554 731 L575 722.5" fill="none" stroke="#1c1c1c" stroke-width="0.0" />
<path d="M551.5 735 L556 732.5 L572 727" fill="none" stroke="#1c1c1c" stroke-width="1.1" />
<path d="M556 732.5 L559 744 L558.4 754.8" fill="none" stroke="#1c1c1c" stroke-width="1.1" />
<path d="M557 728 C559.1 727.5 561.3 725.2 565 726 C568.7 726.8 568.5 726.2 571 731 C573.5 735.8 573.6 740.5 574.5 744" fill="none" stroke="#333" stroke-width="1" />
<path d="M518.5 738 L544 727.5 L546 733 L524 743" fill="none" stroke="#1c1c1c" stroke-width="1.1" />
<path d="M524 743 L529 745 L545 738.5 L546 733" fill="none" stroke="#1c1c1c" stroke-width="1" />
<path d="M529 745 L531 756 L543 753 L545 738.5" fill="none" stroke="#1c1c1c" stroke-width="1" />
<path d="M531 750 C532.3 749.2 533.3 747.5 536 747 C538.7 746.5 539.7 747.7 541 748" fill="none" stroke="#333" stroke-width="1" />
<path d="M545 740 L551 738" fill="none" stroke="#1c1c1c" stroke-width="1" />
<path d="M546 746 L552.5 744" fill="none" stroke="#1c1c1c" stroke-width="1" />
<path d="M546.5 741 L550 747 L547 750" fill="none" stroke="#333" stroke-width="1" />
<circle cx="522.6" cy="734.6" r="1.3" fill="none" stroke="#1c1c1c" stroke-width="1"/>
<path d="M533.5 728 L534 731.5" fill="none" stroke="#1c1c1c" stroke-width="1.2" />
<circle cx="534" cy="727.5" r="1.1" fill="none" stroke="#1c1c1c" stroke-width="1"/>
<path d="M540 724.5 L541 728" fill="none" stroke="#1c1c1c" stroke-width="1" />
<path d="M547.6 825 L551 821.4 L556 822.5 L569 816 L585 808.5 L596.5 805 L605 801.6 L612 803.5 L614.5 809 L621.4 816 L623 823 L618 829 L607 833 L599 828.5 L597 823 L569 834 L562 829.5 L558 831 L553.5 833.5 L549 830Z" fill="#fff" stroke="#1c1c1c" stroke-width="1.7" />
<path d="M556 822.5 L562 829.5" fill="none" stroke="#1c1c1c" stroke-width="1.1" />
<path d="M569 816 L573 824 L597 814.5 L599.5 819.5 L569 834" fill="none" stroke="#1c1c1c" stroke-width="1.1" />
<path d="M597 814.5 L612 808.5" fill="none" stroke="#1c1c1c" stroke-width="1.1" />
<path d="M599.5 819.5 L603 826 L607 833" fill="none" stroke="#1c1c1c" stroke-width="1.1" />
<path d="M603 826 L619 819" fill="none" stroke="#1c1c1c" stroke-width="1" />
<path d="M609 823.5 L612 830" fill="none" stroke="#333" stroke-width="1" />
<path d="M575 818 L590 811.5 L592.5 815.5 L577.5 822Z" fill="none" stroke="#1c1c1c" stroke-width="1" />
<line x1="576.1" y1="818.7" x2="577.6" y2="819.1" stroke="#333" stroke-width="1.1" />
<line x1="579" y1="818.5" x2="579.2" y2="819.9" stroke="#1c1c1c" stroke-width="1.1" />
<line x1="581.4" y1="817.2" x2="582.5" y2="818.4" stroke="#333" stroke-width="1.1" />
<line x1="583.7" y1="815.9" x2="583.2" y2="817.2" stroke="#1c1c1c" stroke-width="1.1" />
<line x1="585.6" y1="814.4" x2="586.5" y2="815.6" stroke="#333" stroke-width="1.1" />
<line x1="587.5" y1="815" x2="588.9" y2="815.3" stroke="#1c1c1c" stroke-width="1.1" />
<line x1="590.4" y1="812.4" x2="591.6" y2="813.5" stroke="#333" stroke-width="1.1" />
<path d="M574 826.5 L598 816.5" fill="none" stroke="#555" stroke-width="1.7" />
<path d="M551 825 L555 828.5 L553.5 833.5" fill="none" stroke="#1c1c1c" stroke-width="1" />
<path d="M552 834 L560 838.5" fill="none" stroke="#1c1c1c" stroke-width="1" />
<path d="M556 833 L563 837" fill="none" stroke="#333" stroke-width="1" />
<path d="M571 722 C572.1 725.2 572.6 727.6 575 734 C577.4 740.4 577.9 739.9 580 746 C582.1 752.1 581.9 751.7 583 757 C584.1 762.3 582.7 760.9 584 766 C585.3 771.1 585.6 770.1 588 776 C590.4 781.9 590.6 782.1 593 788 C595.4 793.9 595.9 795.3 597 798" fill="none" stroke="#1c1c1c" stroke-width="1.3" />
<path d="M574 751 C575.3 753.4 576.6 755.5 579 760 C581.4 764.5 580.9 762.9 583 768 C585.1 773.1 585.9 776.1 587 779" fill="none" stroke="#1c1c1c" stroke-width="1.1" />
<line x1="572.7" y1="730.2" x2="572.2" y2="731.5" stroke="#333" stroke-width="1" />
<line x1="574" y1="733.2" x2="572.3" y2="733.7" stroke="#1c1c1c" stroke-width="1" />
<line x1="575.7" y1="737.7" x2="574.6" y2="738.6" stroke="#333" stroke-width="1" />
<line x1="577.5" y1="739.7" x2="575.7" y2="740.2" stroke="#1c1c1c" stroke-width="1" />
<line x1="578.3" y1="743.8" x2="577.2" y2="743.5" stroke="#333" stroke-width="1" />
<line x1="579.3" y1="745.9" x2="578.6" y2="746.6" stroke="#1c1c1c" stroke-width="1" />
<line x1="580.7" y1="748.7" x2="579.5" y2="750.1" stroke="#333" stroke-width="1" />
<line x1="582" y1="751.3" x2="581.3" y2="752.8" stroke="#1c1c1c" stroke-width="1" />
<line x1="583.3" y1="755" x2="582.2" y2="756.6" stroke="#333" stroke-width="1" />
<line x1="585.2" y1="758.5" x2="583.5" y2="758.2" stroke="#1c1c1c" stroke-width="1" />
<line x1="586.3" y1="766.4" x2="585.4" y2="767.4" stroke="#333" stroke-width="1" />
<line x1="588.7" y1="770.3" x2="587.5" y2="771.5" stroke="#1c1c1c" stroke-width="1" />
<line x1="590.9" y1="773.2" x2="590.6" y2="775" stroke="#333" stroke-width="1" />
<line x1="591.8" y1="776.7" x2="590" y2="776.3" stroke="#1c1c1c" stroke-width="1" />
<line x1="592.5" y1="779.5" x2="591.2" y2="778.9" stroke="#333" stroke-width="1" />
<line x1="593.7" y1="783.5" x2="592.8" y2="784.3" stroke="#1c1c1c" stroke-width="1" />
<line x1="596.6" y1="787.5" x2="595.2" y2="786.8" stroke="#333" stroke-width="1" />
<line x1="597.1" y1="790.6" x2="595.6" y2="790.4" stroke="#1c1c1c" stroke-width="1" />
<line x1="597.9" y1="794.6" x2="597.1" y2="796" stroke="#333" stroke-width="1" />
<line x1="599.6" y1="796.7" x2="597.7" y2="796.5" stroke="#1c1c1c" stroke-width="1" />
<path d="M560 826 L566 823 L570 829.5 L564 832.5Z" fill="#333" stroke="#1c1c1c" stroke-width="1.1" />
<path d="M601 822 L611 817.5 L613.5 823 L604 828Z" fill="none" stroke="#1c1c1c" stroke-width="1.1" />
<path d="M604 820.8 L606.4 826.6" fill="none" stroke="#1c1c1c" stroke-width="1" />
<path d="M607.6 819.2 L610 825" fill="none" stroke="#1c1c1c" stroke-width="1" />
<path d="M580 813 L586 810.4" fill="none" stroke="#222" stroke-width="1.9" />
<path d="M588 809.6 L594 807" fill="none" stroke="#222" stroke-width="1.9" />
<path d="M549 830 L546 832 L548 835.5 L553.5 833.5" fill="none" stroke="#1c1c1c" stroke-width="1.2" />
</g>
<g id="g72">
<ellipse cx="720.6" cy="619.6" rx="2" ry="4.4" transform="rotate(-24.2 720.6 619.6)" fill="none" stroke="#1c1c1c" stroke-width="1.2" />
<ellipse cx="823.2" cy="571.6" rx="1.6" ry="3.8" transform="rotate(-24.2 823.2 571.6)" fill="none" stroke="#1c1c1c" stroke-width="1.5" />
<path d="M731.7 622.6 L730.8 622.8 L729.6 622.3 L728.4 621.4 L727.1 620 L725.9 618.3 L724.9 616.3 L724.1 614.2 L723.6 612.2 L723.4 610.3 L723.5 608.7 L723.9 607.6 L724.7 607 L730.1 604.5 L731.1 604.4 L732.3 604.8 L733.5 605.8 L734.8 607.1 L735.9 608.9 L737 610.9 L737.8 612.9 L738.3 615 L738.5 616.8 L738.4 618.4 L737.9 619.5 L737.2 620.2Z" fill="#fff" stroke="#1c1c1c" stroke-width="1.4" />
<ellipse cx="728.2" cy="614.8" rx="3.6" ry="8.6" transform="rotate(-24.2 728.2 614.8)" fill="#fff" stroke="#1c1c1c" stroke-width="1.2" />
<ellipse cx="728.6" cy="614.6" rx="2.2" ry="5.6" transform="rotate(-24.2 728.6 614.6)" fill="none" stroke="#1c1c1c" stroke-width="0.9" />
<ellipse cx="728.8" cy="614.5" rx="1.2" ry="3.2" transform="rotate(-24.2 728.8 614.5)" fill="none" stroke="#333" stroke-width="0.7" />
<path d="M736.6 608.6 L766 592.6 L768.4 597.2 L739 613.2Z" fill="#fff" stroke="#1c1c1c" stroke-width="1.1" />
<path d="M738.2 608 C739 608.5 739.4 608.2 740.6 609.4 C741.8 610.6 741.4 610.9 741.8 611.6" fill="none" stroke="#222" stroke-width="1.1" />
<path d="M739.8 607.6 L741.8 608.8" fill="none" stroke="#555" stroke-width="0.7" />
<path d="M742.3 605.8 C743.1 606.2 743.5 606 744.7 607.2 C745.9 608.4 745.5 608.6 745.9 609.4" fill="none" stroke="#222" stroke-width="1.1" />
<path d="M743.9 605.4 L745.9 606.6" fill="none" stroke="#555" stroke-width="0.7" />
<path d="M746.4 603.5 C747.2 604 747.6 603.7 748.8 604.9 C750 606.1 749.6 606.4 750 607.1" fill="none" stroke="#222" stroke-width="1.1" />
<path d="M748 603.1 L750 604.3" fill="none" stroke="#555" stroke-width="0.7" />
<path d="M750.5 601.3 C751.3 601.8 751.7 601.5 752.9 602.7 C754.1 603.9 753.7 604.2 754.1 604.9" fill="none" stroke="#222" stroke-width="1.1" />
<path d="M752.1 600.9 L754.1 602.1" fill="none" stroke="#555" stroke-width="0.7" />
<path d="M754.6 599.1 C755.4 599.5 755.8 599.3 757 600.5 C758.2 601.7 757.8 601.9 758.2 602.7" fill="none" stroke="#222" stroke-width="1.1" />
<path d="M756.2 598.7 L758.2 599.9" fill="none" stroke="#555" stroke-width="0.7" />
<path d="M758.7 596.9 C759.5 597.3 759.9 597.1 761.1 598.3 C762.3 599.5 761.9 599.7 762.3 600.5" fill="none" stroke="#222" stroke-width="1.1" />
<path d="M760.3 596.5 L762.3 597.7" fill="none" stroke="#555" stroke-width="0.7" />
<path d="M762.8 594.6 C763.6 595.1 764 594.8 765.2 596 C766.4 597.2 766 597.5 766.4 598.2" fill="none" stroke="#222" stroke-width="1.1" />
<path d="M764.4 594.2 L766.4 595.4" fill="none" stroke="#555" stroke-width="0.7" />
<path d="M770.3 599.7 L769.5 599.8 L768.5 599.4 L767.4 598.5 L766.5 597.2 L765.6 595.7 L765 594 L764.7 592.5 L764.7 591.1 L765.1 590.1 L765.7 589.5 L770.3 587.4 L771.1 587.4 L772.1 587.8 L773.1 588.7 L774.1 590 L774.9 591.5 L775.5 593.1 L775.8 594.7 L775.8 596.1 L775.5 597.1 L774.9 597.7Z" fill="#fff" stroke="#1c1c1c" stroke-width="1.1" />
<path d="M775.9 600.3 L774.8 600.3 L773.4 599.7 L771.9 598.3 L770.4 596.4 L769.2 594.1 L768.3 591.6 L767.8 589.3 L767.8 587.3 L768.2 585.8 L769.1 584.9 L772.7 583.3 L773.9 583.2 L775.3 583.9 L776.8 585.3 L778.2 587.2 L779.4 589.5 L780.3 591.9 L780.8 594.3 L780.9 596.3 L780.4 597.8 L779.6 598.6Z" fill="#fff" stroke="#1c1c1c" stroke-width="1.1" />
<ellipse cx="772.5" cy="592.6" rx="3.6" ry="8.4" transform="rotate(-24.2 772.5 592.6)" fill="#fff" stroke="#1c1c1c" stroke-width="0.9" />
<ellipse cx="812.6" cy="582.6" rx="9.6" ry="30.5" transform="rotate(-24.2 812.6 582.6)" fill="#fff" stroke="#1c1c1c" stroke-width="1.4" />
<ellipse cx="811.2" cy="583.2" rx="9" ry="29" transform="rotate(-24.2 811.2 583.2)" fill="none" stroke="#333" stroke-width="0.8" />
<path d="M810 599.6 L805.9 601.5 L803.7 598 L807.8 596.1" fill="#fff" stroke="#1c1c1c" stroke-width="1.1" />
<path d="M805.2 591.4 L801.1 593.3 L799.1 589.2 L803.2 587.4" fill="#fff" stroke="#1c1c1c" stroke-width="1.1" />
<path d="M800.7 581.3 L796.6 583.2 L795.2 579 L799.3 577.2" fill="#fff" stroke="#1c1c1c" stroke-width="1.1" />
<path d="M797.7 571.5 L793.6 573.3 L793 569.7 L797.1 567.9" fill="#fff" stroke="#1c1c1c" stroke-width="1.1" />
<path d="M796.8 563.3 L792.6 565.2 L792.9 562.6 L797 560.8" fill="#fff" stroke="#1c1c1c" stroke-width="1.1" />
<path d="M797.7 558.4 L793.6 560.3 L794.5 559 L798.6 557.2" fill="#fff" stroke="#1c1c1c" stroke-width="1.1" />
<line x1="807.9" y1="564.8" x2="807.9" y2="559.9" stroke="#1c1c1c" stroke-width="1.0" />
<line x1="807.9" y1="564.8" x2="809.4" y2="566.2" stroke="#333" stroke-width="0.8" />
<line x1="812.1" y1="569.6" x2="813.9" y2="567.1" stroke="#1c1c1c" stroke-width="1.0" />
<line x1="812.1" y1="569.6" x2="813.7" y2="572" stroke="#333" stroke-width="0.8" />
<line x1="816.5" y1="576.9" x2="819.6" y2="577.3" stroke="#1c1c1c" stroke-width="1.0" />
<line x1="816.5" y1="576.9" x2="817.9" y2="579.8" stroke="#333" stroke-width="0.8" />
<line x1="820.1" y1="585.2" x2="824" y2="588.5" stroke="#1c1c1c" stroke-width="1.0" />
<line x1="820.1" y1="585.2" x2="821.1" y2="588.1" stroke="#333" stroke-width="0.8" />
<line x1="822.3" y1="593" x2="826.3" y2="598.5" stroke="#1c1c1c" stroke-width="1.0" />
<line x1="822.3" y1="593" x2="822.7" y2="595.4" stroke="#333" stroke-width="0.8" />
<line x1="822.8" y1="598.4" x2="826.2" y2="605" stroke="#1c1c1c" stroke-width="1.0" />
<line x1="822.8" y1="598.4" x2="822.5" y2="599.9" stroke="#333" stroke-width="0.8" />
<path d="M783.7 608.7 L782.3 608.9 L780.7 608.4 L778.8 607.2 L777 605.4 L775.1 603.1 L773.4 600.4 L771.8 597.3 L770.6 594.2 L769.7 591.1 L769.2 588.1 L769.1 585.5 L769.4 583.4 L770.2 581.8 L771.3 580.9 L797.7 569 L799.1 568.8 L800.8 569.3 L802.6 570.5 L804.5 572.3 L806.3 574.6 L808.1 577.3 L809.6 580.4 L810.9 583.5 L811.8 586.6 L812.3 589.6 L812.3 592.2 L812 594.3 L811.3 595.9 L810.2 596.8Z" fill="#fff" stroke="#1c1c1c" stroke-width="1.4" />
<ellipse cx="777.5" cy="594.8" rx="6.2" ry="15.2" transform="rotate(-24.2 777.5 594.8)" fill="#fff" stroke="#1c1c1c" stroke-width="1.2" />
<ellipse cx="778.3" cy="594.5" rx="4.4" ry="11" transform="rotate(-24.2 778.3 594.5)" fill="none" stroke="#333" stroke-width="0.8" />
<ellipse cx="778.9" cy="594.2" rx="3.4" ry="8.2" transform="rotate(-24.2 778.9 594.2)" fill="#fff" stroke="#1c1c1c" stroke-width="0.8" />
<path d="M787 573.9 L788.4 573.8 L790 574.3 L791.8 575.5 L793.7 577.3 L795.5 579.6 L797.2 582.3 L798.7 585.3 L799.9 588.4 L800.8 591.4 L801.3 594.3 L801.4 596.9 L801.1 599 L800.5 600.6 L799.4 601.6" fill="none" stroke="#333" stroke-width="0.8" />
<path d="M774.2 579.6 L775.6 579.5 L777.3 580.1 L779.1 581.3 L780.9 583.1 L782.7 585.4 L784.4 588.1 L785.9 591 L787.1 594.1 L788 597.2 L788.5 600 L788.6 602.6 L788.4 604.7 L787.7 606.3 L786.7 607.3" fill="none" stroke="#333" stroke-width="0.7" />
<path d="M827.8 529.5 C830.1 526.7 836.5 525.2 841.1 524.8 C845.7 524.4 846.4 524.4 850.6 527.6 C854.8 530.8 857.8 534.1 862 540.9 C866.2 547.7 869.2 555 871.5 561.8 C873.8 568.6 873.2 571.7 873.4 575.1 C873.6 578.5 872.3 576.6 872.5 578.9 C872.7 581.2 875.7 583.8 874.4 586.5 C873.1 589.2 868.3 591.8 865.8 592.2 C863.3 592.6 864.3 589 862 588.4 C859.7 587.8 857.8 590.5 854.4 589.4 C851 588.3 846.4 585.6 844.9 582.7 C843.4 579.8 847.9 579.7 846.8 575.1 C845.7 570.5 841.5 566 839.2 559.9 C836.9 553.8 837.3 548.9 835.4 544.7 C833.5 540.5 831.2 542 829.7 539 C828.2 536 825.5 532.3 827.8 529.5Z" fill="#fff" stroke="#1c1c1c" stroke-width="1.5" />
<path d="M833 531 C835.7 530.2 838.2 527.5 843 528 C847.8 528.5 846.5 528.2 851 533 C855.5 537.8 855.7 538 860 546 C864.3 554 864.6 554.5 867 563 C869.4 571.5 868.5 574 869 578" fill="none" stroke="#1c1c1c" stroke-width="0.9" />
<path d="M838 534 C840.1 535.9 842 535.9 846 541 C850 546.1 849.5 545.8 853 553 C856.5 560.2 856.9 559.7 859 568 C861.1 576.3 860.5 579.7 861 584" fill="none" stroke="#1c1c1c" stroke-width="0.9" />
<ellipse cx="851.6" cy="560" rx="2.6" ry="6.4" transform="rotate(-24.2 851.6 560)" fill="#111" stroke="#111" stroke-width="1.2" />
<ellipse cx="852" cy="560" rx="5.4" ry="12" transform="rotate(-24.2 852 560)" fill="none" stroke="#1c1c1c" stroke-width="0.9" />
<ellipse cx="852" cy="560" rx="7.4" ry="16" transform="rotate(-24.2 852 560)" fill="none" stroke="#333" stroke-width="0.8" />
<path d="M864.2 569.7 L865.4 569.2 L865.9 570.3" fill="none" stroke="#333" stroke-width="0.8" />
<path d="M854 576.4 L855.1 575.9 L855.6 577" fill="none" stroke="#1c1c1c" stroke-width="0.8" />
<path d="M842.9 542.2 L844.3 541.5 L844.8 542.6" fill="none" stroke="#111" stroke-width="0.8" />
<path d="M839.1 543.2 L841.1 542.3 L841.6 543.4" fill="none" stroke="#333" stroke-width="0.8" />
<path d="M854 547.1 L856 546.1 L856.5 547.2" fill="none" stroke="#1c1c1c" stroke-width="0.8" />
<path d="M841.6 545.9 L842.9 545.3 L843.4 546.4" fill="none" stroke="#111" stroke-width="0.8" />
<path d="M849.6 569.5 L851.9 568.5 L852.4 569.6" fill="none" stroke="#1c1c1c" stroke-width="0.8" />
<path d="M845.3 552.1 L846.6 551.5 L847.1 552.6" fill="none" stroke="#1c1c1c" stroke-width="0.8" />
<path d="M844 550.6 L846.1 549.6 L846.6 550.7" fill="none" stroke="#111" stroke-width="0.8" />
<path d="M845.3 554.4 L847.4 553.5 L847.9 554.6" fill="none" stroke="#333" stroke-width="0.8" />
<path d="M851.2 573 L852.9 572.2 L853.4 573.3" fill="none" stroke="#1c1c1c" stroke-width="0.8" />
<path d="M856.2 576.2 L858 575.3 L858.5 576.4" fill="none" stroke="#1c1c1c" stroke-width="0.8" />
<path d="M862.2 563.7 L863.4 563.2 L863.9 564.3" fill="none" stroke="#1c1c1c" stroke-width="0.8" />
<path d="M846.2 554.4 L847.9 553.6 L848.4 554.7" fill="none" stroke="#333" stroke-width="0.8" />
<path d="M847.4 539.9 L849.5 538.9 L850 540" fill="none" stroke="#333" stroke-width="0.8" />
<path d="M840.3 542 L842.2 541.2 L842.7 542.3" fill="none" stroke="#1c1c1c" stroke-width="0.8" />
<path d="M855.4 550 L857.2 549.2 L857.7 550.3" fill="none" stroke="#333" stroke-width="0.8" />
<path d="M852.9 571.6 L855 570.6 L855.5 571.7" fill="none" stroke="#111" stroke-width="0.8" />
<path d="M847.3 542.3 L849.7 541.2 L850.2 542.3" fill="none" stroke="#1c1c1c" stroke-width="0.8" />
<path d="M850 574.9 L851.9 574.1 L852.3 575.2" fill="none" stroke="#333" stroke-width="0.8" />
<path d="M844.4 555.2 L846.4 554.3 L846.9 555.4" fill="none" stroke="#1c1c1c" stroke-width="0.8" />
<path d="M841.6 538 L843.7 537.1 L844.2 538.2" fill="none" stroke="#1c1c1c" stroke-width="0.8" />
<path d="M863.7 584.2 L865 583.7 L865.5 584.8" fill="none" stroke="#333" stroke-width="0.8" />
<path d="M829.7 539 L833 537.5 L834.5 531.5" fill="none" stroke="#1c1c1c" stroke-width="0.9" />
<path d="M846.8 575.1 L850 577 L854.4 589.4" fill="none" stroke="#1c1c1c" stroke-width="0.9" />
<path d="M850 577 L852 583" fill="none" stroke="#1c1c1c" stroke-width="0.8" />
<path d="M862 588.4 L863.5 581.5 L872.5 578.9" fill="none" stroke="#1c1c1c" stroke-width="0.9" />
<path d="M853.5 540.5 L862.5 537 L866 543" fill="none" stroke="#1c1c1c" stroke-width="0.9" />
<path d="M857 547 L867 553" fill="none" stroke="#333" stroke-width="0.8" />
<path d="M866.8 534.3 L885.8 540.9 L892.4 557 L875.3 550.4 L869 542Z" fill="#fff" stroke="#1c1c1c" stroke-width="1.4" />
<path d="M869.5 536.6 L884.5 542 L889.5 554.4" fill="none" stroke="#1c1c1c" stroke-width="0.8" />
<path d="M873 541.5 L874.8 542.2 L874.5 543.4 L872.7 542.7Z" fill="#333" stroke="#1c1c1c" stroke-width="0.7" />
<path d="M877 545 L878.8 545.7 L878.5 546.9 L876.7 546.2Z" fill="#333" stroke="#1c1c1c" stroke-width="0.7" />
<path d="M881 547 L882.8 547.7 L882.5 548.9 L880.7 548.2Z" fill="#333" stroke="#1c1c1c" stroke-width="0.7" />
<path d="M884.5 550 L886.3 550.7 L886 551.9 L884.2 551.2Z" fill="#333" stroke="#1c1c1c" stroke-width="0.7" />
<path d="M879 541.5 L880.8 542.2 L880.5 543.4 L878.7 542.7Z" fill="#333" stroke="#1c1c1c" stroke-width="0.7" />
<path d="M871.5 545 L873.3 545.7 L873 546.9 L871.2 546.2Z" fill="#333" stroke="#1c1c1c" stroke-width="0.7" />
<line x1="866.5" y1="541.5" x2="869" y2="543" stroke="#111" stroke-width="1.4" />
<line x1="867" y1="545.5" x2="870" y2="547" stroke="#111" stroke-width="1.4" />
</g>
<g id="p91">
<path d="M348 758 L348.5 754 L351 751 L368 743 L371.5 744.5 L374 746 L366 762 L362 775 L361 797 L359 796.5 L355 792 L352.5 786 L352.5 781 L356.5 776 L357 770 L353 765 L348.5 761Z" fill="#fff" stroke="#1c1c1c" stroke-width="1.6" />
<circle cx="353" cy="755.5" r="1.4" fill="none" stroke="#1c1c1c" stroke-width="0.9"/>
<circle cx="361.5" cy="752" r="1.5" fill="none" stroke="#1c1c1c" stroke-width="0.9"/>
<circle cx="361.5" cy="752" r="0.6" fill="none" stroke="#333" stroke-width="0.6"/>
<circle cx="369.5" cy="748.5" r="1.4" fill="none" stroke="#1c1c1c" stroke-width="0.9"/>
<path d="M350 760 L368 752.5" fill="none" stroke="#1c1c1c" stroke-width="1.0" />
<path d="M353 765 L364 760.5" fill="none" stroke="#1c1c1c" stroke-width="0.9" />
<path d="M357 770 L363 767.5" fill="none" stroke="#1c1c1c" stroke-width="0.9" />
<path d="M356.5 776 L362 773.5" fill="none" stroke="#333" stroke-width="0.8" />
<path d="M352.5 783 L361 779" fill="none" stroke="#333" stroke-width="0.8" />
<path d="M355 790 L361 787.5" fill="none" stroke="#333" stroke-width="0.8" />
<path d="M373 745 L378 741 L386 738.5 L389 739.5 L390.5 742 L394 779 L392 781 L361 796.5 L359.5 796 L360 785 L364 768 L370 750Z" fill="#fff" stroke="#1c1c1c" stroke-width="1.7" />
<path d="M372 748 C370.5 752.5 369 755.9 366.5 765 C364 774.1 363.8 774.1 362.8 782 C361.8 789.9 362.7 791.2 362.6 794.5" fill="none" stroke="#1c1c1c" stroke-width="1.0" />
<path d="M362.6 792.5 L393 777" fill="none" stroke="#1c1c1c" stroke-width="0.8" />
<path d="M369 771 L376 753 L384.5 749.5 L385 762 L372 772Z" fill="none" stroke="#1c1c1c" stroke-width="1.6" />
<path d="M376 753 L380 752 L383 757 L383.5 763" fill="none" stroke="#1c1c1c" stroke-width="0.9" />
<path d="M373 762 L383 757" fill="none" stroke="#1c1c1c" stroke-width="0.8" />
<path d="M371 767.5 L379 766 L385 762" fill="none" stroke="#1c1c1c" stroke-width="0.8" />
<path d="M367 784 C366.8 782.9 364.8 781.5 368 779 C371.2 776.5 382.8 770.2 386 769 C389.2 767.8 387.8 770.7 387.5 772 C387.2 773.3 387.1 774.8 384 777 C380.9 779.2 371.8 784.3 369 785.5 C366.2 786.7 367.2 785.1 367 784Z" fill="none" stroke="#1c1c1c" stroke-width="1.6" />
<path d="M369.5 781.5 L373.5 779.5 L374 782 L370 784Z" fill="none" stroke="#1c1c1c" stroke-width="0.8" />
<path d="M373.5 779.5 L380 773.5" fill="none" stroke="#1c1c1c" stroke-width="0.8" />
<path d="M374 782 L384 776.5" fill="none" stroke="#1c1c1c" stroke-width="0.8" />
<line x1="422.2" y1="757.2" x2="415.8" y2="752.2" stroke="#1c1c1c" stroke-width="4.1" />
<line x1="422.2" y1="757.2" x2="415.8" y2="752.2" stroke="#fff" stroke-width="1.3" />
<circle cx="422.2" cy="757.2" r="3" fill="#fff" stroke="#1c1c1c" stroke-width="1.6"/>
<circle cx="422.2" cy="757.2" r="1.2" fill="none" stroke="#333" stroke-width="0.6"/>
</g>
<g id="p62">
<path d="M209.4 800.6 L213.6 794.3 L224.8 789.4 L226.4 793.2 L228.3 797.4 L234.6 795 L237.4 798.5 L226.2 808.6 L220.6 809Z" fill="#fff" stroke="#1c1c1c" stroke-width="1.7" />
<path d="M211 801.5 L225 796 L227.5 799" fill="none" stroke="#1c1c1c" stroke-width="0.9" />
<path d="M212 803.5 L226 798.5" fill="none" stroke="#333" stroke-width="0.8" />
<path d="M213.6 794.3 L216 797.5" fill="none" stroke="#1c1c1c" stroke-width="0.8" />
<path d="M217 795 L224 792 L225.5 795" fill="none" stroke="#1c1c1c" stroke-width="0.8" />
<path d="M215.5 800.2 L224.5 796.6" fill="none" stroke="#333" stroke-width="2.0" />
<path d="M216 803 L225 799.4" fill="none" stroke="#555" stroke-width="1.4" />
<path d="M220.6 809 L221 805.5 L227 803" fill="none" stroke="#1c1c1c" stroke-width="0.8" />
<path d="M228.3 797.4 L229.5 801.5" fill="none" stroke="#1c1c1c" stroke-width="0.8" />
<path d="M225 790.5 L226.5 789.2 L228 792" fill="none" stroke="#1c1c1c" stroke-width="0.9" />
<path d="M252.8 798.5 L256.3 796.4 L271 805.5 L265.4 809 L253.5 803.4Z" fill="#fff" stroke="#1c1c1c" stroke-width="1.7" />
<path d="M254.5 799.5 L266 806.5 L265.4 809" fill="none" stroke="#1c1c1c" stroke-width="0.8" />
<path d="M266 806.5 L270.5 804.2" fill="none" stroke="#1c1c1c" stroke-width="0.8" />
<path d="M256 801 L263.5 805.5" fill="none" stroke="#444" stroke-width="2.2" />
<path d="M276.6 792.9 L282.2 788.7 L293.4 794.3 L292.5 797.4 L289.5 798.5 L290 801.5 L287.8 802 L285.5 798.5 L281.5 800 L280.8 797.8Z" fill="#fff" stroke="#1c1c1c" stroke-width="1.7" />
<path d="M279.5 793 L283 790.6 L290.5 794.5 L287 796.8Z" fill="none" stroke="#1c1c1c" stroke-width="0.9" />
<path d="M282 792.5 L287.5 795.2" fill="none" stroke="#333" stroke-width="2.0" />
<path d="M280.8 797.8 L284.5 795.5" fill="none" stroke="#1c1c1c" stroke-width="0.8" />
</g>
<g id="p41">
<path d="M718 786.6 L708 791.8 L711.5 796 L724.5 790Z" fill="#fff" stroke="#1c1c1c" stroke-width="1.3" />
<path d="M709.5 793.8 L722 787.8" fill="none" stroke="#333" stroke-width="0.7" />
<path d="M712 781.5 L723.5 775 L731 778.5 L734 778 L737.5 781.5 L737 783.5 L741 785 L739 789 L730 793 L727 790 L723.5 789.6 L714 784Z" fill="#fff" stroke="#1c1c1c" stroke-width="1.4" />
<path d="M712.5 782.5 L727 790" fill="none" stroke="#888" stroke-width="0.8" />
<path d="M727 790 L737 785.4" fill="none" stroke="#333" stroke-width="0.8" />
<path d="M730 793 L729.5 790.5 L739 786.2" fill="none" stroke="#333" stroke-width="0.7" />
</g>
<g id="case">
<path d="M794.3 763.7 L796 760 L799.8 758.2 L903.2 701 L906 700 L908.7 700.6 L916.4 706.5 L964.8 737.3 L974.7 741.7 L979.1 748.3 L981.6 756 L981.3 765 L978 776.9 L971.4 782.4 L876.8 830.8 L868 834.1 L861.4 831.9 L800.9 800 L795.4 793.4 L793.2 778Z" fill="#fff" stroke="#1c1c1c" stroke-width="1.6" />
<path d="M796 762.5 L800 760.4 L861.4 793.4 L868 792.3 L953.8 743.9 L964.8 737.3" fill="none" stroke="#333" stroke-width="0.9" />
<path d="M799 765.5 L860.5 797 L868 795.8 L955 746.8" fill="none" stroke="#777" stroke-width="0.6" />
<path d="M824 757.1 L907.6 717.5" fill="none" stroke="#555" stroke-width="0.7" />
<path d="M828 760 L909 721.5" fill="none" stroke="#555" stroke-width="0.7" />
<path d="M907 703.5 L912 707.5 L958 736.5" fill="none" stroke="#555" stroke-width="0.7" />
<path d="M806 757.5 L812 756" fill="none" stroke="#555" stroke-width="0.7" />
<path d="M836.1 774.7 L842.7 763.7 L857 756 L872.4 765.9 L890 763.7 L898.8 767 L876.8 774.7 L866 780 L854.8 781.3Z" fill="none" stroke="#333" stroke-width="0.8" />
<path d="M842.7 763.7 L854 770 L854.8 781.3" fill="none" stroke="#555" stroke-width="0.7" />
<path d="M854 770 L864 766 L876.8 774.7" fill="none" stroke="#555" stroke-width="0.7" />
<path d="M857 756 L862.5 767" fill="none" stroke="#555" stroke-width="0.6" />
<path d="M878 770.5 L888 767 L892 770.5 L882 774Z" fill="none" stroke="#555" stroke-width="0.7" />
<path d="M884 770 L887 768.8" fill="none" stroke="#333" stroke-width="1.2" />
<path d="M868 792.3 L870 800 L868 834.1" fill="none" stroke="#333" stroke-width="0.8" />
<path d="M861.4 793.4 L862.5 800 L861.4 831.9" fill="none" stroke="#555" stroke-width="0.7" />
<path d="M872 795 L956 751" fill="none" stroke="#333" stroke-width="0.8" />
<path d="M876 800.5 L958 757.5" fill="none" stroke="#555" stroke-width="0.7" />
<path d="M864 791.5 L876.5 799.5 L878 812" fill="none" stroke="#222" stroke-width="1.0" />
<path d="M866.6 790.9 L879.1 798.9 L880.6 811.2" fill="none" stroke="#222" stroke-width="1.0" />
<path d="M869.2 790.3 L881.7 798.3 L883.2 810.4" fill="none" stroke="#222" stroke-width="1.0" />
<path d="M871.8 789.7 L884.3 797.7 L885.8 809.6" fill="none" stroke="#222" stroke-width="1.0" />
<path d="M951 743.2 L964 750.6 L966 762.5" fill="none" stroke="#222" stroke-width="1.0" />
<path d="M953.6 742.6 L966.6 750 L968.6 761.7" fill="none" stroke="#222" stroke-width="1.0" />
<path d="M956.2 742 L969.2 749.4 L971.2 760.9" fill="none" stroke="#222" stroke-width="1.0" />
<path d="M958.8 741.4 L971.8 748.8 L973.8 760.1" fill="none" stroke="#222" stroke-width="1.0" />
<path d="M866 796 L866.5 830" fill="none" stroke="#555" stroke-width="0.7" />
<path d="M869.2 802 L872 803.2" fill="none" stroke="#333" stroke-width="0.8" />
<path d="M869.2 806 L872 807.2" fill="none" stroke="#333" stroke-width="0.8" />
<path d="M869.2 810 L872 811.2" fill="none" stroke="#333" stroke-width="0.8" />
<path d="M869.2 814 L872 815.2" fill="none" stroke="#333" stroke-width="0.8" />
<path d="M869.2 818 L872 819.2" fill="none" stroke="#333" stroke-width="0.8" />
<path d="M869.2 822 L872 823.2" fill="none" stroke="#333" stroke-width="0.8" />
<path d="M869.2 826 L872 827.2" fill="none" stroke="#333" stroke-width="0.8" />
<path d="M872 800 L873 831" fill="none" stroke="#555" stroke-width="0.7" />
<path d="M879.5 812 L880 827" fill="none" stroke="#555" stroke-width="0.7" />
<path d="M886 806 L887 824.5" fill="none" stroke="#555" stroke-width="0.7" />
<path d="M904 798 L906.5 796 L908 806 L906 808 L905 813 L909 811.5 L909.8 808.8 L951.6 786.8 L950.5 778 L953 776.5 L954 789 L909.5 812.5" fill="none" stroke="#333" stroke-width="0.8" />
<path d="M907.6 795.6 L949.4 776.9" fill="none" stroke="#333" stroke-width="0.8" />
<path d="M911.5 798 L947 781.5 L948 786.5 L912 803.5Z" fill="none" stroke="#555" stroke-width="0.7" />
<path d="M886 822 L900 816.5 L900.5 812 L905 810" fill="none" stroke="#555" stroke-width="0.7" />
<path d="M956 784 L972 775.5" fill="none" stroke="#555" stroke-width="0.7" />
<path d="M958 757.5 L959 783" fill="none" stroke="#555" stroke-width="0.7" />
<path d="M967 766 L968 779" fill="none" stroke="#555" stroke-width="0.7" />
<path d="M921 775.5 L925 773.5 L927.5 781 L924.5 785 L922.5 780Z" fill="#fff" stroke="#333" stroke-width="0.8" />
<path d="M847 798.5 L853 801.5" fill="none" stroke="#555" stroke-width="0.7" />
<path d="M847 800.5 L853 803.5" fill="none" stroke="#555" stroke-width="0.7" />
<path d="M846 822 L852 825 L852 828" fill="none" stroke="#555" stroke-width="0.7" />
<path d="M800 797 L812 803.5" fill="none" stroke="#888" stroke-width="0.6" />
</g>
<g id="dashes">
<line x1="34" y1="715" x2="90" y2="690" stroke="#4a4a4a" stroke-width="0.8" stroke-dasharray="10 3"/>
<line x1="190" y1="644.5" x2="243" y2="620.6" stroke="#4a4a4a" stroke-width="0.8" stroke-dasharray="10 3"/>
<line x1="298" y1="596" x2="358" y2="569" stroke="#4a4a4a" stroke-width="0.8" stroke-dasharray="10 3"/>
<line x1="418" y1="545.5" x2="527" y2="492" stroke="#4a4a4a" stroke-width="0.8" stroke-dasharray="10 3"/>
<line x1="651" y1="433" x2="750" y2="389" stroke="#4a4a4a" stroke-width="0.8" stroke-dasharray="11 3"/>
<line x1="820" y1="358" x2="888" y2="327" stroke="#4a4a4a" stroke-width="0.8" stroke-dasharray="14 4"/>
<line x1="933" y1="307.6" x2="954.6" y2="298.4" stroke="#4a4a4a" stroke-width="0.8" stroke-dasharray="12 4"/>
<line x1="820" y1="418" x2="954.6" y2="356" stroke="#4a4a4a" stroke-width="0.8" stroke-dasharray="6 3"/>
<line x1="954.6" y1="298.4" x2="954.6" y2="356" stroke="#4a4a4a" stroke-width="0.8" stroke-dasharray="6 3"/>
<line x1="470" y1="576" x2="792" y2="430" stroke="#4a4a4a" stroke-width="0.8" stroke-dasharray="9 3"/>
<line x1="470" y1="576" x2="470" y2="730" stroke="#4a4a4a" stroke-width="0.8" stroke-dasharray="10 4"/>
<line x1="470" y1="730" x2="551" y2="694" stroke="#4a4a4a" stroke-width="0.8" stroke-dasharray="12 3"/>
<line x1="581" y1="680.6" x2="640" y2="654.4" stroke="#4a4a4a" stroke-width="0.8" stroke-dasharray="12 3"/>
<line x1="700" y1="628" x2="719" y2="619.6" stroke="#4a4a4a" stroke-width="0.8" stroke-dasharray="12 3"/>
<line x1="824" y1="572.6" x2="840" y2="565.5" stroke="#4a4a4a" stroke-width="0.8" stroke-dasharray="8 3"/>
<line x1="888" y1="541.6" x2="975" y2="503.5" stroke="#4a4a4a" stroke-width="0.8" stroke-dasharray="13 3"/>
</g>
<g id="labels">
<line x1="892.6" y1="745.5" x2="892.6" y2="766.2" stroke="#1c1c1c" stroke-width="1.25" />
<text x="190.6" y="205.6" text-anchor="middle" font-size="15.6">90</text>
<text x="426.7" y="177.7" text-anchor="middle" font-size="15.6">34</text>
<text x="491.2" y="211.7" text-anchor="middle" font-size="15.6">36</text>
<text x="507.4" y="239.7" text-anchor="middle" font-size="15.6">35</text>
<text x="51" y="362.7" text-anchor="middle" font-size="15.6">38</text>
<text x="643.3" y="347.1" text-anchor="middle" font-size="15.6">13</text>
<text x="695.5" y="342.5" text-anchor="middle" font-size="15.6">17</text>
<text x="727.8" y="331.5" text-anchor="middle" font-size="15.6">18</text>
<text x="765.7" y="299.1" text-anchor="middle" font-size="15.6">69</text>
<text x="793.5" y="289.1" text-anchor="middle" font-size="15.6">68</text>
<text x="828.7" y="287.5" text-anchor="middle" font-size="15.6">19</text>
<text x="891.8" y="256.1" text-anchor="middle" font-size="15.6">20</text>
<text x="501.8" y="405.7" text-anchor="middle" font-size="15.6">74</text>
<text x="337.4" y="532.5" text-anchor="middle" font-size="15.6">7</text>
<text x="371" y="518.1" text-anchor="middle" font-size="15.6">8</text>
<text x="421" y="494.5" text-anchor="middle" font-size="15.6">9</text>
<text x="444.5" y="485.1" text-anchor="middle" font-size="15.6">10</text>
<text x="474" y="472.1" text-anchor="middle" font-size="15.6">11</text>
<text x="534.5" y="444.1" text-anchor="middle" font-size="15.6">7</text>
<text x="559.5" y="434.1" text-anchor="middle" font-size="15.6">12</text>
<text x="793" y="482.5" text-anchor="middle" font-size="15.6">72</text>
<text x="843" y="510.7" text-anchor="middle" font-size="15.6">32</text>
<text x="936.5" y="470.6" text-anchor="middle" font-size="15.6">34</text>
<text x="731.8" y="575.6" text-anchor="middle" font-size="15.6">29</text>
<text x="583.8" y="576.1" text-anchor="middle" font-size="15.6">82</text>
<text x="239" y="529.3" text-anchor="middle" font-size="15.6">81</text>
<text x="177.1" y="559.5" text-anchor="middle" font-size="15.6">3</text>
<text x="217.6" y="589.1" text-anchor="middle" font-size="15.6">4</text>
<text x="230.8" y="584.7" text-anchor="middle" font-size="15.6">5</text>
<text x="51" y="604.1" text-anchor="middle" font-size="15.6">1</text>
<text x="114" y="578.1" text-anchor="middle" font-size="15.6">2</text>
<text x="389.4" y="661.1" text-anchor="middle" font-size="15.6">91</text>
<text x="247.9" y="727.6" text-anchor="middle" font-size="15.6">62</text>
<text x="730.2" y="735.9" text-anchor="middle" font-size="15.6">41</text>
<text x="891.3" y="738.7" text-anchor="middle" font-size="15.6">702</text>
<text x="975" y="806.1" text-anchor="middle" font-size="15.6">701</text>
</g>
</svg>
</body></html>
